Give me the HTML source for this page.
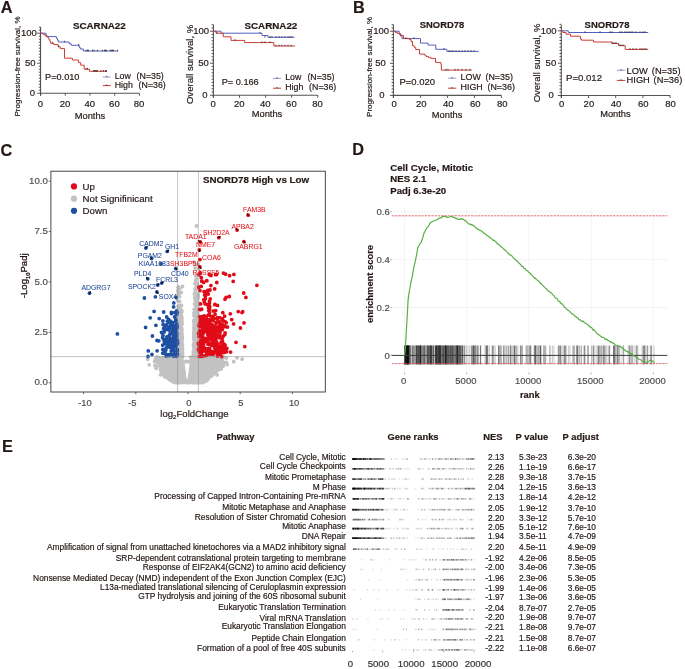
<!DOCTYPE html>
<html><head><meta charset="utf-8"><style>
html,body{margin:0;padding:0;background:#fff;}
svg{display:block;filter:blur(0.3px);font-family:"Liberation Sans",sans-serif;}
</style></head><body>
<svg width="685" height="669" viewBox="0 0 685 669">
<rect width="685" height="669" fill="#fff"/>
<text x="0.8" y="12.6" font-size="16.3" font-weight="bold" fill="#231815" stroke="#231815" stroke-width="0.18">A</text>
<text x="353.0" y="13.2" font-size="16.3" font-weight="bold" fill="#231815" stroke="#231815" stroke-width="0.18">B</text>
<text x="0.6" y="156.3" font-size="16.3" font-weight="bold" fill="#231815" stroke="#231815" stroke-width="0.18">C</text>
<text x="352.2" y="155.1" font-size="16.3" font-weight="bold" fill="#231815" stroke="#231815" stroke-width="0.18">D</text>
<text x="2.1" y="451.5" font-size="16.3" font-weight="bold" fill="#231815" stroke="#231815" stroke-width="0.18">E</text>
<path d="M40.6,27.0V95.7" stroke="#333" stroke-width="0.9" fill="none"/>
<path d="M40.1,93.2H139.4" stroke="#555" stroke-width="1.1" fill="none"/>
<path d="M37.20,93.20H40.6M38.80,90.20H40.6M38.80,87.20H40.6M38.80,84.20H40.6M38.80,81.20H40.6M38.80,78.20H40.6M38.80,75.20H40.6M38.80,72.20H40.6M38.80,69.20H40.6M38.80,66.20H40.6M37.20,63.20H40.6M38.80,60.20H40.6M38.80,57.20H40.6M38.80,54.20H40.6M38.80,51.20H40.6M38.80,48.20H40.6M38.80,45.20H40.6M38.80,42.20H40.6M38.80,39.20H40.6M38.80,36.20H40.6M37.20,33.20H40.6M38.80,30.20H40.6M38.80,27.20H40.6" stroke="#333" stroke-width="0.85" fill="none"/>
<path d="M40.60,93.2V95.7M65.30,93.2V95.7M90.00,93.2V95.7M114.70,93.2V95.7M139.40,93.2V95.7" stroke="#444" stroke-width="0.9" fill="none"/>
<text x="35.0" y="95.6" font-size="9.5" text-anchor="end" fill="#231815" stroke="#231815" stroke-width="0.18">0</text>
<text x="35.6" y="66.3" font-size="9.5" text-anchor="end" fill="#231815" stroke="#231815" stroke-width="0.18">50</text>
<text x="36.8" y="36.3" font-size="9.5" text-anchor="end" fill="#231815" stroke="#231815" stroke-width="0.18">100</text>
<text x="40.3" y="107.0" font-size="9.5" text-anchor="middle" fill="#231815" stroke="#231815" stroke-width="0.18">0</text>
<text x="65.0" y="107.0" font-size="9.5" text-anchor="middle" fill="#231815" stroke="#231815" stroke-width="0.18">20</text>
<text x="89.7" y="107.0" font-size="9.5" text-anchor="middle" fill="#231815" stroke="#231815" stroke-width="0.18">40</text>
<text x="114.4" y="107.0" font-size="9.5" text-anchor="middle" fill="#231815" stroke="#231815" stroke-width="0.18">60</text>
<text x="139.1" y="107.0" font-size="9.5" text-anchor="middle" fill="#231815" stroke="#231815" stroke-width="0.18">80</text>
<text x="90.0" y="118.6" font-size="9.3" text-anchor="middle" fill="#231815" stroke="#231815" stroke-width="0.18">Months</text>
<text transform="translate(20.0,66.5) rotate(-90)" font-size="8.0" text-anchor="middle" fill="#231815" stroke="#231815" stroke-width="0.18">Progression-free survival, %</text>
<text x="99.3" y="29.4" font-size="9.8" font-weight="bold" text-anchor="middle" fill="#231815" stroke="#231815" stroke-width="0.18">SCARNA22</text>
<text x="45.0" y="80.0" font-size="9.2" fill="#231815" stroke="#231815" stroke-width="0.18">P=0.010</text>
<path d="M40.6,33.2H45.9V34.8H46.8V36.6H56.4V38.5H57.5V40.3H58.6V42H69.1V43.8H71.3V45.3H79.2V47.5H80.3V49H83.3V51H118" stroke="#5360c0" stroke-width="1" fill="none"/>
<path d="M40.6,33.2H42.8V34.1H44.2V35H45.4V35.9H46.8V36.8H48.1V38.1H48.9V39.4H49.8V41.1H50.7V43.3H53.8V44.6H58.1V46.8H60.3V48.6H64.5V58.2H72.4V60H78.5V62.6H80.7V65.2H84.2V69.2H89.5V71.3H107" stroke="#cc3c34" stroke-width="1" fill="none"/>
<path d="M64.7,40.7v1.6M78.7,44.0v1.6M86.2,49.7v1.6M87.5,49.7v1.6M88.5,49.7v1.6M92.5,49.7v1.6M94.0,49.7v1.6M97.4,49.7v1.6M102.4,49.7v1.6M104.6,49.7v1.6M105.5,49.7v1.6M106.5,49.7v1.6M110.3,49.7v1.6M111.3,49.7v1.6M112.5,49.7v1.6M113.5,49.7v1.6M117.6,49.7v1.6M52.4,42.0v1.6M58.6,45.5v1.6M86.0,67.9v1.6M87.5,67.9v1.6M93.4,70.0v1.6M94.4,70.0v1.6M95.4,70.0v1.6M96.4,70.0v1.6M97.4,70.0v1.6M101.0,70.0v1.6M103.5,70.0v1.6M105.5,70.0v1.6M106.5,70.0v1.6" stroke="#111" stroke-width="0.7" fill="none"/>
<path d="M102.8,77.0H110.7" stroke="#5360c0" stroke-width="1" opacity="0.6"/>
<path d="M102.8,85.6H110.7" stroke="#cc3c34" stroke-width="1"/>
<path d="M106.75,75.8v1.4M106.75,84.39999999999999v1.4" stroke="#111" stroke-width="0.7"/>
<text x="114.7" y="78.8" font-size="8.8" fill="#231815" stroke="#231815" stroke-width="0.18">Low</text>
<text x="114.7" y="88.4" font-size="8.8" fill="#231815" stroke="#231815" stroke-width="0.18">High</text>
<text x="136.6" y="78.8" font-size="8.8" fill="#231815" stroke="#231815" stroke-width="0.18">(N=35)</text>
<text x="138.6" y="88.4" font-size="8.8" fill="#231815" stroke="#231815" stroke-width="0.18">(N=36)</text>
<path d="M213.4,24.7V97.7" stroke="#333" stroke-width="0.9" fill="none"/>
<path d="M212.9,95.2H317.8" stroke="#555" stroke-width="1.1" fill="none"/>
<path d="M210.00,95.20H213.4M211.60,92.00H213.4M211.60,88.80H213.4M211.60,85.60H213.4M211.60,82.40H213.4M211.60,79.20H213.4M211.60,76.00H213.4M211.60,72.80H213.4M211.60,69.60H213.4M211.60,66.40H213.4M210.00,63.20H213.4M211.60,60.00H213.4M211.60,56.80H213.4M211.60,53.60H213.4M211.60,50.40H213.4M211.60,47.20H213.4M211.60,44.00H213.4M211.60,40.80H213.4M211.60,37.60H213.4M211.60,34.40H213.4M210.00,31.20H213.4M211.60,28.00H213.4M211.60,24.80H213.4" stroke="#333" stroke-width="0.85" fill="none"/>
<path d="M213.40,95.2V97.7M239.50,95.2V97.7M265.60,95.2V97.7M291.70,95.2V97.7M317.80,95.2V97.7" stroke="#444" stroke-width="0.9" fill="none"/>
<text x="207.6" y="97.6" font-size="9.5" text-anchor="end" fill="#231815" stroke="#231815" stroke-width="0.18">0</text>
<text x="208.8" y="66.3" font-size="9.5" text-anchor="end" fill="#231815" stroke="#231815" stroke-width="0.18">50</text>
<text x="209.1" y="34.3" font-size="9.5" text-anchor="end" fill="#231815" stroke="#231815" stroke-width="0.18">100</text>
<text x="213.1" y="107.0" font-size="9.5" text-anchor="middle" fill="#231815" stroke="#231815" stroke-width="0.18">0</text>
<text x="239.2" y="107.0" font-size="9.5" text-anchor="middle" fill="#231815" stroke="#231815" stroke-width="0.18">20</text>
<text x="265.3" y="107.0" font-size="9.5" text-anchor="middle" fill="#231815" stroke="#231815" stroke-width="0.18">40</text>
<text x="291.4" y="107.0" font-size="9.5" text-anchor="middle" fill="#231815" stroke="#231815" stroke-width="0.18">60</text>
<text x="317.5" y="107.0" font-size="9.5" text-anchor="middle" fill="#231815" stroke="#231815" stroke-width="0.18">80</text>
<text x="267.0" y="117.0" font-size="9.3" text-anchor="middle" fill="#231815" stroke="#231815" stroke-width="0.18">Months</text>
<text transform="translate(193.0,64.4) rotate(-90)" font-size="9.6" text-anchor="middle" fill="#231815" stroke="#231815" stroke-width="0.18">Overall survival, %</text>
<text x="270.9" y="29.4" font-size="9.8" font-weight="bold" text-anchor="middle" fill="#231815" stroke="#231815" stroke-width="0.18">SCARNA22</text>
<text x="221.7" y="84.9" font-size="9.2" fill="#231815" stroke="#231815" stroke-width="0.18">P= 0.166</text>
<path d="M213.4,31.2H221V33.2H262V35.5H268V37.3H294.5" stroke="#5360c0" stroke-width="1" fill="none"/>
<path d="M213.4,31.2H216V33.2H223.3V36.8H231V40.4H244.6V42.6H273.8V46H295" stroke="#cc3c34" stroke-width="1" fill="none"/>
<path d="M217.0,31.9v1.6M260.0,31.9v1.6M265.0,36.0v1.6M270.0,36.0v1.6M272.0,36.0v1.6M276.0,36.0v1.6M279.0,36.0v1.6M282.0,36.0v1.6M285.0,36.0v1.6M288.0,36.0v1.6M290.0,36.0v1.6M292.0,36.0v1.6M235.0,39.1v1.6M262.0,41.3v1.6M265.0,41.3v1.6M270.0,41.3v1.6M276.0,44.7v1.6M279.0,44.7v1.6M282.0,44.7v1.6M285.0,44.7v1.6M288.0,44.7v1.6M291.0,44.7v1.6" stroke="#111" stroke-width="0.7" fill="none"/>
<path d="M273.0,78.4H281.1" stroke="#5360c0" stroke-width="1" opacity="0.6"/>
<path d="M273.0,88.2H281.1" stroke="#cc3c34" stroke-width="1"/>
<path d="M277.05,77.2v1.4M277.05,87.0v1.4" stroke="#111" stroke-width="0.7"/>
<text x="285.2" y="80.3" font-size="8.8" fill="#231815" stroke="#231815" stroke-width="0.18">Low</text>
<text x="285.2" y="89.7" font-size="8.8" fill="#231815" stroke="#231815" stroke-width="0.18">High</text>
<text x="307.4" y="80.3" font-size="8.8" fill="#231815" stroke="#231815" stroke-width="0.18">(N=35)</text>
<text x="309.1" y="89.7" font-size="8.8" fill="#231815" stroke="#231815" stroke-width="0.18">(N=36)</text>
<path d="M393.4,24.6V97.9" stroke="#333" stroke-width="0.9" fill="none"/>
<path d="M392.9,95.4H501.4" stroke="#555" stroke-width="1.1" fill="none"/>
<path d="M390.00,95.40H393.4M391.60,92.19H393.4M391.60,88.98H393.4M391.60,85.77H393.4M391.60,82.56H393.4M391.60,79.35H393.4M391.60,76.14H393.4M391.60,72.93H393.4M391.60,69.72H393.4M391.60,66.51H393.4M390.00,63.30H393.4M391.60,60.09H393.4M391.60,56.88H393.4M391.60,53.67H393.4M391.60,50.46H393.4M391.60,47.25H393.4M391.60,44.04H393.4M391.60,40.83H393.4M391.60,37.62H393.4M391.60,34.41H393.4M390.00,31.20H393.4M391.60,27.99H393.4M391.60,24.78H393.4" stroke="#333" stroke-width="0.85" fill="none"/>
<path d="M393.40,95.4V97.9M420.40,95.4V97.9M447.40,95.4V97.9M474.40,95.4V97.9M501.40,95.4V97.9" stroke="#444" stroke-width="0.9" fill="none"/>
<text x="384.6" y="97.8" font-size="9.5" text-anchor="end" fill="#231815" stroke="#231815" stroke-width="0.18">0</text>
<text x="385.8" y="66.4" font-size="9.5" text-anchor="end" fill="#231815" stroke="#231815" stroke-width="0.18">50</text>
<text x="389.1" y="34.3" font-size="9.5" text-anchor="end" fill="#231815" stroke="#231815" stroke-width="0.18">100</text>
<text x="394.2" y="107.4" font-size="9.5" text-anchor="middle" fill="#231815" stroke="#231815" stroke-width="0.18">0</text>
<text x="421.2" y="107.4" font-size="9.5" text-anchor="middle" fill="#231815" stroke="#231815" stroke-width="0.18">20</text>
<text x="448.2" y="107.4" font-size="9.5" text-anchor="middle" fill="#231815" stroke="#231815" stroke-width="0.18">40</text>
<text x="475.2" y="107.4" font-size="9.5" text-anchor="middle" fill="#231815" stroke="#231815" stroke-width="0.18">60</text>
<text x="502.2" y="107.4" font-size="9.5" text-anchor="middle" fill="#231815" stroke="#231815" stroke-width="0.18">80</text>
<text x="447.1" y="118.4" font-size="9.3" text-anchor="middle" fill="#231815" stroke="#231815" stroke-width="0.18">Months</text>
<text transform="translate(371.8,66.9) rotate(-90)" font-size="8.0" text-anchor="middle" fill="#231815" stroke="#231815" stroke-width="0.18">Progression-free survival, %</text>
<text x="442.0" y="27.5" font-size="9.4" font-weight="bold" text-anchor="middle" fill="#231815" stroke="#231815" stroke-width="0.18">SNORD78</text>
<text x="399.4" y="84.9" font-size="9.5" fill="#231815" stroke="#231815" stroke-width="0.18">P=0.020</text>
<path d="M393.4,31.2H399.2V33.5H400.5V36H402V38.6H420.5V43.1H428.1V45.1H435.8V49.3H446.9V51.4H478.7" stroke="#5360c0" stroke-width="1" fill="none"/>
<path d="M393.4,31.2H395.5V32.6H397.5V33.5H399.5V34.7H401.5V35.6H403.5V38.4H409.4V39.5H411V41.5H412.5V45.8H414.3V47.3H415.7V49.5H419.5V54.1H424.7V55.2H426.1V56.5H428.5V57.7H431V58.4H435.5V62.4H440.8V64H441.3V70.1H471.7" stroke="#cc3c34" stroke-width="1" fill="none"/>
<path d="M406.0,37.3v1.6M414.0,37.3v1.6M444.0,48.0v1.6M449.0,50.1v1.6M451.0,50.1v1.6M453.0,50.1v1.6M456.0,50.1v1.6M459.0,50.1v1.6M462.0,50.1v1.6M465.0,50.1v1.6M468.0,50.1v1.6M471.0,50.1v1.6M474.0,50.1v1.6M446.0,68.8v1.6M448.0,68.8v1.6M455.0,68.8v1.6M458.0,68.8v1.6M462.0,68.8v1.6M466.0,68.8v1.6M470.0,68.8v1.6" stroke="#111" stroke-width="0.7" fill="none"/>
<path d="M448.1,78.2H456.3" stroke="#5360c0" stroke-width="1" opacity="0.6"/>
<path d="M448.1,88.2H456.3" stroke="#cc3c34" stroke-width="1"/>
<path d="M452.20000000000005,77.0v1.4M452.20000000000005,87.0v1.4" stroke="#111" stroke-width="0.7"/>
<text x="460.6" y="80.4" font-size="8.9" fill="#231815" stroke="#231815" stroke-width="0.18">LOW</text>
<text x="460.6" y="90.3" font-size="8.9" fill="#231815" stroke="#231815" stroke-width="0.18">HIGH</text>
<text x="485.5" y="80.4" font-size="8.9" fill="#231815" stroke="#231815" stroke-width="0.18">(N=35)</text>
<text x="487.5" y="90.3" font-size="8.9" fill="#231815" stroke="#231815" stroke-width="0.18">(N=36)</text>
<path d="M561.3,24.9V98.0" stroke="#333" stroke-width="0.9" fill="none"/>
<path d="M560.8,95.5H670.0999999999999" stroke="#555" stroke-width="1.1" fill="none"/>
<path d="M557.90,95.50H561.3M559.50,92.27H561.3M559.50,89.03H561.3M559.50,85.80H561.3M559.50,82.56H561.3M559.50,79.33H561.3M559.50,76.09H561.3M559.50,72.86H561.3M559.50,69.62H561.3M559.50,66.38H561.3M557.90,63.15H561.3M559.50,59.91H561.3M559.50,56.68H561.3M559.50,53.45H561.3M559.50,50.21H561.3M559.50,46.98H561.3M559.50,43.74H561.3M559.50,40.50H561.3M559.50,37.27H561.3M559.50,34.03H561.3M557.90,30.80H561.3M559.50,27.56H561.3M559.50,24.33H561.3" stroke="#333" stroke-width="0.85" fill="none"/>
<path d="M561.30,95.5V98.0M588.50,95.5V98.0M615.70,95.5V98.0M642.90,95.5V98.0M670.10,95.5V98.0" stroke="#444" stroke-width="0.9" fill="none"/>
<text x="553.8" y="97.9" font-size="9.5" text-anchor="end" fill="#231815" stroke="#231815" stroke-width="0.18">0</text>
<text x="556.2" y="66.2" font-size="9.5" text-anchor="end" fill="#231815" stroke="#231815" stroke-width="0.18">50</text>
<text x="556.6" y="33.9" font-size="9.5" text-anchor="end" fill="#231815" stroke="#231815" stroke-width="0.18">100</text>
<text x="561.7" y="107.2" font-size="9.5" text-anchor="middle" fill="#231815" stroke="#231815" stroke-width="0.18">0</text>
<text x="588.9" y="107.2" font-size="9.5" text-anchor="middle" fill="#231815" stroke="#231815" stroke-width="0.18">20</text>
<text x="616.1" y="107.2" font-size="9.5" text-anchor="middle" fill="#231815" stroke="#231815" stroke-width="0.18">40</text>
<text x="643.3" y="107.2" font-size="9.5" text-anchor="middle" fill="#231815" stroke="#231815" stroke-width="0.18">60</text>
<text x="670.5" y="107.2" font-size="9.5" text-anchor="middle" fill="#231815" stroke="#231815" stroke-width="0.18">80</text>
<text x="615.4" y="116.8" font-size="9.3" text-anchor="middle" fill="#231815" stroke="#231815" stroke-width="0.18">Months</text>
<text transform="translate(539.5,63.0) rotate(-90)" font-size="9.5" text-anchor="middle" fill="#231815" stroke="#231815" stroke-width="0.18">Overall survival, %</text>
<text x="607.0" y="27.5" font-size="9.5" font-weight="bold" text-anchor="middle" fill="#231815" stroke="#231815" stroke-width="0.18">SNORD78</text>
<text x="566.0" y="80.8" font-size="9.6" fill="#231815" stroke="#231815" stroke-width="0.18">P=0.012</text>
<path d="M561.3,30.8H568.3V32.5H648.2" stroke="#5360c0" stroke-width="1" fill="none"/>
<path d="M561.3,30.8H562.8V32.5H566V34.2H570.5V36.2H580.4V39.1H581.5V40.2H593.5V42H612.1V43.5H618.7V45.7H625.2V49.4H648.2" stroke="#cc3c34" stroke-width="1" fill="none"/>
<path d="M585.0,31.2v1.6M600.0,31.2v1.6M610.0,31.2v1.6M612.0,31.2v1.6M620.0,31.2v1.6M622.0,31.2v1.6M625.0,31.2v1.6M627.0,31.2v1.6M629.0,31.2v1.6M631.0,31.2v1.6M633.0,31.2v1.6M636.0,31.2v1.6M640.0,31.2v1.6M643.0,31.2v1.6M645.0,31.2v1.6M612.0,42.2v1.6M614.0,42.2v1.6M616.0,42.2v1.6M619.0,44.4v1.6M621.0,44.4v1.6M623.0,44.4v1.6M630.0,48.1v1.6M633.0,48.1v1.6M636.0,48.1v1.6M640.0,48.1v1.6M642.0,48.1v1.6M644.0,48.1v1.6M646.0,48.1v1.6" stroke="#111" stroke-width="0.7" fill="none"/>
<path d="M616.8,70.3H625.3" stroke="#5360c0" stroke-width="1" opacity="0.6"/>
<path d="M616.8,80.4H625.3" stroke="#cc3c34" stroke-width="1"/>
<path d="M621.05,69.1v1.4M621.05,79.2v1.4" stroke="#111" stroke-width="0.7"/>
<text x="626.6" y="73.5" font-size="9.3" fill="#231815" stroke="#231815" stroke-width="0.18">LOW</text>
<text x="626.6" y="83.3" font-size="9.3" fill="#231815" stroke="#231815" stroke-width="0.18">HIGH</text>
<text x="651.8" y="73.5" font-size="9.3" fill="#231815" stroke="#231815" stroke-width="0.18">(N=35)</text>
<text x="653.6" y="83.3" font-size="9.3" fill="#231815" stroke="#231815" stroke-width="0.18">(N=36)</text>
<path d="M194.5 366.4h0M179.0 362.5h0M177.7 374.9h0M182.5 361.9h0M195.3 374.9h0M178.5 376.1h0M199.7 369.6h0M173.8 366.5h0M194.1 366.7h0M188.2 381.9h0M183.6 370.6h0M192.1 366.3h0M180.1 377.8h0M202.2 382.7h0M191.6 360.6h0M170.4 363.3h0M192.2 368.6h0M216.7 359.9h0M175.0 367.1h0M198.1 372.6h0M199.5 378.9h0M199.3 372.8h0M181.8 367.3h0M175.1 378.8h0M205.6 380.3h0M180.2 377.2h0M164.6 374.9h0M199.6 360.6h0M176.1 366.0h0M199.1 376.5h0M199.3 359.8h0M204.3 368.4h0M198.2 363.1h0M195.1 373.0h0M178.9 365.5h0M182.5 373.8h0M197.0 364.9h0M197.4 359.0h0M176.8 363.1h0M179.4 379.2h0M193.1 361.4h0M182.9 366.3h0M164.5 369.3h0M195.3 376.9h0M201.7 373.3h0M200.5 373.7h0M200.8 367.8h0M170.6 375.7h0M209.4 371.1h0M177.9 359.3h0M183.5 367.6h0M180.3 359.8h0M173.9 358.6h0M181.9 377.2h0M195.0 360.8h0M171.6 370.2h0M182.4 365.5h0M200.2 357.6h0M196.5 378.0h0M174.7 361.4h0M184.0 379.8h0M186.7 381.6h0M190.9 382.3h0M199.5 376.3h0M183.3 367.9h0M203.0 367.3h0M200.8 374.7h0M202.6 368.7h0M210.4 365.5h0M201.9 377.8h0M202.0 381.8h0M210.0 357.6h0M177.4 374.5h0M201.6 366.4h0M163.1 374.6h0M170.9 377.6h0M177.9 366.0h0M197.2 380.3h0M195.9 366.2h0M182.0 361.7h0M179.0 363.9h0M180.4 359.4h0M195.0 382.1h0M172.4 377.2h0M171.7 376.2h0M200.3 365.6h0M191.7 372.8h0M205.7 365.4h0M161.9 372.9h0M181.7 376.3h0M208.0 370.8h0M175.3 363.1h0M205.4 374.9h0M191.1 379.3h0M197.8 380.7h0M177.0 375.7h0M181.7 361.0h0M174.0 377.9h0M213.1 364.2h0M195.6 361.1h0M193.9 373.1h0M206.1 368.7h0M183.4 378.0h0M166.9 365.9h0M203.2 356.7h0M199.3 360.7h0M193.4 372.4h0M210.3 362.9h0M182.3 371.8h0M197.2 360.7h0M180.6 361.2h0M172.7 379.6h0M193.1 367.7h0M177.6 363.1h0M216.9 358.8h0M194.8 370.4h0M176.2 374.6h0M197.8 359.5h0M173.0 376.8h0M209.9 369.6h0M178.3 378.2h0M194.5 369.0h0M215.0 362.1h0M191.3 378.1h0M195.7 379.8h0M172.2 358.1h0M199.8 357.4h0M168.3 369.5h0M181.8 358.8h0M180.4 381.1h0M175.6 362.8h0M204.5 360.5h0M171.8 367.2h0M203.7 369.3h0M180.4 357.5h0M195.7 361.7h0M204.0 361.8h0M174.8 365.9h0M201.1 371.4h0M165.8 364.6h0M198.4 374.0h0M182.2 357.7h0M168.8 372.1h0M204.6 380.6h0M177.0 368.2h0M184.6 381.8h0M186.6 380.9h0M173.8 377.0h0M202.1 359.8h0M190.7 370.9h0M177.9 364.2h0M180.4 366.5h0M198.3 372.1h0M176.4 372.8h0M191.3 363.0h0M178.8 373.9h0M168.1 372.8h0M176.5 362.2h0M170.7 360.2h0M180.9 368.2h0M195.6 365.0h0M181.2 371.8h0M180.8 375.1h0M177.9 371.5h0M166.7 371.1h0M191.3 375.8h0M177.1 369.8h0M177.4 380.9h0M200.4 377.6h0M178.1 361.1h0M171.0 362.6h0M208.7 363.6h0M207.5 366.2h0M189.8 374.8h0M180.9 381.0h0M178.2 370.0h0M191.5 373.8h0M182.6 371.3h0M192.6 366.0h0M185.1 379.2h0M183.4 382.1h0M174.9 378.5h0M192.5 382.4h0M168.9 378.0h0M193.8 372.1h0M170.8 365.4h0M205.9 362.5h0M193.7 357.8h0M202.9 379.8h0M171.1 358.8h0M213.4 357.8h0M174.2 382.3h0M192.0 360.5h0M180.5 374.0h0M198.2 360.4h0M194.6 382.7h0M195.6 358.2h0M154.6 361.4h0M197.7 369.3h0M212.8 368.4h0M194.7 380.6h0M200.9 362.7h0M216.2 370.9h0M208.1 366.1h0M209.8 372.9h0M200.9 382.1h0M170.9 364.1h0M195.0 363.6h0M170.7 370.5h0M197.1 371.0h0M184.4 374.8h0M178.7 378.3h0M193.3 370.6h0M199.4 363.4h0M178.6 375.6h0M193.4 379.5h0M182.4 370.4h0M193.5 382.6h0M192.1 380.9h0M179.8 361.5h0M171.9 370.9h0M193.4 372.5h0M186.2 380.7h0M179.0 357.8h0M177.2 365.8h0M199.8 368.4h0M217.5 368.5h0M197.1 373.0h0M199.5 358.6h0M181.2 376.3h0M199.5 381.6h0M180.9 358.6h0M160.5 369.1h0M193.9 371.3h0M167.1 363.1h0M174.9 361.6h0M191.6 362.3h0M195.1 359.9h0M183.6 379.2h0M207.9 373.4h0M181.8 375.4h0M189.9 374.1h0M176.5 359.5h0M199.9 371.3h0M194.1 364.1h0M191.7 364.6h0M210.1 359.0h0M181.9 380.4h0M199.3 358.2h0M208.8 358.7h0M200.4 381.0h0M181.9 370.8h0M178.6 363.5h0M194.7 362.3h0M180.7 370.9h0M174.7 358.0h0M198.9 379.1h0M206.7 363.0h0M172.9 362.8h0M192.0 374.3h0M168.3 377.9h0M191.8 375.0h0M197.8 381.9h0M200.8 364.3h0M192.5 357.9h0M167.5 369.1h0M198.8 381.9h0M175.4 380.8h0M209.5 374.1h0M202.9 371.4h0M200.6 376.4h0M201.2 378.7h0M201.9 374.0h0M200.7 380.5h0M192.6 365.1h0M178.5 366.6h0M196.6 376.0h0M188.9 382.4h0M190.3 381.0h0M178.0 364.6h0M199.3 362.2h0M193.0 378.2h0M205.4 360.5h0M200.3 372.2h0M191.9 369.6h0M173.4 371.2h0M193.1 360.0h0M194.2 374.5h0M202.4 356.8h0M192.5 381.4h0M204.1 369.6h0M181.4 357.8h0M194.6 379.5h0M206.1 372.1h0M206.2 366.4h0M176.2 367.7h0M206.2 370.4h0M195.9 368.7h0M184.2 382.3h0M191.0 372.8h0M206.3 357.6h0M165.1 374.0h0M199.3 358.5h0M200.2 361.6h0M161.1 366.5h0M177.1 365.2h0M178.7 357.4h0M190.8 375.2h0M198.1 379.4h0M179.8 371.5h0M213.8 359.1h0M182.0 364.0h0M196.3 359.3h0M191.3 369.6h0M167.0 365.2h0M181.1 382.0h0M171.9 378.6h0M178.0 367.3h0M176.8 380.0h0M172.7 361.7h0M198.0 366.3h0M177.9 369.4h0M164.7 356.8h0M202.1 371.7h0M180.3 362.4h0M172.6 366.0h0M176.1 370.5h0M179.9 374.5h0M170.4 356.7h0M182.4 381.5h0M205.7 361.2h0M178.2 374.2h0M159.2 357.6h0M192.8 375.1h0M181.3 363.1h0M193.5 378.9h0M195.2 363.3h0M171.5 357.0h0M223.4 362.6h0M175.1 359.9h0M200.3 364.0h0M195.4 377.7h0M200.5 365.6h0M180.8 359.7h0M181.8 381.4h0M181.2 372.7h0M199.1 364.3h0M194.8 357.5h0M192.4 366.8h0M198.7 380.5h0M178.2 359.8h0M191.9 379.4h0M179.5 370.2h0M204.3 358.8h0M179.9 378.6h0M178.5 369.9h0M191.2 380.5h0M175.6 380.6h0M166.1 372.6h0M202.7 360.2h0M205.4 373.4h0M201.4 372.7h0M179.0 373.3h0M202.2 379.5h0M189.6 377.9h0M171.6 365.6h0M207.1 368.8h0M206.0 364.0h0M209.5 366.7h0M204.5 364.0h0M193.2 376.5h0M217.1 360.8h0M174.5 373.8h0M194.9 365.3h0M208.7 374.2h0M202.3 364.9h0M196.1 380.6h0M210.4 367.7h0M171.2 371.1h0M171.8 363.8h0M179.6 363.3h0M198.3 380.5h0M203.7 366.5h0M192.9 362.6h0M168.4 374.4h0M178.8 368.9h0M205.1 373.7h0M198.7 370.7h0M193.5 377.0h0M194.4 380.9h0M172.2 359.4h0M202.1 379.6h0M208.1 364.1h0M195.7 371.5h0M173.8 361.2h0M181.3 379.3h0M166.4 366.8h0M169.3 357.0h0M171.1 373.1h0M202.5 358.5h0M177.8 370.6h0M198.7 377.8h0M162.7 358.0h0M162.0 361.2h0M206.7 361.0h0M198.8 373.9h0M199.9 373.1h0M178.7 360.5h0M211.4 365.0h0M190.3 377.1h0M168.4 357.9h0M174.4 356.9h0M193.6 360.4h0M175.6 371.6h0M196.9 373.6h0M194.3 378.6h0M178.1 382.5h0M210.2 376.7h0M211.2 357.6h0M181.3 370.2h0M165.6 365.9h0M197.5 374.7h0M200.4 375.0h0M188.4 382.7h0M200.3 365.5h0M212.1 364.8h0M210.0 370.6h0M200.0 368.8h0M174.6 376.6h0M200.6 371.9h0M181.9 373.3h0M179.0 382.2h0M171.7 368.6h0M206.1 360.3h0M168.2 365.6h0M174.8 370.2h0M178.4 357.7h0M178.8 359.3h0M190.6 377.0h0M215.1 372.9h0M184.2 381.2h0M201.3 369.8h0M219.2 363.1h0M196.1 363.9h0M191.6 364.5h0M164.2 376.0h0M168.5 365.6h0M208.1 375.8h0M183.8 378.3h0M177.1 363.5h0M179.2 381.0h0M194.6 367.7h0M192.2 371.4h0M180.8 369.2h0M194.2 377.5h0M205.5 368.7h0M179.7 358.3h0M189.7 382.2h0M195.9 378.8h0M201.6 369.7h0M200.8 362.3h0M172.1 362.3h0M172.7 374.6h0M190.5 373.0h0M198.0 365.1h0M206.8 376.5h0M204.1 365.4h0M204.3 375.5h0M206.7 372.1h0M189.3 380.4h0M200.8 359.1h0M219.9 358.4h0M177.3 358.1h0M168.1 365.4h0M205.1 367.9h0M205.7 358.7h0M172.1 373.8h0M192.0 359.1h0M195.9 369.9h0M183.4 373.8h0M202.7 358.0h0M162.4 361.6h0M181.2 363.6h0M172.4 360.8h0M175.5 364.2h0M200.4 377.2h0M176.7 371.3h0M214.7 358.1h0M193.8 375.1h0M203.8 374.1h0M205.3 360.9h0M194.7 370.5h0M180.0 368.9h0M175.2 368.7h0M206.3 356.8h0M190.8 368.9h0M198.0 361.3h0M204.1 376.7h0M203.9 371.6h0M200.0 367.2h0M195.8 368.2h0M193.6 375.8h0M173.9 369.0h0M193.3 367.0h0M177.5 367.8h0M181.5 363.5h0M190.4 370.6h0M209.0 361.2h0M192.2 363.2h0M189.5 379.0h0M202.7 372.8h0M176.1 370.5h0M180.9 361.8h0M210.4 369.0h0M197.0 362.2h0M198.4 367.7h0M180.4 379.6h0M209.1 376.7h0M181.7 377.5h0M198.8 366.2h0M186.2 381.6h0M179.8 372.8h0M199.1 367.2h0M189.4 380.8h0M193.9 370.2h0M179.3 377.3h0M195.1 372.2h0M172.6 373.4h0M176.0 382.3h0M205.0 363.5h0M167.7 374.6h0M203.4 377.3h0M194.5 379.8h0M182.7 380.5h0M207.9 366.9h0M172.9 364.5h0M201.2 379.8h0M191.9 377.4h0M212.4 356.8h0M196.9 365.7h0M178.2 380.0h0M175.1 364.7h0M190.9 366.1h0M215.0 360.5h0M210.9 360.9h0M197.7 378.1h0M218.0 364.0h0M161.8 370.6h0M191.6 367.7h0M203.1 373.9h0M194.4 361.0h0M170.1 379.1h0M205.8 378.9h0M171.6 363.1h0M191.6 380.5h0M207.4 373.2h0M211.1 375.0h0M194.2 358.7h0M199.9 360.2h0M173.8 373.2h0M196.7 362.5h0M165.8 376.4h0M197.1 375.1h0M209.3 356.7h0M180.3 371.0h0M183.5 370.2h0M192.7 356.9h0M169.4 364.5h0M168.6 373.6h0M202.0 367.2h0M175.8 365.3h0M224.1 357.3h0M203.0 367.8h0M176.2 375.6h0M183.0 379.9h0M202.1 362.8h0M196.1 372.8h0M164.1 360.5h0M182.9 365.4h0M165.7 362.5h0M191.8 375.9h0M218.0 369.8h0M204.5 376.6h0M209.6 364.9h0M176.9 357.0h0M191.9 371.7h0M206.1 374.2h0M207.4 357.9h0M193.1 381.7h0M205.4 376.0h0M206.1 381.0h0M196.7 382.3h0M180.4 364.9h0M197.6 371.2h0M221.3 358.3h0M172.2 372.6h0M171.8 364.5h0M205.7 367.2h0M209.5 375.3h0M211.7 373.2h0M197.4 369.3h0M201.8 362.3h0M199.5 368.4h0M169.0 378.6h0M195.5 382.0h0M208.7 377.7h0M216.3 358.6h0M203.9 373.5h0M180.4 366.2h0M191.5 366.7h0M168.7 372.9h0M201.9 358.0h0M180.8 377.1h0M198.1 361.7h0M195.6 363.0h0M192.6 368.6h0M197.4 382.7h0M202.9 360.9h0M202.1 380.9h0M192.0 357.4h0M218.0 357.7h0M215.6 371.8h0M161.3 360.2h0M212.4 362.7h0M167.3 371.9h0M172.9 369.9h0M183.8 375.7h0M197.0 372.3h0M176.5 380.3h0M210.2 376.3h0M211.6 369.2h0M195.6 359.6h0M194.4 381.6h0M207.6 370.2h0M203.7 376.3h0M201.0 374.1h0M212.7 369.9h0M202.8 382.7h0M179.9 375.8h0M170.8 374.1h0M198.6 369.2h0M203.7 367.2h0M195.4 367.1h0M195.9 372.2h0M195.8 377.8h0M194.3 357.4h0M179.2 379.6h0M214.3 364.2h0M206.5 365.4h0M175.4 371.3h0M219.2 364.6h0M169.5 360.7h0M183.7 373.9h0M177.6 378.6h0M172.8 357.2h0M204.2 358.4h0M199.4 365.0h0M183.0 370.0h0M180.2 367.6h0M167.1 375.2h0M197.9 370.1h0M172.8 366.8h0M208.2 358.7h0M195.3 369.3h0M196.9 357.1h0M174.3 380.1h0M181.3 366.9h0M184.5 377.5h0M175.6 366.8h0M202.1 377.1h0M164.4 373.0h0M182.0 365.2h0M213.0 371.3h0M204.0 357.1h0M206.5 367.0h0M177.8 381.1h0M194.1 362.6h0M189.8 382.6h0M156.8 356.8h0M210.9 356.7h0M190.0 380.5h0M181.3 365.7h0M207.5 364.3h0M165.0 365.0h0M189.7 376.5h0M171.3 366.1h0M198.4 357.8h0M205.0 371.2h0M203.1 375.6h0M174.4 371.4h0M214.4 371.1h0M174.5 368.5h0M216.9 357.9h0M168.6 375.4h0M172.3 374.5h0M200.7 360.8h0M208.8 371.7h0M200.1 363.1h0M181.9 382.6h0M175.3 372.7h0M193.9 382.7h0M183.1 375.8h0M191.5 380.1h0M176.9 368.7h0M196.3 376.9h0M184.1 371.7h0M196.9 359.9h0M215.7 372.7h0M199.5 375.6h0M172.5 361.1h0M207.6 374.9h0M222.9 361.7h0M195.1 358.9h0M192.3 382.5h0M171.7 378.1h0M214.7 362.5h0M179.0 370.6h0M176.9 372.3h0M174.6 374.8h0M167.5 361.1h0M199.0 372.5h0M189.6 379.3h0M209.4 358.0h0M167.9 361.3h0M198.6 379.8h0M210.9 366.4h0M204.1 363.0h0M206.3 376.7h0M209.6 359.9h0M176.0 359.0h0M178.1 373.3h0M213.2 360.9h0M197.5 379.0h0M189.2 382.7h0M199.2 382.7h0M205.4 371.8h0M210.6 359.0h0M171.1 368.2h0M168.8 368.2h0M167.1 367.1h0M199.3 375.1h0M202.9 378.9h0M209.7 357.0h0M159.7 360.1h0M182.2 357.4h0M211.9 372.0h0M161.7 365.5h0M178.4 356.9h0M208.2 374.1h0M196.0 375.8h0M196.3 366.7h0M170.8 368.6h0M204.6 357.4h0M163.0 361.7h0M209.3 373.3h0M190.5 371.8h0M196.6 367.6h0M183.6 369.4h0M171.3 372.4h0M171.6 359.8h0M173.3 357.9h0M204.7 358.0h0M197.3 370.1h0M186.9 382.6h0M178.8 364.6h0M203.5 380.6h0M175.3 372.0h0M203.0 369.6h0M176.0 378.2h0M193.8 364.6h0M213.4 365.3h0M210.6 371.7h0M176.6 373.4h0M169.9 370.4h0M176.2 378.8h0M164.8 376.3h0M213.1 366.9h0M185.2 380.9h0M207.5 368.3h0M154.9 365.5h0M184.8 377.6h0M168.7 364.2h0M212.5 360.4h0M208.8 365.5h0M204.8 377.6h0M166.4 361.6h0M174.2 367.9h0M201.3 359.5h0M206.2 376.2h0M191.3 372.2h0M172.7 360.1h0M180.4 374.5h0M212.2 358.7h0M206.7 359.3h0M201.5 358.9h0M195.3 376.3h0M173.3 376.5h0M167.3 373.3h0M163.2 360.9h0M195.5 379.2h0M174.8 357.0h0M204.2 359.7h0M204.6 381.5h0M170.2 363.8h0M220.6 366.4h0M180.7 356.6h0M208.4 360.6h0M197.7 376.9h0M175.3 376.2h0M176.7 377.7h0M213.7 373.3h0M166.5 377.3h0M174.1 375.4h0M218.2 360.7h0M206.4 375.0h0M221.9 359.3h0M162.6 374.0h0M195.8 375.4h0M162.1 359.6h0M196.6 363.5h0M173.2 368.0h0M178.4 382.7h0M204.4 381.1h0M177.4 382.1h0M208.6 375.7h0M170.1 357.8h0M188.2 381.0h0M205.3 366.8h0M164.7 359.6h0M205.0 379.0h0M171.5 380.7h0M180.0 364.1h0M162.3 369.9h0M221.1 362.8h0M174.4 363.3h0M203.0 362.3h0M167.0 359.5h0M160.6 364.2h0M161.1 371.2h0M202.8 365.3h0M202.4 375.6h0M212.3 366.3h0M203.0 363.4h0M214.3 373.6h0M164.3 360.6h0M206.6 360.3h0M181.7 367.9h0M158.8 361.5h0M166.1 356.8h0M163.4 372.6h0M195.1 374.0h0M169.9 373.4h0M200.1 380.4h0M202.3 368.0h0M176.7 382.7h0M182.6 367.3h0M182.7 378.8h0M193.1 374.0h0M195.6 357.2h0M175.4 359.0h0M180.8 380.4h0M174.8 380.0h0M204.6 366.2h0M166.2 373.8h0M217.6 361.7h0M173.8 365.4h0M217.9 365.4h0M158.8 362.7h0M206.3 361.6h0M185.1 380.2h0M213.4 357.2h0M163.9 358.6h0M190.9 368.0h0M174.2 361.8h0M165.6 370.1h0M177.0 375.5h0M163.8 364.7h0M210.7 366.7h0M182.2 379.4h0M206.6 378.4h0M191.9 358.3h0M169.6 369.3h0M211.0 372.9h0M201.7 369.1h0M220.6 365.2h0M202.7 366.0h0M197.5 380.9h0M173.6 380.9h0M220.5 360.4h0M206.8 374.0h0M175.8 374.3h0M196.1 373.9h0M212.6 369.3h0M212.6 359.5h0M198.0 382.8h0M167.1 357.6h0M208.4 369.4h0M193.1 364.3h0M192.6 361.6h0M207.3 371.5h0M176.6 360.5h0M194.3 377.4h0M206.6 361.7h0M157.6 362.2h0M202.7 372.2h0M202.0 374.8h0M212.3 375.1h0M166.7 374.5h0M167.7 367.6h0M216.1 361.3h0M203.5 363.6h0M214.4 366.9h0M181.3 378.3h0M207.5 378.4h0M170.4 374.5h0M202.2 370.9h0M182.9 372.1h0M197.0 377.1h0M201.3 377.8h0M204.4 370.8h0M156.5 360.4h0M174.9 382.4h0M197.8 357.2h0M201.5 368.8h0M222.0 359.6h0M175.8 369.0h0M199.0 369.6h0M204.0 377.9h0M191.5 364.8h0M171.2 360.8h0M218.7 367.8h0M170.7 379.2h0M200.8 365.3h0M169.1 379.5h0M169.6 366.0h0M165.3 366.5h0M166.8 364.5h0M209.9 371.7h0M197.4 358.4h0M220.8 364.0h0M172.3 381.4h0M204.5 370.1h0M162.8 369.6h0M205.6 373.5h0M172.9 372.2h0M216.7 363.9h0M186.4 382.6h0M167.9 367.1h0M218.4 365.6h0M163.9 367.1h0M218.9 369.3h0M191.4 364.0h0M167.7 359.1h0M166.5 367.8h0M211.6 375.9h0M174.4 359.9h0M194.3 367.6h0M214.7 365.5h0M203.8 379.8h0M183.0 376.9h0M162.3 373.6h0M184.1 372.6h0M207.9 360.1h0M214.3 357.7h0M217.4 365.1h0M211.8 371.3h0M219.6 358.8h0M204.3 379.0h0M181.1 382.5h0M177.4 361.5h0M173.3 373.8h0M193.2 358.7h0M165.8 357.9h0M174.0 373.7h0M214.3 360.2h0M226.4 358.0h0M176.1 382.7h0M180.5 364.6h0M170.3 367.3h0M158.6 364.0h0M178.6 372.1h0M214.3 357.0h0M172.6 378.9h0M177.5 366.7h0M172.5 358.9h0M169.7 360.1h0M179.4 382.5h0M208.6 369.2h0M206.2 371.4h0M194.8 357.3h0M168.3 370.6h0M164.3 363.9h0M173.6 366.6h0M169.0 369.6h0M209.3 368.1h0M206.8 375.3h0M179.2 368.3h0M176.5 358.0h0M201.4 356.6h0M213.6 368.6h0M208.0 357.0h0M167.3 375.8h0M166.2 377.5h0M170.3 376.0h0M173.0 378.1h0M173.5 375.7h0M165.3 376.9h0M160.8 365.0h0M183.3 375.0h0M178.6 361.2h0M218.8 359.7h0M181.7 360.0h0M213.7 364.6h0M171.0 367.3h0M202.7 375.2h0M158.4 365.7h0M176.2 376.7h0M216.8 357.0h0M207.5 368.0h0M215.3 364.7h0M214.3 361.3h0M186.4 380.5h0M220.1 363.6h0M204.7 379.5h0M210.8 367.9h0M196.8 366.9h0M174.2 357.6h0M171.1 380.1h0M202.4 361.3h0M166.6 367.8h0M173.5 369.0h0M173.2 381.5h0M162.2 359.3h0M183.1 364.3h0M208.2 363.5h0M214.2 363.1h0M176.7 359.8h0M192.8 370.0h0M155.9 359.1h0M206.7 380.4h0M212.9 361.9h0M169.2 375.8h0M160.5 369.6h0M198.4 376.4h0M164.7 367.3h0M179.1 374.8h0M204.8 362.0h0M179.9 381.8h0M212.1 357.6h0M159.7 361.7h0M175.7 357.3h0M213.1 359.4h0M207.8 379.4h0M208.3 361.7h0M170.3 377.3h0M149.2 364.8h0M191.1 360.7h0M200.6 357.7h0M242.1 359.2h0M162.9 369.3h0M159.6 358.7h0M172.3 371.7h0M223.0 364.2h0M217.1 374.9h0M168.2 362.7h0M217.8 370.5h0M170.5 371.7h0M166.3 359.4h0M164.2 371.5h0M189.1 361.7h0M219.6 367.5h0M187.0 361.7h0M226.4 362.4h0M190.8 357.2h0M155.4 359.0h0M237.0 357.8h0M233.7 361.7h0M221.5 367.6h0M156.1 368.3h0M160.5 374.8h0M218.1 359.0h0M147.7 359.3h0M221.5 367.4h0M185.8 361.5h0M164.0 358.4h0M223.5 365.8h0M227.2 364.6h0M221.2 369.1h0M218.9 361.8h0M198.3 344.6h0M178.6 350.9h0M193.9 355.9h0M180.5 338.1h0M193.8 344.6h0M195.6 335.1h0M196.4 323.7h0M196.6 332.6h0M195.3 316.0h0M195.7 356.2h0M182.1 354.6h0M194.7 353.1h0M180.9 324.7h0M193.6 355.0h0M198.2 296.7h0M180.8 355.6h0M178.0 342.0h0M197.2 329.3h0M196.3 278.9h0M179.2 331.0h0M180.2 352.1h0M178.6 351.7h0M178.1 347.8h0M196.8 308.5h0M195.9 342.9h0M177.7 339.4h0M195.9 348.0h0M181.8 354.0h0M181.3 292.6h0M197.0 302.5h0M194.8 297.6h0M179.0 353.5h0M180.0 326.8h0M197.8 353.6h0M196.2 350.2h0M177.9 331.2h0M197.5 351.4h0M179.7 348.4h0M196.6 328.3h0M178.4 351.4h0M196.5 346.8h0M182.2 345.5h0M195.2 329.3h0M181.4 342.9h0M180.5 325.6h0M196.9 345.6h0M194.6 345.2h0M196.2 310.1h0M195.0 336.6h0M179.6 341.1h0M194.9 340.1h0M197.1 352.4h0M182.5 350.1h0M178.2 287.3h0M196.1 338.0h0M193.8 337.2h0M197.1 341.5h0M194.3 314.4h0M179.6 296.7h0M182.4 345.3h0M195.1 327.5h0M181.1 349.5h0M194.6 303.8h0M182.0 330.0h0M197.0 354.1h0M197.6 336.4h0M179.1 333.5h0M194.6 338.9h0M196.3 296.8h0M179.3 342.6h0M196.5 354.1h0M198.4 302.7h0M196.7 342.9h0M179.1 355.6h0M196.7 353.2h0M194.7 310.3h0M181.3 339.0h0M194.5 320.6h0M181.2 341.3h0M182.3 338.9h0M194.9 347.1h0M197.8 337.4h0M181.7 350.3h0M197.5 332.9h0M181.4 350.8h0M179.8 343.7h0M180.3 346.4h0M198.0 338.5h0M181.8 342.4h0M181.2 339.9h0M195.1 353.8h0M197.3 350.3h0M177.7 355.7h0M182.3 336.8h0M196.8 294.5h0M178.8 346.3h0M196.0 330.6h0M178.2 343.6h0M194.0 348.8h0M196.2 346.3h0M198.1 352.5h0M197.0 322.7h0M196.2 350.8h0M195.1 288.8h0M197.0 337.7h0M197.5 341.9h0M181.1 345.0h0M179.8 288.8h0M194.2 349.8h0M181.6 319.5h0M178.8 347.1h0M195.9 353.0h0M178.5 348.4h0M194.1 339.7h0M195.4 303.0h0M179.7 313.4h0M194.0 334.2h0M195.4 332.2h0M197.5 356.3h0M181.5 354.7h0M180.1 330.5h0M194.8 351.2h0M198.3 345.6h0M179.9 355.5h0M195.9 327.8h0M194.1 346.1h0M179.2 288.7h0M179.5 323.8h0M179.4 305.7h0M180.3 351.3h0M182.5 351.7h0M196.0 339.2h0M195.4 348.6h0M182.0 311.7h0M181.4 346.7h0M182.2 323.7h0M195.8 329.8h0M179.4 349.3h0M180.2 310.2h0M193.9 334.7h0M193.6 339.3h0M179.6 354.2h0M197.9 341.7h0M194.0 347.2h0M197.6 354.6h0M194.4 353.0h0M193.9 327.9h0M180.5 333.3h0M194.0 330.4h0M179.6 317.0h0M180.6 342.2h0M178.5 336.7h0M195.3 317.3h0M193.4 345.6h0M196.3 332.9h0M179.9 324.4h0M195.0 343.0h0M193.4 353.4h0M197.8 339.6h0M179.9 347.2h0M195.8 283.0h0M179.0 332.5h0M181.7 349.2h0M196.1 293.6h0M195.1 319.6h0M193.5 355.6h0M194.0 354.5h0M195.7 323.2h0M179.9 349.9h0M195.6 328.9h0M193.6 343.7h0M194.3 293.9h0M179.5 354.5h0M195.5 352.3h0M182.0 318.1h0M178.7 322.4h0M177.8 290.7h0M179.6 320.0h0M177.8 346.4h0M180.8 325.7h0M194.3 331.7h0M197.5 348.5h0M198.3 264.3h0M198.2 330.6h0M180.6 353.9h0M198.2 314.9h0M197.6 274.9h0M178.1 346.6h0M179.0 344.1h0M180.8 344.1h0M195.2 292.9h0M179.9 311.5h0M196.5 345.5h0M181.5 305.3h0M197.1 334.8h0M181.5 317.9h0M196.8 319.0h0M179.7 335.3h0M195.3 317.9h0M197.3 321.6h0M195.9 326.2h0M197.5 356.3h0M179.7 301.6h0M195.5 281.6h0M196.2 287.5h0M195.3 290.8h0M193.9 351.3h0M180.2 318.0h0M196.9 339.6h0M182.6 353.4h0M195.3 314.0h0M178.7 341.8h0M177.9 350.3h0M194.4 325.4h0M177.6 322.6h0M194.7 355.3h0M194.5 342.3h0M196.1 327.3h0M194.5 344.5h0M197.0 348.7h0M181.9 356.4h0M194.2 326.2h0M194.8 350.3h0M182.3 344.3h0M196.2 306.6h0M181.9 332.8h0M179.0 335.3h0M196.5 331.7h0M195.1 315.5h0M198.2 334.7h0M198.0 318.2h0M197.9 325.6h0M198.0 349.4h0M195.1 341.5h0M195.5 356.2h0M177.6 343.5h0M194.8 347.5h0M197.7 353.1h0M196.1 308.9h0M197.0 336.8h0M181.1 313.4h0M181.5 347.5h0M194.9 334.7h0M180.4 349.5h0M195.1 346.0h0M179.5 328.9h0M197.8 340.8h0M195.1 326.0h0M178.7 355.3h0M180.6 307.1h0M197.6 350.9h0M178.0 352.7h0M177.6 300.6h0M197.2 325.4h0M178.3 345.2h0M197.6 331.6h0M178.4 292.5h0M181.7 328.1h0M178.9 349.8h0M180.9 335.4h0M195.5 349.1h0M179.9 338.5h0M177.9 314.3h0M197.1 283.7h0M197.2 319.9h0M197.7 327.5h0M194.0 324.3h0M197.1 338.6h0M182.3 352.8h0M197.1 310.8h0M194.3 337.7h0M193.8 332.8h0M178.7 345.4h0M179.8 344.9h0M196.1 302.1h0M197.2 324.3h0M181.3 330.2h0M195.8 346.6h0M197.0 330.2h0M198.4 349.7h0M178.8 329.8h0M182.2 351.7h0M180.7 353.2h0M197.3 354.6h0M182.6 348.0h0M197.1 274.5h0M195.3 324.0h0M195.3 338.4h0M193.8 320.3h0M179.6 353.0h0M178.2 309.7h0M179.2 307.9h0M178.6 323.3h0M195.5 305.5h0M179.7 356.4h0M195.6 337.1h0M196.5 331.4h0M193.3 351.7h0M179.1 327.0h0M181.6 324.9h0M194.7 334.4h0M193.7 352.1h0M197.1 344.3h0M198.2 305.0h0M180.3 314.0h0M196.3 341.6h0M198.1 319.0h0M194.9 323.3h0M194.8 336.4h0M197.2 334.0h0M196.4 332.5h0M196.0 333.6h0M177.6 355.4h0M181.3 322.2h0M197.8 312.1h0M196.3 313.0h0M180.5 343.2h0M177.6 351.6h0M195.4 310.8h0M178.4 320.3h0M197.5 322.9h0M179.0 336.9h0M178.7 336.4h0M194.3 326.9h0M195.2 300.4h0M194.1 309.3h0M196.8 326.8h0M181.3 347.9h0M194.0 348.3h0M179.3 340.5h0M194.0 312.9h0M181.5 315.9h0M178.1 306.8h0M195.3 341.5h0M198.4 268.7h0M197.2 348.2h0M178.4 316.1h0M194.8 312.5h0M181.6 351.2h0M178.0 337.9h0M181.9 341.4h0M182.1 334.2h0M181.5 342.7h0M178.1 349.1h0M179.5 319.4h0M180.0 319.3h0M196.9 318.0h0M179.2 338.5h0M195.7 340.3h0M178.2 340.3h0M181.9 337.7h0M194.0 315.8h0M182.5 356.2h0M196.3 351.8h0M195.2 284.0h0M197.7 334.1h0M181.7 310.4h0M179.3 307.5h0M198.3 294.8h0M181.9 321.1h0M196.2 293.4h0M197.7 316.0h0M180.0 328.5h0M197.7 337.8h0M198.1 288.9h0M196.2 324.8h0M196.2 310.6h0M182.0 335.2h0M198.2 347.0h0M195.7 317.1h0M195.8 264.5h0M195.7 280.6h0M195.9 318.1h0M195.4 299.5h0M195.8 316.1h0M194.1 315.3h0M196.2 336.4h0M195.9 355.3h0M195.9 340.8h0M182.0 336.4h0M178.1 306.5h0M180.7 331.1h0M193.8 321.4h0M198.0 274.3h0M195.6 275.7h0M182.6 355.0h0M197.9 298.5h0M197.4 311.7h0M193.7 336.0h0M177.8 354.1h0M178.4 293.8h0" stroke="#c2c2c2" stroke-width="3.8" stroke-linecap="round" fill="none"/>
<path d="M176.3 339.0h0M169.3 355.6h0M173.0 338.5h0M168.3 346.9h0M176.2 328.8h0M170.8 327.8h0M162.8 349.4h0M170.1 339.5h0M173.2 335.7h0M174.9 328.3h0M176.3 340.1h0M174.3 353.6h0M164.3 341.4h0M176.0 332.8h0M177.3 349.5h0M173.3 340.0h0M164.1 332.0h0M173.4 356.0h0M167.8 354.6h0M177.3 326.7h0M173.9 345.4h0M176.7 350.5h0M176.3 330.5h0M175.4 354.4h0M165.9 349.9h0M176.7 355.9h0M174.1 330.9h0M173.8 347.5h0M172.0 345.5h0M166.9 355.2h0M177.0 342.3h0M174.8 326.8h0M170.2 333.2h0M167.8 329.0h0M176.0 334.5h0M176.1 340.9h0M166.2 325.0h0M177.3 343.9h0M174.8 344.0h0M177.0 325.9h0M176.8 335.0h0M174.9 355.2h0M176.4 337.0h0M168.7 345.1h0M168.6 344.2h0M176.2 345.5h0M176.8 336.8h0M163.1 324.6h0M177.0 328.1h0M165.9 329.7h0M166.2 347.8h0M176.2 342.8h0M171.0 346.5h0M169.3 335.3h0M174.8 334.6h0M173.2 330.7h0M174.1 328.4h0M170.7 347.5h0M162.8 353.2h0M173.6 337.2h0M177.3 351.1h0M166.0 328.9h0M164.2 329.9h0M166.8 343.0h0M176.0 325.7h0M166.9 336.8h0M166.3 340.8h0M169.9 354.4h0M170.1 327.8h0M165.9 339.1h0M164.6 352.8h0M164.7 343.5h0M171.7 341.5h0M165.1 351.7h0M169.1 342.0h0M170.5 339.0h0M164.9 350.5h0M177.5 354.2h0M162.6 337.7h0M176.4 341.8h0M175.3 331.4h0M170.3 346.4h0M174.6 326.0h0M172.0 342.3h0M175.9 343.8h0M170.8 354.1h0M172.7 330.5h0M177.2 340.6h0M166.9 343.7h0M176.0 336.3h0M176.8 333.2h0M176.4 324.7h0M163.0 335.6h0M168.1 343.4h0M175.6 346.3h0M167.3 345.1h0M167.8 338.9h0M171.2 350.9h0M163.6 339.3h0M173.5 350.6h0M176.3 355.4h0M170.7 324.8h0M163.6 328.4h0M170.6 342.6h0M172.5 355.1h0M177.3 340.1h0M167.4 341.2h0M173.1 333.3h0M175.8 356.2h0M169.5 337.9h0M164.8 341.9h0M166.2 355.9h0M173.5 336.7h0M164.4 343.7h0M177.6 343.0h0M173.7 342.9h0M169.0 330.1h0M171.9 349.0h0M172.3 332.3h0M171.7 327.3h0M168.6 327.2h0M173.8 302.9h0M171.4 312.4h0M172.2 328.0h0M169.3 327.9h0M173.5 325.5h0M168.6 319.3h0M172.6 328.3h0M176.5 311.0h0M169.8 322.9h0M176.6 314.7h0M177.3 312.7h0M170.3 325.4h0M170.1 320.8h0M168.5 322.3h0M176.1 297.5h0M164.7 325.8h0M167.4 321.2h0M174.7 312.6h0M176.0 326.6h0M175.6 319.0h0M171.1 326.1h0M176.3 320.3h0M176.8 323.9h0M171.5 323.8h0M176.8 311.5h0M166.7 317.0h0M175.6 321.5h0M170.7 322.8h0M171.4 313.5h0M174.5 316.8h0M173.6 306.9h0M172.5 322.5h0M161.5 332.5h0M163.6 353.1h0M162.9 321.0h0M155.9 325.3h0M158.8 340.8h0M157.1 350.8h0M145.6 327.4h0M154.1 311.4h0M150.2 317.8h0M163.7 312.0h0M148.3 350.9h0M152.0 354.5h0M148.0 356.4h0M162.7 345.2h0M157.0 340.5h0M159.2 318.6h0M152.4 336.0h0" stroke="#1f4fa3" stroke-width="3.8" stroke-linecap="round" fill="none"/>
<path d="M222.8 345.3h0M219.5 328.4h0M208.4 337.5h0M199.3 356.4h0M205.0 328.8h0M204.5 327.5h0M219.7 317.7h0M223.3 320.7h0M213.7 337.8h0M220.1 348.9h0M199.2 351.6h0M206.7 332.1h0M219.7 353.5h0M213.4 333.2h0M203.7 349.9h0M219.1 330.1h0M220.3 347.9h0M217.6 353.6h0M198.5 349.5h0M219.7 335.3h0M214.0 333.3h0M214.7 343.9h0M217.5 356.0h0M206.7 354.4h0M220.0 332.8h0M212.6 325.3h0M210.6 334.7h0M212.5 343.1h0M215.7 340.6h0M215.3 337.5h0M218.5 329.3h0M198.9 325.8h0M205.4 327.8h0M210.3 351.5h0M202.5 326.4h0M198.6 348.9h0M202.5 333.7h0M212.2 336.2h0M205.7 341.1h0M210.3 334.2h0M212.4 328.4h0M227.5 327.1h0M209.8 323.2h0M221.1 342.1h0M212.0 331.1h0M202.9 326.5h0M200.6 346.0h0M220.7 337.9h0M212.3 354.2h0M205.0 348.3h0M216.5 350.9h0M206.5 338.9h0M207.9 342.0h0M212.4 351.7h0M208.0 330.9h0M217.0 335.4h0M205.2 331.2h0M220.1 352.2h0M200.2 333.1h0M224.4 344.3h0M207.0 319.5h0M207.8 334.4h0M219.2 328.9h0M207.8 319.7h0M222.1 338.7h0M221.0 346.1h0M201.4 353.6h0M217.5 346.2h0M219.3 350.0h0M210.9 325.5h0M215.9 329.5h0M207.5 349.9h0M220.5 353.4h0M218.5 344.4h0M199.1 350.7h0M211.3 344.1h0M200.5 343.9h0M216.0 323.6h0M214.3 339.0h0M221.6 326.6h0M221.4 347.2h0M205.9 330.1h0M225.1 345.2h0M204.7 325.9h0M208.4 335.3h0M199.6 330.7h0M201.8 356.3h0M215.0 352.6h0M202.8 327.8h0M208.9 338.1h0M199.1 336.7h0M202.0 335.4h0M200.0 345.4h0M222.8 343.4h0M215.6 352.3h0M209.0 336.1h0M209.7 348.9h0M207.6 338.7h0M208.9 337.2h0M213.9 353.6h0M207.0 348.8h0M216.9 332.1h0M206.0 351.0h0M210.7 352.2h0M218.8 337.5h0M199.7 326.7h0M210.4 328.6h0M202.0 340.2h0M217.3 352.5h0M222.1 324.1h0M226.9 348.3h0M202.5 349.6h0M203.9 343.2h0M201.7 335.6h0M200.8 326.8h0M199.4 323.7h0M213.3 354.1h0M203.0 329.0h0M218.4 353.3h0M226.6 351.6h0M201.6 319.7h0M221.7 356.5h0M211.7 345.5h0M218.9 352.3h0M203.9 347.5h0M205.3 339.9h0M211.4 331.3h0M206.9 329.2h0M216.3 337.9h0M202.9 325.1h0M222.1 327.6h0M207.9 344.2h0M223.7 352.5h0M209.5 320.6h0M214.8 345.4h0M218.5 347.2h0M199.0 344.7h0M207.7 354.2h0M216.5 332.3h0M210.1 354.1h0M208.3 351.1h0M213.8 330.6h0M204.7 324.7h0M202.2 347.4h0M200.9 346.8h0M216.5 342.0h0M221.4 348.0h0M208.5 325.4h0M215.7 329.3h0M219.6 353.8h0M219.9 347.1h0M216.6 349.8h0M216.2 332.9h0M220.3 337.0h0M211.9 324.6h0M222.3 329.7h0M207.2 327.5h0M206.2 338.3h0M203.7 346.7h0M214.0 341.1h0M221.9 350.1h0M200.2 321.3h0M215.6 346.1h0M205.4 340.5h0M206.7 355.3h0M198.6 333.7h0M216.4 336.3h0M208.8 348.3h0M206.5 328.3h0M202.9 337.2h0M200.1 324.8h0M217.4 350.8h0M216.3 347.1h0M225.0 326.7h0M211.0 330.4h0M204.4 355.8h0M221.3 325.0h0M201.7 347.5h0M219.7 321.9h0M206.8 353.2h0M225.1 332.8h0M201.2 350.9h0M200.5 324.0h0M219.5 330.8h0M225.6 352.1h0M214.7 348.1h0M210.7 343.2h0M201.7 343.7h0M202.7 345.4h0M199.1 332.7h0M203.2 338.0h0M198.5 343.1h0M201.1 353.4h0M221.1 349.2h0M200.7 340.7h0M210.5 324.3h0M219.7 354.8h0M201.4 337.2h0M206.2 326.7h0M220.2 351.0h0M198.5 343.9h0M212.5 340.3h0M215.2 341.5h0M203.2 346.5h0M199.3 344.3h0M202.7 330.7h0M216.0 343.2h0M213.2 339.7h0M205.9 324.3h0M211.5 326.3h0M221.2 328.4h0M207.5 324.1h0M218.0 326.9h0M206.8 327.0h0M216.6 337.5h0M210.3 339.1h0M214.2 327.1h0M206.9 351.6h0M199.2 345.6h0M215.3 349.3h0M207.5 330.4h0M211.3 344.7h0M219.3 326.2h0M224.8 325.9h0M203.5 351.1h0M214.2 346.2h0M211.6 330.0h0M210.2 320.7h0M209.6 330.9h0M203.2 322.0h0M200.0 352.8h0M207.6 348.8h0M224.4 348.7h0M202.5 335.4h0M210.2 344.5h0M214.2 335.6h0M217.3 319.0h0M203.1 333.7h0M200.6 319.4h0M208.2 327.7h0M215.0 326.9h0M216.4 322.5h0M224.9 334.4h0M212.2 333.6h0M205.1 324.3h0M210.2 336.8h0M223.5 336.0h0M209.6 350.2h0M200.0 334.9h0M211.6 344.2h0M222.5 341.2h0M210.9 285.6h0M205.5 295.9h0M209.6 315.3h0M209.4 301.3h0M201.7 281.2h0M212.4 316.3h0M206.9 280.7h0M208.3 294.0h0M205.1 319.8h0M199.9 290.7h0M204.6 295.1h0M229.6 275.7h0M199.5 309.3h0M201.3 277.7h0M233.6 323.9h0M213.0 316.8h0M208.1 320.8h0M229.3 296.5h0M202.3 322.1h0M208.5 307.9h0M219.9 324.0h0M203.6 282.4h0M242.7 311.7h0M206.5 280.8h0M206.6 316.3h0M203.4 318.8h0M201.2 317.0h0M213.2 320.7h0M209.6 308.6h0M215.7 310.6h0M204.0 291.6h0M209.5 303.2h0M213.3 311.1h0M222.3 319.0h0M201.7 309.2h0M200.1 322.3h0M198.8 287.6h0M205.7 291.7h0M199.5 316.8h0M208.6 314.9h0M200.4 272.8h0M205.1 303.9h0M242.0 312.6h0M226.1 297.3h0M214.9 304.4h0M210.2 298.9h0M216.8 282.5h0M209.5 312.8h0M209.5 309.8h0M224.6 316.2h0M204.4 301.9h0M225.0 299.2h0M207.1 304.6h0M213.9 318.4h0M215.1 314.3h0M215.5 274.6h0M202.6 320.4h0M226.2 322.7h0M201.9 316.6h0M244.0 322.9h0M209.7 306.4h0M200.6 303.9h0M201.2 286.4h0M203.7 299.8h0M204.9 322.8h0M205.4 298.7h0M210.0 290.0h0M209.3 322.7h0M198.9 287.0h0M214.8 304.7h0M231.7 319.6h0M230.3 313.8h0M214.7 288.9h0M217.4 317.6h0M205.9 321.7h0M207.7 290.5h0M222.8 312.7h0M210.9 318.8h0M217.5 305.4h0M199.0 274.8h0M209.4 274.7h0M208.8 310.5h0M200.6 309.7h0M225.4 321.8h0M205.0 321.1h0M199.5 323.7h0M206.9 323.8h0M204.1 315.8h0M205.9 294.1h0M256.9 285.3h0M245.9 297.4h0M243.7 293.0h0M238.2 311.6h0M240.4 328.0h0M236.0 342.3h0M244.8 346.6h0M230.6 352.1h0M233.9 274.4h0M233.2 281.4h0" stroke="#e10b17" stroke-width="3.8" stroke-linecap="round" fill="none"/>
<path d="M117.4 333.9h0M144.4 298.0h0M155.4 296.8h0" stroke="#1f4fa3" stroke-width="3.8" stroke-linecap="round" fill="none"/>
<path d="M196.4 226.0h0M193.8 262.0h0M195.0 268.0h0M178.5 287.0h0M182.5 286.5h0" stroke="#c2c2c2" stroke-width="3.8" stroke-linecap="round" fill="none"/>
<path d="M177.6,171.2V392.0M198.4,171.2V392.0M50.9,356.6H325.3" stroke="#8a8a8a" stroke-width="0.5" fill="none"/>
<circle cx="145.9" cy="248.0" r="1.9" fill="#1f4fa3"/>
<path d="M145.4,248.4l2.3,-2.0" stroke="#000" stroke-width="1.1" fill="none"/>
<circle cx="167.2" cy="251.4" r="1.9" fill="#1f4fa3"/>
<path d="M166.7,251.9l2.3,-2.1" stroke="#000" stroke-width="1.1" fill="none"/>
<circle cx="151.6" cy="258.5" r="1.9" fill="#1f4fa3"/>
<path d="M152.0,259.0l-1.6,-2.3" stroke="#000" stroke-width="1.1" fill="none"/>
<circle cx="161.1" cy="263.8" r="1.9" fill="#1f4fa3"/>
<circle cx="175.7" cy="268.5" r="1.9" fill="#1f4fa3"/>
<path d="M175.3,268.0l1.8,2.1" stroke="#000" stroke-width="1.1" fill="none"/>
<circle cx="147.8" cy="278.8" r="1.9" fill="#1f4fa3"/>
<path d="M148.2,279.3l-2.0,-2.1" stroke="#000" stroke-width="1.1" fill="none"/>
<circle cx="161.7" cy="283.1" r="1.9" fill="#1f4fa3"/>
<path d="M161.2,283.5l2.3,-1.8" stroke="#000" stroke-width="1.1" fill="none"/>
<circle cx="157.7" cy="285.0" r="1.9" fill="#1f4fa3"/>
<path d="M157.2,285.4l2.1,-1.7" stroke="#000" stroke-width="1.1" fill="none"/>
<circle cx="89.5" cy="293.2" r="1.9" fill="#1f4fa3"/>
<path d="M89.1,293.7l1.6,-2.1" stroke="#000" stroke-width="1.1" fill="none"/>
<circle cx="156.9" cy="292.0" r="1.9" fill="#1f4fa3"/>
<path d="M156.4,291.5l2.1,2.1" stroke="#000" stroke-width="1.1" fill="none"/>
<circle cx="248.2" cy="215.2" r="1.9" fill="#e10b17"/>
<path d="M248.5,215.7l-1.3,-2.3" stroke="#000" stroke-width="1.1" fill="none"/>
<circle cx="237.1" cy="230.1" r="1.9" fill="#e10b17"/>
<path d="M237.4,230.6l-1.3,-2.3" stroke="#000" stroke-width="1.1" fill="none"/>
<circle cx="218.8" cy="237.7" r="1.9" fill="#e10b17"/>
<path d="M218.3,238.1l2.3,-2.0" stroke="#000" stroke-width="1.1" fill="none"/>
<circle cx="200.3" cy="242.0" r="1.9" fill="#e10b17"/>
<path d="M201.1,242.5l-3.2,-2.1" stroke="#000" stroke-width="1.1" fill="none"/>
<circle cx="243.9" cy="241.7" r="1.9" fill="#e10b17"/>
<path d="M243.5,241.3l2.0,1.8" stroke="#000" stroke-width="1.1" fill="none"/>
<circle cx="199.3" cy="250.0" r="1.9" fill="#e10b17"/>
<path d="M199.2,249.5l0.7,2.3" stroke="#000" stroke-width="1.1" fill="none"/>
<circle cx="199.9" cy="259.6" r="1.9" fill="#e10b17"/>
<circle cx="199.8" cy="266.8" r="1.9" fill="#e10b17"/>
<path d="M199.3,266.2l2.1,2.6" stroke="#000" stroke-width="1.1" fill="none"/>
<path d="M211.0 275.5h0M216.5 274.5h0M223.5 273.2h0M225.6 274.2h0" stroke="#e10b17" stroke-width="3.8" stroke-linecap="round" fill="none"/>
<rect x="50.9" y="171.2" width="274.4" height="220.8" fill="none" stroke="#333" stroke-width="0.9"/>
<path d="M48.699999999999996,382.80H50.9M48.699999999999996,332.40H50.9M48.699999999999996,282.00H50.9M48.699999999999996,231.60H50.9M48.699999999999996,181.20H50.9M83.60,392.0V394.2M135.80,392.0V394.2M188.00,392.0V394.2M240.20,392.0V394.2M292.40,392.0V394.2" stroke="#333" stroke-width="0.7" fill="none"/>
<text x="47.9" y="385.4" font-size="9.7" text-anchor="end" fill="#4d4d4d" stroke="#4d4d4d" stroke-width="0.18">0.0</text>
<text x="47.9" y="335.0" font-size="9.7" text-anchor="end" fill="#4d4d4d" stroke="#4d4d4d" stroke-width="0.18">2.5</text>
<text x="47.9" y="284.6" font-size="9.7" text-anchor="end" fill="#4d4d4d" stroke="#4d4d4d" stroke-width="0.18">5.0</text>
<text x="47.9" y="234.2" font-size="9.7" text-anchor="end" fill="#4d4d4d" stroke="#4d4d4d" stroke-width="0.18">7.5</text>
<text x="47.9" y="183.8" font-size="9.7" text-anchor="end" fill="#4d4d4d" stroke="#4d4d4d" stroke-width="0.18">10.0</text>
<text x="85.0" y="405.7" font-size="9.4" text-anchor="middle" fill="#4d4d4d" stroke="#4d4d4d" stroke-width="0.18">-10</text>
<text x="132.4" y="405.7" font-size="9.4" text-anchor="middle" fill="#4d4d4d" stroke="#4d4d4d" stroke-width="0.18">-5</text>
<text x="188.8" y="405.7" font-size="9.4" text-anchor="middle" fill="#4d4d4d" stroke="#4d4d4d" stroke-width="0.18">0</text>
<text x="240.9" y="405.7" font-size="9.4" text-anchor="middle" fill="#4d4d4d" stroke="#4d4d4d" stroke-width="0.18">5</text>
<text x="294.1" y="405.7" font-size="9.4" text-anchor="middle" fill="#4d4d4d" stroke="#4d4d4d" stroke-width="0.18">10</text>
<text x="194.5" y="416.9" font-size="9.6" text-anchor="middle" fill="#231815" stroke="#231815" stroke-width="0.18">log<tspan font-size="6" dy="2.2">2</tspan><tspan dy="-2.2">FoldChange</tspan></text>
<text transform="translate(27.3,275.8) rotate(-90)" font-size="9.6" text-anchor="middle" fill="#231815" stroke="#231815" stroke-width="0.3">-Log<tspan font-size="5.8" dy="2.4">10</tspan><tspan dy="-2.4">Padj</tspan></text>
<text x="202.9" y="182.8" font-size="9.75" font-weight="bold" fill="#231815" stroke="#231815" stroke-width="0.18">SNORD78 High vs Low</text>
<circle cx="74" cy="186.4" r="3.1" fill="#e10b17"/><circle cx="74" cy="198.7" r="3.1" fill="#c2c2c2"/><circle cx="74" cy="210.8" r="3.1" fill="#1f4fa3"/>
<text x="82.6" y="189.8" font-size="9.7" fill="#231815" stroke="#231815" stroke-width="0.18">Up</text>
<text x="82.6" y="202.1" font-size="9.7" fill="#231815" stroke="#231815" stroke-width="0.18">Not Signifinicant</text>
<text x="82.6" y="214.4" font-size="9.7" fill="#231815" stroke="#231815" stroke-width="0.18">Down</text>
<text x="139.3" y="245.6" font-size="6.9" fill="#1d4596" stroke="#1d4596" stroke-width="0.05">CADM2</text>
<text x="164.9" y="249.0" font-size="6.9" fill="#1d4596" stroke="#1d4596" stroke-width="0.05">GH1</text>
<text x="137.8" y="257.5" font-size="6.9" fill="#1d4596" stroke="#1d4596" stroke-width="0.05">PGAM2</text>
<text x="138.7" y="266.0" font-size="6.9" fill="#1d4596" stroke="#1d4596" stroke-width="0.05">KIAA1683</text>
<text x="171.0" y="276.0" font-size="6.9" fill="#1d4596" stroke="#1d4596" stroke-width="0.05">CD40</text>
<text x="134.0" y="276.0" font-size="6.9" fill="#1d4596" stroke="#1d4596" stroke-width="0.05">PLD4</text>
<text x="156.0" y="282.2" font-size="6.9" fill="#1d4596" stroke="#1d4596" stroke-width="0.05">FCRL3</text>
<text x="81.4" y="290.4" font-size="6.9" fill="#1d4596" stroke="#1d4596" stroke-width="0.05">ADGRG7</text>
<text x="127.9" y="289.4" font-size="6.9" fill="#1d4596" stroke="#1d4596" stroke-width="0.05">SPOCK2</text>
<text x="158.8" y="298.7" font-size="6.9" fill="#1d4596" stroke="#1d4596" stroke-width="0.05">SOX4</text>
<text x="243.1" y="212.2" font-size="6.9" fill="#e3151c" stroke="#e3151c" stroke-width="0.05">FAM3B</text>
<text x="231.5" y="228.5" font-size="6.9" fill="#e3151c" stroke="#e3151c" stroke-width="0.05">APBA2</text>
<text x="202.9" y="235.0" font-size="6.9" fill="#e3151c" stroke="#e3151c" stroke-width="0.05">SH2D2A</text>
<text x="184.9" y="239.0" font-size="6.9" fill="#e3151c" stroke="#e3151c" stroke-width="0.05">TADA1</text>
<text x="233.9" y="249.4" font-size="6.9" fill="#e3151c" stroke="#e3151c" stroke-width="0.05">GABRG1</text>
<text x="196.0" y="246.7" font-size="6.9" fill="#e3151c" stroke="#e3151c" stroke-width="0.05">NME7</text>
<text x="175.1" y="257.4" font-size="6.9" fill="#e3151c" stroke="#e3151c" stroke-width="0.05">TFB2M</text>
<text x="202.1" y="260.2" font-size="6.9" fill="#e3151c" stroke="#e3151c" stroke-width="0.05">COA6</text>
<text x="170.0" y="266.3" font-size="6.9" fill="#e3151c" stroke="#e3151c" stroke-width="0.05">SH3BP5L</text>
<text x="192.5" y="275.1" font-size="6.9" fill="#e3151c" stroke="#e3151c" stroke-width="0.05">RASSF5</text>
<path d="M391.8,307.54H667.4M391.8,259.68H667.4M391.8,211.82H667.4M404.50,207.5V372M466.70,207.5V372M528.90,207.5V372M591.10,207.5V372M653.30,207.5V372" stroke="#ebebeb" stroke-width="0.6" fill="none"/>
<path d="M404.90,345.5V364.4M405.62,345.5V364.4M408.29,345.5V364.4M407.25,345.5V364.4M404.94,345.5V364.4M406.55,345.5V364.4M406.76,345.5V364.4M405.26,345.5V364.4M407.97,345.5V364.4M405.04,345.5V364.4M406.35,345.5V364.4M406.94,345.5V364.4M406.54,345.5V364.4M407.27,345.5V364.4M407.99,345.5V364.4M409.02,345.5V364.4M405.84,345.5V364.4M407.57,345.5V364.4M407.79,345.5V364.4M405.88,345.5V364.4M404.51,345.5V364.4M409.10,345.5V364.4M405.91,345.5V364.4M405.98,345.5V364.4M408.72,345.5V364.4M407.27,345.5V364.4M406.73,345.5V364.4M408.16,345.5V364.4M404.64,345.5V364.4M407.84,345.5V364.4M406.27,345.5V364.4M404.93,345.5V364.4M407.62,345.5V364.4M408.90,345.5V364.4M405.48,345.5V364.4M407.48,345.5V364.4M405.91,345.5V364.4M408.01,345.5V364.4M407.91,345.5V364.4M405.53,345.5V364.4M408.42,345.5V364.4M407.61,345.5V364.4M407.73,345.5V364.4M408.38,345.5V364.4M406.53,345.5V364.4M408.09,345.5V364.4M408.65,345.5V364.4M404.98,345.5V364.4M408.52,345.5V364.4M406.36,345.5V364.4M435.60,345.5V364.4M417.27,345.5V364.4M447.63,345.5V364.4M425.28,345.5V364.4M457.13,345.5V364.4M424.37,345.5V364.4M440.12,345.5V364.4M431.20,345.5V364.4M442.93,345.5V364.4M420.04,345.5V364.4M419.14,345.5V364.4M450.29,345.5V364.4M450.59,345.5V364.4M440.40,345.5V364.4M459.87,345.5V364.4M420.54,345.5V364.4M456.01,345.5V364.4M418.52,345.5V364.4M462.25,345.5V364.4M443.52,345.5V364.4M442.60,345.5V364.4M462.59,345.5V364.4M452.50,345.5V364.4M452.66,345.5V364.4M412.20,345.5V364.4M429.53,345.5V364.4M413.90,345.5V364.4M419.87,345.5V364.4M420.99,345.5V364.4M456.44,345.5V364.4M416.20,345.5V364.4M425.54,345.5V364.4M436.33,345.5V364.4M455.93,345.5V364.4M462.30,345.5V364.4M448.16,345.5V364.4M420.98,345.5V364.4M439.19,345.5V364.4M448.04,345.5V364.4M412.08,345.5V364.4M446.61,345.5V364.4M429.48,345.5V364.4M441.65,345.5V364.4M446.04,345.5V364.4M446.02,345.5V364.4M437.99,345.5V364.4M439.73,345.5V364.4M420.12,345.5V364.4M436.45,345.5V364.4M416.12,345.5V364.4M435.66,345.5V364.4M438.71,345.5V364.4M451.79,345.5V364.4M430.87,345.5V364.4M410.30,345.5V364.4M438.25,345.5V364.4M420.51,345.5V364.4M449.99,345.5V364.4M430.60,345.5V364.4M430.15,345.5V364.4M459.23,345.5V364.4M430.83,345.5V364.4M428.41,345.5V364.4M428.36,345.5V364.4M435.66,345.5V364.4M414.36,345.5V364.4M439.29,345.5V364.4M459.89,345.5V364.4M440.18,345.5V364.4M450.13,345.5V364.4M461.31,345.5V364.4M455.53,345.5V364.4M450.14,345.5V364.4M453.94,345.5V364.4M454.32,345.5V364.4M423.18,345.5V364.4M435.73,345.5V364.4M428.07,345.5V364.4M423.62,345.5V364.4M440.65,345.5V364.4M426.71,345.5V364.4M443.24,345.5V364.4M441.25,345.5V364.4M414.97,345.5V364.4M433.55,345.5V364.4M430.66,345.5V364.4M448.08,345.5V364.4M414.07,345.5V364.4M418.52,345.5V364.4M437.41,345.5V364.4M431.47,345.5V364.4M445.81,345.5V364.4M427.53,345.5V364.4M420.07,345.5V364.4M460.46,345.5V364.4M422.64,345.5V364.4M417.31,345.5V364.4M424.62,345.5V364.4M427.91,345.5V364.4M421.61,345.5V364.4M438.72,345.5V364.4M460.74,345.5V364.4M416.16,345.5V364.4M432.05,345.5V364.4M445.97,345.5V364.4M457.87,345.5V364.4M464.20,345.5V364.4M417.13,345.5V364.4M438.77,345.5V364.4M457.68,345.5V364.4M412.14,345.5V364.4M441.57,345.5V364.4M418.79,345.5V364.4M451.45,345.5V364.4M460.78,345.5V364.4M438.82,345.5V364.4M409.72,345.5V364.4M412.76,345.5V364.4M432.08,345.5V364.4M455.82,345.5V364.4M422.25,345.5V364.4M446.02,345.5V364.4M431.51,345.5V364.4M423.81,345.5V364.4M447.93,345.5V364.4M426.18,345.5V364.4M429.67,345.5V364.4M451.31,345.5V364.4M436.46,345.5V364.4M452.33,345.5V364.4M437.62,345.5V364.4M418.02,345.5V364.4M433.62,345.5V364.4M457.22,345.5V364.4M440.29,345.5V364.4M462.28,345.5V364.4M409.29,345.5V364.4M427.94,345.5V364.4M451.51,345.5V364.4M446.96,345.5V364.4M440.07,345.5V364.4M445.72,345.5V364.4M457.42,345.5V364.4M446.81,345.5V364.4M439.32,345.5V364.4M440.15,345.5V364.4M445.87,345.5V364.4M427.04,345.5V364.4M446.04,345.5V364.4M443.04,345.5V364.4M452.44,345.5V364.4M435.63,345.5V364.4M410.71,345.5V364.4M438.75,345.5V364.4M456.39,345.5V364.4M444.42,345.5V364.4M444.61,345.5V364.4M430.72,345.5V364.4M428.83,345.5V364.4M448.76,345.5V364.4M413.50,345.5V364.4M456.87,345.5V364.4M457.41,345.5V364.4M462.15,345.5V364.4M416.69,345.5V364.4M415.57,345.5V364.4M458.38,345.5V364.4M431.28,345.5V364.4M424.09,345.5V364.4M430.24,345.5V364.4M445.49,345.5V364.4M418.11,345.5V364.4M436.01,345.5V364.4M445.52,345.5V364.4M448.86,345.5V364.4M409.90,345.5V364.4M453.81,345.5V364.4M433.10,345.5V364.4M433.19,345.5V364.4M440.15,345.5V364.4M424.63,345.5V364.4M457.98,345.5V364.4M420.89,345.5V364.4M439.07,345.5V364.4M418.47,345.5V364.4M443.10,345.5V364.4M458.82,345.5V364.4M457.76,345.5V364.4M416.63,345.5V364.4M443.59,345.5V364.4M458.30,345.5V364.4M420.24,345.5V364.4M432.03,345.5V364.4M448.44,345.5V364.4M449.81,345.5V364.4M434.04,345.5V364.4M444.34,345.5V364.4M446.01,345.5V364.4M428.64,345.5V364.4M445.08,345.5V364.4M440.98,345.5V364.4M447.57,345.5V364.4M437.36,345.5V364.4M427.73,345.5V364.4M433.11,345.5V364.4M459.95,345.5V364.4M419.54,345.5V364.4M417.38,345.5V364.4M409.90,345.5V364.4M456.08,345.5V364.4M463.59,345.5V364.4M422.23,345.5V364.4M423.86,345.5V364.4M420.13,345.5V364.4M442.23,345.5V364.4M435.90,345.5V364.4M454.35,345.5V364.4M420.76,345.5V364.4M457.50,345.5V364.4M434.74,345.5V364.4M453.65,345.5V364.4M453.33,345.5V364.4M459.30,345.5V364.4M436.65,345.5V364.4M442.75,345.5V364.4M440.08,345.5V364.4M419.69,345.5V364.4M436.80,345.5V364.4M460.18,345.5V364.4M459.20,345.5V364.4M410.41,345.5V364.4M445.70,345.5V364.4M427.19,345.5V364.4M416.70,345.5V364.4M416.89,345.5V364.4M452.94,345.5V364.4M461.97,345.5V364.4M437.83,345.5V364.4M430.31,345.5V364.4M437.26,345.5V364.4M454.83,345.5V364.4M450.29,345.5V364.4M412.75,345.5V364.4M420.91,345.5V364.4M456.94,345.5V364.4M436.34,345.5V364.4M445.39,345.5V364.4M451.98,345.5V364.4M444.23,345.5V364.4M449.58,345.5V364.4" stroke="#000" stroke-opacity="0.8" stroke-width="0.26" fill="none"/>
<path d="M568.40,345.5V364.4M508.00,345.5V364.4M499.94,345.5V364.4M653.93,345.5V364.4M466.22,345.5V364.4M596.14,345.5V364.4M632.38,345.5V364.4M508.40,345.5V364.4M473.48,345.5V364.4M540.45,345.5V364.4M527.22,345.5V364.4M552.35,345.5V364.4M545.83,345.5V364.4M644.10,345.5V364.4M487.00,345.5V364.4M644.48,345.5V364.4M472.95,345.5V364.4M643.37,345.5V364.4M527.80,345.5V364.4M603.05,345.5V364.4M464.80,345.5V364.4M549.62,345.5V364.4M593.63,345.5V364.4M584.19,345.5V364.4M618.19,345.5V364.4M493.51,345.5V364.4M540.82,345.5V364.4M581.40,345.5V364.4M469.70,345.5V364.4M623.78,345.5V364.4M543.69,345.5V364.4M511.20,345.5V364.4M506.69,345.5V364.4M588.51,345.5V364.4M473.35,345.5V364.4M510.89,345.5V364.4M522.25,345.5V364.4M513.57,345.5V364.4M603.72,345.5V364.4M577.34,345.5V364.4M636.83,345.5V364.4M598.07,345.5V364.4M520.44,345.5V364.4M526.13,345.5V364.4M487.75,345.5V364.4M510.53,345.5V364.4M579.67,345.5V364.4M603.80,345.5V364.4M520.71,345.5V364.4M529.94,345.5V364.4M617.53,345.5V364.4M647.24,345.5V364.4M480.39,345.5V364.4M477.82,345.5V364.4M609.19,345.5V364.4M558.86,345.5V364.4M545.37,345.5V364.4M585.19,345.5V364.4M609.41,345.5V364.4M477.55,345.5V364.4M647.87,345.5V364.4M647.16,345.5V364.4M543.77,345.5V364.4M553.88,345.5V364.4M516.21,345.5V364.4M576.39,345.5V364.4M503.39,345.5V364.4M566.30,345.5V364.4M636.90,345.5V364.4M560.87,345.5V364.4M622.15,345.5V364.4M498.43,345.5V364.4M632.92,345.5V364.4M487.74,345.5V364.4M504.86,345.5V364.4M601.74,345.5V364.4M521.88,345.5V364.4M486.92,345.5V364.4M480.79,345.5V364.4M615.70,345.5V364.4M467.99,345.5V364.4M474.97,345.5V364.4M644.76,345.5V364.4M613.57,345.5V364.4M534.95,345.5V364.4M500.95,345.5V364.4M629.80,345.5V364.4M614.62,345.5V364.4M591.87,345.5V364.4M565.49,345.5V364.4M564.51,345.5V364.4M650.95,345.5V364.4M563.95,345.5V364.4M480.26,345.5V364.4M478.49,345.5V364.4M577.94,345.5V364.4M604.12,345.5V364.4M584.18,345.5V364.4M606.06,345.5V364.4M520.39,345.5V364.4M535.08,345.5V364.4M514.88,345.5V364.4M535.36,345.5V364.4M515.13,345.5V364.4M623.49,345.5V364.4M492.44,345.5V364.4M503.91,345.5V364.4M600.57,345.5V364.4M540.20,345.5V364.4M529.38,345.5V364.4M650.29,345.5V364.4M634.89,345.5V364.4M506.02,345.5V364.4M493.88,345.5V364.4M558.23,345.5V364.4M573.84,345.5V364.4M530.42,345.5V364.4M577.15,345.5V364.4M593.71,345.5V364.4M619.77,345.5V364.4M510.46,345.5V364.4M587.40,345.5V364.4M475.31,345.5V364.4M476.59,345.5V364.4M474.78,345.5V364.4M486.43,345.5V364.4M613.49,345.5V364.4M535.03,345.5V364.4M558.32,345.5V364.4M550.31,345.5V364.4M503.75,345.5V364.4M472.95,345.5V364.4M498.93,345.5V364.4M628.11,345.5V364.4M528.87,345.5V364.4M544.52,345.5V364.4M514.70,345.5V364.4M605.75,345.5V364.4M598.33,345.5V364.4M537.51,345.5V364.4M560.91,345.5V364.4M539.79,345.5V364.4M573.69,345.5V364.4M577.56,345.5V364.4M574.48,345.5V364.4M636.37,345.5V364.4M645.67,345.5V364.4M474.03,345.5V364.4M536.73,345.5V364.4M471.92,345.5V364.4M535.76,345.5V364.4M617.56,345.5V364.4M593.96,345.5V364.4M572.55,345.5V364.4M480.69,345.5V364.4M619.15,345.5V364.4M581.16,345.5V364.4M522.00,345.5V364.4M614.17,345.5V364.4M471.67,345.5V364.4M500.02,345.5V364.4M614.90,345.5V364.4M472.98,345.5V364.4M489.45,345.5V364.4M560.00,345.5V364.4M599.81,345.5V364.4M576.73,345.5V364.4M471.27,345.5V364.4M516.69,345.5V364.4M599.07,345.5V364.4M530.74,345.5V364.4M501.30,345.5V364.4M464.65,345.5V364.4M514.38,345.5V364.4M641.95,345.5V364.4M473.67,345.5V364.4M569.84,345.5V364.4M637.92,345.5V364.4M597.99,345.5V364.4M517.87,345.5V364.4M588.06,345.5V364.4M487.01,345.5V364.4M559.48,345.5V364.4M514.47,345.5V364.4M631.43,345.5V364.4M629.57,345.5V364.4M609.69,345.5V364.4M535.93,345.5V364.4M616.39,345.5V364.4M651.32,345.5V364.4M534.76,345.5V364.4M564.50,345.5V364.4M495.23,345.5V364.4M484.90,345.5V364.4M601.73,345.5V364.4M475.72,345.5V364.4M579.04,345.5V364.4M485.91,345.5V364.4M591.97,345.5V364.4M608.09,345.5V364.4M643.88,345.5V364.4M538.67,345.5V364.4M538.59,345.5V364.4M540.53,345.5V364.4M598.99,345.5V364.4M614.63,345.5V364.4M486.31,345.5V364.4M526.23,345.5V364.4M474.76,345.5V364.4M509.07,345.5V364.4M604.32,345.5V364.4M643.10,345.5V364.4M651.41,345.5V364.4M477.23,345.5V364.4M540.96,345.5V364.4M630.81,345.5V364.4M560.60,345.5V364.4M530.95,345.5V364.4M613.61,345.5V364.4M629.26,345.5V364.4M492.08,345.5V364.4M562.97,345.5V364.4M492.32,345.5V364.4M498.62,345.5V364.4M565.54,345.5V364.4M512.48,345.5V364.4M617.94,345.5V364.4M533.99,345.5V364.4M498.83,345.5V364.4M584.37,345.5V364.4" stroke="#000" stroke-opacity="0.55" stroke-width="0.4" fill="none"/>
<path d="M391.8,355.4H667.4" stroke="#3a3a3a" stroke-width="1.0" fill="none"/>
<path d="M391.8,215.8H667.4" stroke="#e04a55" stroke-width="0.8" stroke-dasharray="2.4,0.9" fill="none"/>
<path d="M391.8,363.6H667.4" stroke="#e04a55" stroke-width="0.8" stroke-dasharray="2.4,0.9" fill="none"/>
<path d="M404.50,355.40 405.40,347.60 406.20,333.52 407.00,320.00 408.10,299.90 409.00,293.00 410.50,285.00 411.50,279.69 412.50,275.30 413.10,271.10 414.07,266.58 415.03,262.38 416.00,257.80 416.90,252.95 417.80,247.30 418.68,246.01 419.55,244.46 420.43,243.05 421.30,242.00 422.17,239.36 423.03,236.77 423.90,233.30 424.77,231.87 425.65,229.82 426.52,228.39 427.40,227.20 428.27,226.56 429.15,224.87 430.02,222.99 430.90,222.40 431.78,221.99 432.67,221.23 433.55,221.03 434.43,220.70 435.32,220.23 436.20,220.10 437.07,219.77 437.95,219.03 438.82,218.32 439.70,218.00 440.58,217.80 441.46,217.61 442.34,216.40 443.22,216.55 444.10,216.30 444.98,216.26 445.85,216.84 446.73,216.75 447.60,217.50 448.48,217.28 449.35,217.04 450.23,216.72 451.10,216.60 451.96,216.59 452.82,217.18 453.68,217.30 454.54,217.57 455.40,218.40 456.28,218.66 457.16,218.37 458.04,219.35 458.92,219.37 459.80,219.30 460.68,218.60 461.55,219.40 462.43,218.91 463.30,219.30 464.18,220.04 465.07,220.78 465.95,220.80 466.83,222.15 467.72,222.88 468.60,223.70 469.48,224.38 470.36,223.97 471.24,224.98 472.12,224.68 473.00,225.40 473.87,225.87 474.73,226.28 475.60,227.67 476.47,227.95 477.33,229.20 478.20,229.16 479.07,229.82 479.93,230.41 480.80,230.70 481.69,231.14 482.57,231.98 483.46,233.12 484.35,233.16 485.24,234.02 486.12,234.59 487.01,235.46 487.90,235.90 488.77,236.46 489.64,237.23 490.51,238.05 491.38,238.70 492.25,239.05 493.12,240.35 493.99,240.28 494.86,241.00 495.73,241.66 496.60,242.80 497.45,243.89 498.30,244.17 499.15,244.71 500.00,245.80 500.84,246.16 501.68,247.47 502.52,247.71 503.36,248.39 504.21,249.81 505.05,249.93 505.89,251.00 506.73,251.87 507.57,252.47 508.41,253.37 509.25,254.62 510.09,254.72 510.94,255.22 511.78,255.78 512.62,257.11 513.46,257.82 514.30,258.70 515.10,259.54 515.90,260.04 516.70,260.78 517.50,261.45 518.30,262.27 519.10,263.26 519.90,263.82 520.70,264.74 521.50,266.12 522.30,266.37 523.10,266.40 523.90,268.31 524.70,268.57 525.50,268.87 526.30,270.27 527.10,270.71 527.90,271.23 528.70,272.20 529.54,272.77 530.38,273.43 531.22,274.58 532.06,275.73 532.91,276.03 533.75,277.08 534.59,278.37 535.43,278.08 536.27,279.38 537.11,279.98 537.95,280.50 538.79,281.30 539.64,282.44 540.48,283.39 541.32,283.84 542.16,284.83 543.00,285.60 543.83,286.61 544.66,287.23 545.49,288.19 546.32,288.81 547.15,289.58 547.98,290.81 548.82,291.15 549.65,291.74 550.48,292.70 551.31,292.89 552.14,293.86 552.97,295.02 553.80,295.50 554.64,296.61 555.48,297.83 556.32,298.18 557.16,298.56 558.00,300.65 558.84,301.24 559.68,301.38 560.52,303.13 561.36,303.55 562.20,303.80 563.04,305.18 563.88,306.04 564.72,307.67 565.56,307.73 566.40,308.90 567.22,309.50 568.05,310.19 568.87,310.84 569.69,311.35 570.52,312.44 571.34,313.43 572.16,313.96 572.98,314.11 573.81,314.73 574.63,315.86 575.45,316.27 576.28,316.99 577.10,317.90 577.94,317.85 578.78,319.66 579.62,319.84 580.46,319.72 581.30,320.92 582.14,321.61 582.98,320.84 583.82,322.03 584.66,322.62 585.50,323.53 586.34,323.80 587.18,324.30 588.02,324.90 588.86,326.11 589.70,326.00 590.52,327.57 591.34,327.43 592.15,328.10 592.97,330.18 593.79,329.70 594.61,330.65 595.43,331.68 596.25,332.64 597.06,333.64 597.88,334.23 598.70,334.90 599.51,335.09 600.32,336.06 601.13,336.46 601.94,337.52 602.75,337.35 603.55,337.38 604.36,337.97 605.17,339.33 605.98,339.13 606.79,339.07 607.60,340.30 608.43,340.52 609.25,341.14 610.08,341.98 610.91,341.62 611.73,342.63 612.56,343.10 613.39,343.00 614.21,343.59 615.04,344.70 615.87,345.10 616.69,345.22 617.52,345.46 618.35,346.16 619.17,346.13 620.00,346.60 620.83,347.12 621.67,347.40 622.50,348.25 623.33,348.77 624.17,350.32 625.00,349.83 625.83,350.89 626.67,351.46 627.50,351.48 628.33,352.51 629.17,351.89 630.00,353.23 630.83,354.05 631.67,353.46 632.50,354.44 633.33,355.77 634.17,355.86 635.00,356.50 635.85,356.64 636.69,357.42 637.54,357.88 638.38,358.85 639.23,359.27 640.08,359.54 640.92,359.93 641.77,360.67 642.62,361.67 643.46,361.85 644.31,362.48 645.15,362.72 646.00,363.30 646.82,362.23 647.64,361.81 648.46,361.67 649.28,360.86 650.10,360.20 650.98,360.32 651.86,360.51 652.74,361.56 653.62,361.84 654.50,362.40" stroke="#5aae48" stroke-width="1.2" fill="none" stroke-linejoin="round"/>
<path d="M390.2,355.40H391.8M390.2,307.54H391.8M390.2,259.68H391.8M390.2,211.82H391.8M404.50,372.6V374.2M466.70,372.6V374.2M528.90,372.6V374.2M591.10,372.6V374.2M653.30,372.6V374.2" stroke="#555" stroke-width="0.5" fill="none"/>
<text x="389.8" y="358.7" font-size="9.5" text-anchor="end" fill="#4d4d4d" stroke="#4d4d4d" stroke-width="0.18">0</text>
<text x="389.8" y="310.8" font-size="9.5" text-anchor="end" fill="#4d4d4d" stroke="#4d4d4d" stroke-width="0.18">0.2</text>
<text x="389.8" y="263.0" font-size="9.5" text-anchor="end" fill="#4d4d4d" stroke="#4d4d4d" stroke-width="0.18">0.4</text>
<text x="389.8" y="215.1" font-size="9.5" text-anchor="end" fill="#4d4d4d" stroke="#4d4d4d" stroke-width="0.18">0.6</text>
<text x="403.7" y="383.6" font-size="9.5" text-anchor="middle" fill="#4d4d4d" stroke="#4d4d4d" stroke-width="0.18">0</text>
<text x="465.9" y="383.6" font-size="9.5" text-anchor="middle" fill="#4d4d4d" stroke="#4d4d4d" stroke-width="0.18">5000</text>
<text x="528.1" y="383.6" font-size="9.5" text-anchor="middle" fill="#4d4d4d" stroke="#4d4d4d" stroke-width="0.18">10000</text>
<text x="590.3" y="383.6" font-size="9.5" text-anchor="middle" fill="#4d4d4d" stroke="#4d4d4d" stroke-width="0.18">15000</text>
<text x="652.5" y="383.6" font-size="9.5" text-anchor="middle" fill="#4d4d4d" stroke="#4d4d4d" stroke-width="0.18">20000</text>
<text x="529.8" y="398.0" font-size="9.4" font-weight="bold" text-anchor="middle" fill="#231815" stroke="#231815" stroke-width="0.18">rank</text>
<text transform="translate(372.9,284) rotate(-90)" font-size="9.4" font-weight="bold" text-anchor="middle" fill="#231815" stroke="#231815" stroke-width="0.18">enrichment score</text>
<text x="390.2" y="170.7" font-size="9.7" font-weight="bold" fill="#231815" stroke="#231815" stroke-width="0.18">Cell Cycle, Mitotic</text>
<text x="390.2" y="182.2" font-size="9.7" font-weight="bold" fill="#231815" stroke="#231815" stroke-width="0.18">NES 2.1</text>
<text x="390.2" y="193.7" font-size="9.7" font-weight="bold" fill="#231815" stroke="#231815" stroke-width="0.18">Padj 6.3e-20</text>
<text x="216.4" y="440.4" font-size="9.4" font-weight="bold" fill="#231815" stroke="#231815" stroke-width="0.18">Pathway</text>
<text x="387.5" y="440.4" font-size="9.4" font-weight="bold" fill="#231815" stroke="#231815" stroke-width="0.18">Gene ranks</text>
<text x="483.2" y="440.4" font-size="9.4" font-weight="bold" fill="#231815" stroke="#231815" stroke-width="0.18">NES</text>
<text x="515.5" y="440.4" font-size="9.4" font-weight="bold" fill="#231815" stroke="#231815" stroke-width="0.18">P value</text>
<text x="562.6" y="440.4" font-size="9.4" font-weight="bold" fill="#231815" stroke="#231815" stroke-width="0.18">P adjust</text>
<text x="345.8" y="459.5" font-size="8.37" text-anchor="end" fill="#231815" stroke="#231815" stroke-width="0.18">Cell Cycle, Mitotic</text>
<text x="504.2" y="460.0" font-size="8.3" text-anchor="end" fill="#231815" stroke="#231815" stroke-width="0.18">2.13</text>
<text x="519.1" y="460.0" font-size="8.3" fill="#231815" stroke="#231815" stroke-width="0.18">5.3e-23</text>
<text x="567.8" y="460.0" font-size="8.3" fill="#231815" stroke="#231815" stroke-width="0.18">6.3e-20</text>
<path d="M354.02,458.2v1.6M369.48,458.2v1.6M377.98,458.2v1.6M359.22,458.2v1.6M356.46,458.2v1.6M354.22,458.2v1.6M352.57,458.2v1.6M364.88,458.2v1.6M356.25,458.2v1.6M353.93,458.2v1.6M356.33,458.2v1.6M370.84,458.2v1.6M378.49,458.2v1.6M364.80,458.2v1.6M355.01,458.2v1.6M365.74,458.2v1.6M354.99,458.2v1.6M354.60,458.2v1.6M355.80,458.2v1.6M358.06,458.2v1.6M375.95,458.2v1.6M359.88,458.2v1.6M355.04,458.2v1.6M354.87,458.2v1.6M372.02,458.2v1.6M378.57,458.2v1.6M377.79,458.2v1.6M354.62,458.2v1.6M370.78,458.2v1.6M354.12,458.2v1.6M380.32,458.2v1.6M369.53,458.2v1.6M353.46,458.2v1.6M371.51,458.2v1.6M359.84,458.2v1.6M353.04,458.2v1.6M354.41,458.2v1.6M369.91,458.2v1.6M363.15,458.2v1.6M372.78,458.2v1.6M356.99,458.2v1.6M367.64,458.2v1.6M353.09,458.2v1.6M370.46,458.2v1.6M357.31,458.2v1.6M361.89,458.2v1.6M357.58,458.2v1.6M371.38,458.2v1.6M358.76,458.2v1.6M366.78,458.2v1.6M353.70,458.2v1.6M356.55,458.2v1.6M359.77,458.2v1.6M359.53,458.2v1.6M363.65,458.2v1.6M362.57,458.2v1.6M367.50,458.2v1.6M374.27,458.2v1.6M360.99,458.2v1.6M355.40,458.2v1.6M357.71,458.2v1.6M360.40,458.2v1.6M365.60,458.2v1.6M362.34,458.2v1.6M355.98,458.2v1.6M354.62,458.2v1.6M353.76,458.2v1.6M373.96,458.2v1.6M359.65,458.2v1.6M370.28,458.2v1.6M352.69,458.2v1.6M363.55,458.2v1.6M364.32,458.2v1.6M369.49,458.2v1.6M355.50,458.2v1.6M361.91,458.2v1.6M365.37,458.2v1.6M354.95,458.2v1.6M375.58,458.2v1.6M365.88,458.2v1.6M355.10,458.2v1.6M356.77,458.2v1.6M365.36,458.2v1.6M372.45,458.2v1.6M362.19,458.2v1.6M361.63,458.2v1.6M368.97,458.2v1.6M360.33,458.2v1.6M353.41,458.2v1.6M355.41,458.2v1.6M360.51,458.2v1.6M352.81,458.2v1.6M368.69,458.2v1.6M366.03,458.2v1.6M355.79,458.2v1.6M380.22,458.2v1.6M382.42,458.2v1.6M359.78,458.2v1.6M353.99,458.2v1.6M362.76,458.2v1.6M384.06,458.2v1.6M383.11,458.2v1.6M373.70,458.2v1.6M356.75,458.2v1.6M360.38,458.2v1.6M377.95,458.2v1.6M376.57,458.2v1.6M381.03,458.2v1.6M380.14,458.2v1.6M361.02,458.2v1.6M367.41,458.2v1.6M357.56,458.2v1.6M369.92,458.2v1.6M353.34,458.2v1.6M369.76,458.2v1.6M370.92,458.2v1.6M376.31,458.2v1.6M374.05,458.2v1.6M369.68,458.2v1.6M365.44,458.2v1.6M354.66,458.2v1.6M363.91,458.2v1.6M353.37,458.2v1.6M363.71,458.2v1.6M356.39,458.2v1.6M363.45,458.2v1.6M359.72,458.2v1.6M354.01,458.2v1.6M380.40,458.2v1.6M378.19,458.2v1.6M353.48,458.2v1.6M354.04,458.2v1.6M370.61,458.2v1.6M355.13,458.2v1.6M375.57,458.2v1.6M365.68,458.2v1.6M354.77,458.2v1.6M353.10,458.2v1.6M367.89,458.2v1.6M353.70,458.2v1.6M364.75,458.2v1.6M358.25,458.2v1.6M353.80,458.2v1.6M360.82,458.2v1.6M361.76,458.2v1.6M379.16,458.2v1.6M363.74,458.2v1.6M381.88,458.2v1.6M359.35,458.2v1.6M381.24,458.2v1.6M374.19,458.2v1.6M374.16,458.2v1.6M352.70,458.2v1.6M370.29,458.2v1.6M373.78,458.2v1.6M367.85,458.2v1.6M353.19,458.2v1.6M352.80,458.2v1.6M377.90,458.2v1.6M375.29,458.2v1.6M376.82,458.2v1.6M355.68,458.2v1.6M354.24,458.2v1.6M356.33,458.2v1.6M362.94,458.2v1.6M364.32,458.2v1.6M360.23,458.2v1.6M374.31,458.2v1.6M363.80,458.2v1.6M367.96,458.2v1.6M376.26,458.2v1.6M355.04,458.2v1.6M352.99,458.2v1.6M383.12,458.2v1.6M380.97,458.2v1.6M366.27,458.2v1.6M353.24,458.2v1.6M370.88,458.2v1.6M369.18,458.2v1.6M359.88,458.2v1.6M367.13,458.2v1.6M383.78,458.2v1.6M365.29,458.2v1.6M371.71,458.2v1.6M383.96,458.2v1.6M358.28,458.2v1.6M374.35,458.2v1.6M359.44,458.2v1.6M353.29,458.2v1.6M360.62,458.2v1.6M367.21,458.2v1.6M370.67,458.2v1.6M370.24,458.2v1.6M364.60,458.2v1.6M382.90,458.2v1.6M357.95,458.2v1.6M354.19,458.2v1.6M360.91,458.2v1.6M357.86,458.2v1.6M364.68,458.2v1.6M363.71,458.2v1.6M379.41,458.2v1.6M356.69,458.2v1.6M357.00,458.2v1.6M382.53,458.2v1.6M366.06,458.2v1.6M377.08,458.2v1.6M353.20,458.2v1.6M354.62,458.2v1.6M360.86,458.2v1.6M363.58,458.2v1.6M358.16,458.2v1.6M360.65,458.2v1.6M361.20,458.2v1.6M358.43,458.2v1.6M360.79,458.2v1.6M377.63,458.2v1.6M356.10,458.2v1.6M363.53,458.2v1.6M355.52,458.2v1.6M379.68,458.2v1.6M370.21,458.2v1.6M375.47,458.2v1.6M355.51,458.2v1.6M377.22,458.2v1.6M353.55,458.2v1.6M372.50,458.2v1.6M352.54,458.2v1.6M354.97,458.2v1.6M363.97,458.2v1.6M380.01,458.2v1.6M354.60,458.2v1.6M382.16,458.2v1.6M353.10,458.2v1.6M358.00,458.2v1.6M352.70,458.2v1.6M371.56,458.2v1.6" stroke="#000" stroke-opacity="0.65" stroke-width="0.3" fill="none"/>
<path d="M471.45,458.2v1.6M472.57,458.2v1.6M462.22,458.2v1.6M455.80,458.2v1.6M445.07,458.2v1.6M421.62,458.2v1.6M457.26,458.2v1.6M473.13,458.2v1.6M458.05,458.2v1.6M451.20,458.2v1.6M459.70,458.2v1.6M463.34,458.2v1.6M445.56,458.2v1.6M425.57,458.2v1.6M474.65,458.2v1.6M454.00,458.2v1.6M435.83,458.2v1.6M472.75,458.2v1.6M419.66,458.2v1.6M452.58,458.2v1.6M447.81,458.2v1.6M457.27,458.2v1.6M467.84,458.2v1.6M471.87,458.2v1.6M468.60,458.2v1.6M451.05,458.2v1.6M455.45,458.2v1.6M448.12,458.2v1.6M384.80,458.2v1.6M463.28,458.2v1.6M440.21,458.2v1.6M470.73,458.2v1.6M437.12,458.2v1.6M405.69,458.2v1.6M455.23,458.2v1.6M471.36,458.2v1.6M455.96,458.2v1.6M429.10,458.2v1.6M438.33,458.2v1.6M446.00,458.2v1.6M441.05,458.2v1.6M473.06,458.2v1.6M466.37,458.2v1.6M459.19,458.2v1.6M470.28,458.2v1.6M426.86,458.2v1.6M440.89,458.2v1.6M424.15,458.2v1.6M445.21,458.2v1.6M446.88,458.2v1.6M420.89,458.2v1.6M442.52,458.2v1.6M456.94,458.2v1.6M455.33,458.2v1.6M450.81,458.2v1.6M472.70,458.2v1.6M441.21,458.2v1.6M451.47,458.2v1.6M444.54,458.2v1.6M446.02,458.2v1.6M395.03,458.2v1.6M429.65,458.2v1.6M439.72,458.2v1.6M467.85,458.2v1.6M404.00,458.2v1.6M432.87,458.2v1.6M460.47,458.2v1.6M432.52,458.2v1.6M455.68,458.2v1.6M438.46,458.2v1.6M473.92,458.2v1.6M459.64,458.2v1.6M462.03,458.2v1.6M469.90,458.2v1.6M465.09,458.2v1.6M422.19,458.2v1.6M466.57,458.2v1.6M407.26,458.2v1.6M471.82,458.2v1.6M402.15,458.2v1.6M450.97,458.2v1.6M431.92,458.2v1.6M453.11,458.2v1.6M468.01,458.2v1.6M425.07,458.2v1.6M397.31,458.2v1.6M446.17,458.2v1.6M450.54,458.2v1.6M435.62,458.2v1.6M469.80,458.2v1.6M472.37,458.2v1.6M391.65,458.2v1.6M424.27,458.2v1.6M468.35,458.2v1.6M470.67,458.2v1.6M468.95,458.2v1.6M466.25,458.2v1.6M434.63,458.2v1.6M471.80,458.2v1.6M390.87,458.2v1.6M466.77,458.2v1.6M448.11,458.2v1.6M439.10,458.2v1.6M451.63,458.2v1.6M407.30,458.2v1.6M449.15,458.2v1.6M406.78,458.2v1.6M473.02,458.2v1.6M468.09,458.2v1.6M439.62,458.2v1.6M455.64,458.2v1.6M432.52,458.2v1.6M474.86,458.2v1.6M442.81,458.2v1.6M439.70,458.2v1.6M453.86,458.2v1.6M458.00,458.2v1.6M425.89,458.2v1.6" stroke="#000" stroke-opacity="0.5" stroke-width="0.3" fill="none"/>
<text x="345.8" y="469.3" font-size="8.37" text-anchor="end" fill="#231815" stroke="#231815" stroke-width="0.18">Cell Cycle Checkpoints</text>
<text x="504.2" y="469.8" font-size="8.3" text-anchor="end" fill="#231815" stroke="#231815" stroke-width="0.18">2.26</text>
<text x="519.1" y="469.8" font-size="8.3" fill="#231815" stroke="#231815" stroke-width="0.18">1.1e-19</text>
<text x="567.8" y="469.8" font-size="8.3" fill="#231815" stroke="#231815" stroke-width="0.18">6.6e-17</text>
<path d="M379.42,468.0v1.6M360.99,468.0v1.6M381.25,468.0v1.6M364.92,468.0v1.6M368.57,468.0v1.6M365.54,468.0v1.6M380.26,468.0v1.6M367.33,468.0v1.6M354.16,468.0v1.6M363.01,468.0v1.6M367.41,468.0v1.6M378.22,468.0v1.6M369.45,468.0v1.6M377.58,468.0v1.6M374.91,468.0v1.6M372.75,468.0v1.6M356.15,468.0v1.6M360.26,468.0v1.6M376.48,468.0v1.6M373.06,468.0v1.6M383.75,468.0v1.6M376.12,468.0v1.6M357.44,468.0v1.6M363.25,468.0v1.6M368.80,468.0v1.6M354.02,468.0v1.6M363.84,468.0v1.6M371.13,468.0v1.6M358.05,468.0v1.6M358.17,468.0v1.6M359.83,468.0v1.6M352.54,468.0v1.6M367.91,468.0v1.6M354.22,468.0v1.6M382.23,468.0v1.6M379.97,468.0v1.6M362.03,468.0v1.6M352.78,468.0v1.6M368.05,468.0v1.6M357.82,468.0v1.6M381.38,468.0v1.6M359.94,468.0v1.6M368.55,468.0v1.6M373.86,468.0v1.6M360.57,468.0v1.6M378.53,468.0v1.6M374.73,468.0v1.6M382.02,468.0v1.6M354.31,468.0v1.6M383.97,468.0v1.6M376.50,468.0v1.6M383.04,468.0v1.6M355.10,468.0v1.6M368.54,468.0v1.6M367.56,468.0v1.6M368.80,468.0v1.6M358.05,468.0v1.6M354.20,468.0v1.6M354.62,468.0v1.6M355.72,468.0v1.6M380.06,468.0v1.6M354.25,468.0v1.6M364.26,468.0v1.6M366.44,468.0v1.6M366.88,468.0v1.6M366.00,468.0v1.6M354.68,468.0v1.6M380.45,468.0v1.6M354.83,468.0v1.6M354.43,468.0v1.6M359.45,468.0v1.6M356.63,468.0v1.6M361.50,468.0v1.6M353.67,468.0v1.6M359.78,468.0v1.6M383.03,468.0v1.6M363.12,468.0v1.6M369.47,468.0v1.6M371.51,468.0v1.6M357.48,468.0v1.6M364.47,468.0v1.6M380.06,468.0v1.6M354.07,468.0v1.6M355.84,468.0v1.6M353.93,468.0v1.6M382.68,468.0v1.6M353.41,468.0v1.6M360.61,468.0v1.6M356.74,468.0v1.6M355.26,468.0v1.6M357.58,468.0v1.6M372.77,468.0v1.6M359.20,468.0v1.6M377.56,468.0v1.6M377.38,468.0v1.6M379.11,468.0v1.6M354.91,468.0v1.6M369.88,468.0v1.6M374.58,468.0v1.6M371.75,468.0v1.6M355.12,468.0v1.6M371.20,468.0v1.6M362.28,468.0v1.6M359.93,468.0v1.6M359.46,468.0v1.6M377.53,468.0v1.6M362.55,468.0v1.6M380.33,468.0v1.6M352.97,468.0v1.6M372.16,468.0v1.6M355.64,468.0v1.6M365.66,468.0v1.6M360.75,468.0v1.6M359.96,468.0v1.6M380.57,468.0v1.6M354.13,468.0v1.6M354.88,468.0v1.6M361.61,468.0v1.6M355.80,468.0v1.6M361.60,468.0v1.6M383.15,468.0v1.6M355.77,468.0v1.6M358.60,468.0v1.6M371.49,468.0v1.6M366.60,468.0v1.6M368.03,468.0v1.6M352.86,468.0v1.6M355.67,468.0v1.6M371.23,468.0v1.6M370.89,468.0v1.6M354.40,468.0v1.6M378.05,468.0v1.6M380.48,468.0v1.6M352.62,468.0v1.6M363.91,468.0v1.6M374.82,468.0v1.6M373.40,468.0v1.6M378.23,468.0v1.6M358.08,468.0v1.6M362.30,468.0v1.6M368.08,468.0v1.6M369.93,468.0v1.6M356.34,468.0v1.6M372.23,468.0v1.6" stroke="#000" stroke-opacity="0.65" stroke-width="0.3" fill="none"/>
<path d="M462.15,468.0v1.6M443.98,468.0v1.6M432.80,468.0v1.6M473.17,468.0v1.6M442.64,468.0v1.6M423.27,468.0v1.6M438.77,468.0v1.6M429.21,468.0v1.6M470.47,468.0v1.6M443.08,468.0v1.6M440.04,468.0v1.6M417.87,468.0v1.6M400.29,468.0v1.6M398.36,468.0v1.6M400.75,468.0v1.6M446.73,468.0v1.6M453.69,468.0v1.6M389.49,468.0v1.6M470.47,468.0v1.6M438.90,468.0v1.6M432.59,468.0v1.6M454.54,468.0v1.6M455.78,468.0v1.6M437.26,468.0v1.6M445.42,468.0v1.6M473.32,468.0v1.6M474.48,468.0v1.6M458.70,468.0v1.6M428.09,468.0v1.6M434.38,468.0v1.6M449.19,468.0v1.6M461.54,468.0v1.6M451.86,468.0v1.6M401.90,468.0v1.6M435.28,468.0v1.6M438.65,468.0v1.6M442.78,468.0v1.6M407.16,468.0v1.6M398.85,468.0v1.6M471.12,468.0v1.6M392.76,468.0v1.6M428.68,468.0v1.6M444.25,468.0v1.6M432.26,468.0v1.6M456.37,468.0v1.6M398.76,468.0v1.6M453.89,468.0v1.6M434.05,468.0v1.6M385.47,468.0v1.6M395.54,468.0v1.6M441.85,468.0v1.6M400.32,468.0v1.6M467.97,468.0v1.6M437.76,468.0v1.6M466.26,468.0v1.6M470.74,468.0v1.6M434.13,468.0v1.6M396.69,468.0v1.6M459.05,468.0v1.6M438.81,468.0v1.6M436.51,468.0v1.6M419.06,468.0v1.6M390.90,468.0v1.6M451.17,468.0v1.6M420.68,468.0v1.6M443.65,468.0v1.6M466.82,468.0v1.6M470.87,468.0v1.6M408.92,468.0v1.6M450.02,468.0v1.6M472.69,468.0v1.6M454.43,468.0v1.6M457.36,468.0v1.6M454.02,468.0v1.6M461.32,468.0v1.6M452.46,468.0v1.6M448.89,468.0v1.6M463.94,468.0v1.6M433.56,468.0v1.6M438.31,468.0v1.6M418.25,468.0v1.6M463.26,468.0v1.6M420.18,468.0v1.6M393.26,468.0v1.6M455.04,468.0v1.6M459.55,468.0v1.6M396.99,468.0v1.6M390.12,468.0v1.6M439.87,468.0v1.6M468.92,468.0v1.6M460.48,468.0v1.6M432.34,468.0v1.6M404.73,468.0v1.6" stroke="#000" stroke-opacity="0.5" stroke-width="0.3" fill="none"/>
<text x="345.8" y="479.7" font-size="8.37" text-anchor="end" fill="#231815" stroke="#231815" stroke-width="0.18">Mitotic Prometaphase</text>
<text x="504.2" y="480.1" font-size="8.3" text-anchor="end" fill="#231815" stroke="#231815" stroke-width="0.18">2.28</text>
<text x="519.1" y="480.1" font-size="8.3" fill="#231815" stroke="#231815" stroke-width="0.18">9.3e-18</text>
<text x="567.8" y="480.1" font-size="8.3" fill="#231815" stroke="#231815" stroke-width="0.18">3.7e-15</text>
<path d="M354.17,478.3v1.6M382.47,478.3v1.6M353.46,478.3v1.6M365.21,478.3v1.6M382.53,478.3v1.6M360.88,478.3v1.6M376.61,478.3v1.6M380.30,478.3v1.6M354.33,478.3v1.6M356.69,478.3v1.6M365.03,478.3v1.6M382.08,478.3v1.6M375.65,478.3v1.6M355.39,478.3v1.6M381.05,478.3v1.6M380.25,478.3v1.6M359.50,478.3v1.6M353.14,478.3v1.6M354.10,478.3v1.6M375.67,478.3v1.6M361.00,478.3v1.6M353.05,478.3v1.6M382.75,478.3v1.6M381.20,478.3v1.6M363.07,478.3v1.6M357.87,478.3v1.6M363.09,478.3v1.6M354.55,478.3v1.6M379.02,478.3v1.6M360.12,478.3v1.6M378.37,478.3v1.6M380.47,478.3v1.6M370.95,478.3v1.6M367.36,478.3v1.6M368.70,478.3v1.6M369.28,478.3v1.6M358.13,478.3v1.6M372.03,478.3v1.6M358.61,478.3v1.6M366.04,478.3v1.6M369.37,478.3v1.6M378.64,478.3v1.6M353.90,478.3v1.6M382.29,478.3v1.6M358.50,478.3v1.6M367.97,478.3v1.6M356.70,478.3v1.6M373.07,478.3v1.6M371.66,478.3v1.6M359.46,478.3v1.6M381.32,478.3v1.6M382.51,478.3v1.6M356.43,478.3v1.6M357.98,478.3v1.6M355.59,478.3v1.6M382.04,478.3v1.6M359.54,478.3v1.6M374.35,478.3v1.6M353.87,478.3v1.6M373.10,478.3v1.6M355.30,478.3v1.6M379.72,478.3v1.6M360.55,478.3v1.6M374.54,478.3v1.6M369.93,478.3v1.6M383.11,478.3v1.6M360.90,478.3v1.6M353.27,478.3v1.6M362.84,478.3v1.6M379.04,478.3v1.6M377.87,478.3v1.6M352.67,478.3v1.6M372.28,478.3v1.6M373.32,478.3v1.6M382.82,478.3v1.6M361.10,478.3v1.6M358.95,478.3v1.6M378.57,478.3v1.6M372.17,478.3v1.6M365.60,478.3v1.6M357.79,478.3v1.6M356.03,478.3v1.6M354.34,478.3v1.6M382.91,478.3v1.6M359.95,478.3v1.6M361.54,478.3v1.6M360.61,478.3v1.6M354.59,478.3v1.6M370.44,478.3v1.6M371.44,478.3v1.6M370.73,478.3v1.6M380.65,478.3v1.6M380.14,478.3v1.6M369.06,478.3v1.6M371.65,478.3v1.6M364.11,478.3v1.6M368.24,478.3v1.6M367.77,478.3v1.6M359.95,478.3v1.6M361.47,478.3v1.6M353.30,478.3v1.6M372.05,478.3v1.6M374.15,478.3v1.6M379.58,478.3v1.6M358.02,478.3v1.6M371.13,478.3v1.6M364.08,478.3v1.6M355.65,478.3v1.6M379.34,478.3v1.6M374.61,478.3v1.6M368.50,478.3v1.6M356.85,478.3v1.6M352.73,478.3v1.6M380.95,478.3v1.6M359.88,478.3v1.6M354.45,478.3v1.6M380.83,478.3v1.6M376.09,478.3v1.6M352.82,478.3v1.6M352.78,478.3v1.6M361.32,478.3v1.6M360.48,478.3v1.6M355.08,478.3v1.6M352.93,478.3v1.6M374.87,478.3v1.6" stroke="#000" stroke-opacity="0.65" stroke-width="0.3" fill="none"/>
<path d="M446.29,478.3v1.6M434.31,478.3v1.6M391.35,478.3v1.6M463.41,478.3v1.6M442.47,478.3v1.6M455.36,478.3v1.6M449.24,478.3v1.6M399.06,478.3v1.6M432.08,478.3v1.6M467.53,478.3v1.6M451.19,478.3v1.6M388.37,478.3v1.6M407.33,478.3v1.6M449.38,478.3v1.6M439.88,478.3v1.6M422.99,478.3v1.6M444.93,478.3v1.6M454.90,478.3v1.6M461.57,478.3v1.6M449.86,478.3v1.6M446.13,478.3v1.6M468.42,478.3v1.6M439.92,478.3v1.6M394.68,478.3v1.6M435.70,478.3v1.6M402.79,478.3v1.6M463.49,478.3v1.6M405.45,478.3v1.6M438.00,478.3v1.6M433.10,478.3v1.6M421.99,478.3v1.6M423.43,478.3v1.6M447.49,478.3v1.6M451.77,478.3v1.6M456.59,478.3v1.6M458.37,478.3v1.6M462.60,478.3v1.6M421.96,478.3v1.6M458.76,478.3v1.6M470.74,478.3v1.6M430.72,478.3v1.6M453.09,478.3v1.6M435.71,478.3v1.6M392.70,478.3v1.6M431.05,478.3v1.6M458.35,478.3v1.6M441.59,478.3v1.6M449.06,478.3v1.6M460.66,478.3v1.6M385.47,478.3v1.6M393.95,478.3v1.6M431.81,478.3v1.6M472.38,478.3v1.6M431.84,478.3v1.6M441.08,478.3v1.6M453.42,478.3v1.6M445.13,478.3v1.6M408.96,478.3v1.6M404.97,478.3v1.6M434.50,478.3v1.6M438.66,478.3v1.6M439.41,478.3v1.6M436.14,478.3v1.6M454.84,478.3v1.6M450.07,478.3v1.6M446.23,478.3v1.6M406.10,478.3v1.6M384.89,478.3v1.6M454.79,478.3v1.6M389.78,478.3v1.6" stroke="#000" stroke-opacity="0.5" stroke-width="0.3" fill="none"/>
<text x="345.8" y="489.5" font-size="8.37" text-anchor="end" fill="#231815" stroke="#231815" stroke-width="0.18">M Phase</text>
<text x="504.2" y="489.6" font-size="8.3" text-anchor="end" fill="#231815" stroke="#231815" stroke-width="0.18">2.04</text>
<text x="519.1" y="489.6" font-size="8.3" fill="#231815" stroke="#231815" stroke-width="0.18">1.2e-15</text>
<text x="567.8" y="489.6" font-size="8.3" fill="#231815" stroke="#231815" stroke-width="0.18">3.6e-13</text>
<path d="M358.33,487.8v1.6M355.11,487.8v1.6M369.49,487.8v1.6M368.41,487.8v1.6M355.98,487.8v1.6M355.24,487.8v1.6M362.10,487.8v1.6M379.42,487.8v1.6M374.50,487.8v1.6M383.63,487.8v1.6M363.98,487.8v1.6M355.17,487.8v1.6M365.15,487.8v1.6M371.56,487.8v1.6M373.25,487.8v1.6M383.17,487.8v1.6M364.46,487.8v1.6M354.13,487.8v1.6M379.80,487.8v1.6M358.03,487.8v1.6M380.41,487.8v1.6M354.88,487.8v1.6M369.98,487.8v1.6M367.07,487.8v1.6M376.98,487.8v1.6M353.55,487.8v1.6M355.89,487.8v1.6M358.79,487.8v1.6M382.94,487.8v1.6M358.38,487.8v1.6M358.98,487.8v1.6M378.90,487.8v1.6M368.58,487.8v1.6M361.69,487.8v1.6M374.05,487.8v1.6M364.44,487.8v1.6M361.98,487.8v1.6M371.05,487.8v1.6M380.22,487.8v1.6M368.85,487.8v1.6M379.83,487.8v1.6M354.17,487.8v1.6M354.83,487.8v1.6M353.63,487.8v1.6M358.05,487.8v1.6M364.18,487.8v1.6M357.92,487.8v1.6M381.48,487.8v1.6M375.02,487.8v1.6M353.30,487.8v1.6M354.87,487.8v1.6M356.54,487.8v1.6M374.47,487.8v1.6M361.24,487.8v1.6M368.53,487.8v1.6M366.29,487.8v1.6M356.31,487.8v1.6M364.96,487.8v1.6M377.66,487.8v1.6M356.09,487.8v1.6M369.17,487.8v1.6M370.89,487.8v1.6M375.65,487.8v1.6M358.99,487.8v1.6M354.89,487.8v1.6M364.30,487.8v1.6M360.90,487.8v1.6M374.06,487.8v1.6M362.20,487.8v1.6M353.80,487.8v1.6M359.37,487.8v1.6M360.65,487.8v1.6M381.46,487.8v1.6M357.27,487.8v1.6M370.00,487.8v1.6M365.26,487.8v1.6M373.71,487.8v1.6M366.22,487.8v1.6M355.00,487.8v1.6M355.46,487.8v1.6M377.50,487.8v1.6M355.13,487.8v1.6M354.34,487.8v1.6M373.62,487.8v1.6M380.55,487.8v1.6M363.56,487.8v1.6M353.34,487.8v1.6M371.40,487.8v1.6M382.67,487.8v1.6M352.81,487.8v1.6M354.28,487.8v1.6M354.85,487.8v1.6M364.15,487.8v1.6M364.98,487.8v1.6M373.72,487.8v1.6M360.28,487.8v1.6M353.11,487.8v1.6M357.84,487.8v1.6M371.03,487.8v1.6M358.52,487.8v1.6M364.77,487.8v1.6M372.13,487.8v1.6M363.27,487.8v1.6M355.61,487.8v1.6M374.12,487.8v1.6M357.97,487.8v1.6M363.65,487.8v1.6M359.25,487.8v1.6M369.90,487.8v1.6M352.52,487.8v1.6M361.04,487.8v1.6M358.90,487.8v1.6M359.86,487.8v1.6M364.64,487.8v1.6M356.93,487.8v1.6M365.14,487.8v1.6M381.61,487.8v1.6M352.78,487.8v1.6M370.61,487.8v1.6M379.23,487.8v1.6M360.59,487.8v1.6M382.32,487.8v1.6M378.44,487.8v1.6M380.41,487.8v1.6M367.29,487.8v1.6M361.82,487.8v1.6M359.55,487.8v1.6M357.90,487.8v1.6M382.74,487.8v1.6M353.05,487.8v1.6M372.14,487.8v1.6M370.61,487.8v1.6M365.92,487.8v1.6M358.56,487.8v1.6M353.62,487.8v1.6M379.14,487.8v1.6M360.83,487.8v1.6M363.72,487.8v1.6M356.35,487.8v1.6M377.73,487.8v1.6M363.64,487.8v1.6M377.21,487.8v1.6M375.29,487.8v1.6M371.40,487.8v1.6M382.88,487.8v1.6M353.58,487.8v1.6M372.24,487.8v1.6M374.49,487.8v1.6M360.98,487.8v1.6M377.44,487.8v1.6M367.40,487.8v1.6M379.66,487.8v1.6M383.29,487.8v1.6M383.22,487.8v1.6M359.11,487.8v1.6M364.50,487.8v1.6M366.10,487.8v1.6M353.04,487.8v1.6M379.68,487.8v1.6M367.81,487.8v1.6M371.67,487.8v1.6M380.58,487.8v1.6M355.25,487.8v1.6M370.87,487.8v1.6M364.92,487.8v1.6M379.01,487.8v1.6M361.09,487.8v1.6M359.11,487.8v1.6M354.28,487.8v1.6M364.43,487.8v1.6M353.83,487.8v1.6M353.52,487.8v1.6M365.98,487.8v1.6M355.73,487.8v1.6M379.04,487.8v1.6M358.62,487.8v1.6M376.80,487.8v1.6M355.09,487.8v1.6M357.61,487.8v1.6M382.27,487.8v1.6M384.00,487.8v1.6M375.10,487.8v1.6M366.33,487.8v1.6M356.89,487.8v1.6M353.48,487.8v1.6M366.65,487.8v1.6M357.59,487.8v1.6M354.44,487.8v1.6M380.47,487.8v1.6M361.91,487.8v1.6M360.57,487.8v1.6M352.63,487.8v1.6M364.35,487.8v1.6M368.33,487.8v1.6M368.30,487.8v1.6M354.44,487.8v1.6M367.46,487.8v1.6M367.55,487.8v1.6M358.66,487.8v1.6M355.21,487.8v1.6M372.54,487.8v1.6M357.17,487.8v1.6M352.80,487.8v1.6M379.24,487.8v1.6M368.14,487.8v1.6M363.51,487.8v1.6M357.69,487.8v1.6M370.47,487.8v1.6M356.08,487.8v1.6M354.51,487.8v1.6M373.62,487.8v1.6M358.96,487.8v1.6M373.99,487.8v1.6M369.88,487.8v1.6M364.25,487.8v1.6M360.83,487.8v1.6M352.83,487.8v1.6M360.97,487.8v1.6M383.33,487.8v1.6M371.60,487.8v1.6M352.75,487.8v1.6M356.91,487.8v1.6M382.25,487.8v1.6M354.83,487.8v1.6M382.38,487.8v1.6M355.05,487.8v1.6M382.76,487.8v1.6M353.98,487.8v1.6M353.24,487.8v1.6M352.96,487.8v1.6M361.75,487.8v1.6M371.51,487.8v1.6M368.77,487.8v1.6M359.11,487.8v1.6M368.89,487.8v1.6M355.24,487.8v1.6M370.34,487.8v1.6M353.05,487.8v1.6M364.33,487.8v1.6M362.65,487.8v1.6M352.75,487.8v1.6M376.08,487.8v1.6M365.81,487.8v1.6M359.86,487.8v1.6" stroke="#000" stroke-opacity="0.65" stroke-width="0.3" fill="none"/>
<path d="M447.21,487.8v1.6M468.61,487.8v1.6M469.01,487.8v1.6M423.85,487.8v1.6M473.28,487.8v1.6M466.05,487.8v1.6M466.08,487.8v1.6M467.97,487.8v1.6M454.70,487.8v1.6M422.54,487.8v1.6M421.92,487.8v1.6M468.30,487.8v1.6M474.21,487.8v1.6M465.60,487.8v1.6M442.65,487.8v1.6M469.56,487.8v1.6M457.41,487.8v1.6M386.21,487.8v1.6M472.69,487.8v1.6M473.81,487.8v1.6M395.09,487.8v1.6M474.12,487.8v1.6M394.28,487.8v1.6M464.67,487.8v1.6M385.05,487.8v1.6M429.35,487.8v1.6M451.99,487.8v1.6M432.65,487.8v1.6M441.45,487.8v1.6M472.24,487.8v1.6M421.04,487.8v1.6M432.03,487.8v1.6M465.27,487.8v1.6M431.92,487.8v1.6M405.52,487.8v1.6M468.25,487.8v1.6M442.91,487.8v1.6M470.42,487.8v1.6M442.74,487.8v1.6M462.72,487.8v1.6M428.72,487.8v1.6M469.41,487.8v1.6M471.94,487.8v1.6M433.44,487.8v1.6M456.72,487.8v1.6M453.73,487.8v1.6M444.73,487.8v1.6M460.70,487.8v1.6M438.63,487.8v1.6M464.26,487.8v1.6M462.54,487.8v1.6M471.67,487.8v1.6M468.25,487.8v1.6M452.08,487.8v1.6M438.00,487.8v1.6M458.16,487.8v1.6M451.30,487.8v1.6M443.88,487.8v1.6M459.12,487.8v1.6M401.06,487.8v1.6M432.83,487.8v1.6M473.17,487.8v1.6M465.54,487.8v1.6M455.72,487.8v1.6M430.06,487.8v1.6M439.02,487.8v1.6M472.25,487.8v1.6M463.16,487.8v1.6M389.11,487.8v1.6M469.36,487.8v1.6M468.63,487.8v1.6M448.58,487.8v1.6M430.56,487.8v1.6M388.61,487.8v1.6M404.56,487.8v1.6M395.70,487.8v1.6M386.99,487.8v1.6M458.74,487.8v1.6M433.91,487.8v1.6M467.55,487.8v1.6M436.92,487.8v1.6M470.54,487.8v1.6M470.12,487.8v1.6M441.82,487.8v1.6M465.85,487.8v1.6M389.80,487.8v1.6M460.25,487.8v1.6M392.52,487.8v1.6M474.77,487.8v1.6M394.59,487.8v1.6M441.04,487.8v1.6M474.92,487.8v1.6M436.73,487.8v1.6M471.26,487.8v1.6M451.75,487.8v1.6M422.80,487.8v1.6M406.71,487.8v1.6M461.69,487.8v1.6M467.01,487.8v1.6M455.30,487.8v1.6M397.57,487.8v1.6M470.02,487.8v1.6M456.54,487.8v1.6M440.99,487.8v1.6M460.85,487.8v1.6M473.41,487.8v1.6M437.08,487.8v1.6M441.35,487.8v1.6M465.17,487.8v1.6M465.20,487.8v1.6M465.81,487.8v1.6M415.80,487.8v1.6M387.43,487.8v1.6M437.98,487.8v1.6M460.01,487.8v1.6M435.94,487.8v1.6M466.83,487.8v1.6M448.60,487.8v1.6M469.76,487.8v1.6M438.22,487.8v1.6M469.65,487.8v1.6M399.32,487.8v1.6M385.95,487.8v1.6M467.60,487.8v1.6M442.53,487.8v1.6M448.79,487.8v1.6M407.61,487.8v1.6M437.11,487.8v1.6M392.07,487.8v1.6M472.86,487.8v1.6M456.00,487.8v1.6M468.16,487.8v1.6M465.80,487.8v1.6M467.00,487.8v1.6M473.83,487.8v1.6M456.35,487.8v1.6M471.66,487.8v1.6M435.66,487.8v1.6M449.09,487.8v1.6" stroke="#000" stroke-opacity="0.5" stroke-width="0.3" fill="none"/>
<text x="345.8" y="499.4" font-size="8.37" text-anchor="end" fill="#231815" stroke="#231815" stroke-width="0.18">Processing of Capped Intron-Containing Pre-mRNA</text>
<text x="504.2" y="499.8" font-size="8.3" text-anchor="end" fill="#231815" stroke="#231815" stroke-width="0.18">2.13</text>
<text x="519.1" y="499.8" font-size="8.3" fill="#231815" stroke="#231815" stroke-width="0.18">1.8e-14</text>
<text x="567.8" y="499.8" font-size="8.3" fill="#231815" stroke="#231815" stroke-width="0.18">4.2e-12</text>
<path d="M364.19,498.0v1.6M383.60,498.0v1.6M357.72,498.0v1.6M362.23,498.0v1.6M379.44,498.0v1.6M353.32,498.0v1.6M375.99,498.0v1.6M354.36,498.0v1.6M364.36,498.0v1.6M355.68,498.0v1.6M383.71,498.0v1.6M366.57,498.0v1.6M381.46,498.0v1.6M359.25,498.0v1.6M365.18,498.0v1.6M373.54,498.0v1.6M383.11,498.0v1.6M356.17,498.0v1.6M367.87,498.0v1.6M368.84,498.0v1.6M367.08,498.0v1.6M357.13,498.0v1.6M382.65,498.0v1.6M381.80,498.0v1.6M353.50,498.0v1.6M355.77,498.0v1.6M362.83,498.0v1.6M383.52,498.0v1.6M369.16,498.0v1.6M382.48,498.0v1.6M384.11,498.0v1.6M376.60,498.0v1.6M354.60,498.0v1.6M377.79,498.0v1.6M356.12,498.0v1.6M360.31,498.0v1.6M373.69,498.0v1.6M369.15,498.0v1.6M366.02,498.0v1.6M357.88,498.0v1.6M375.82,498.0v1.6M366.22,498.0v1.6M357.95,498.0v1.6M364.20,498.0v1.6M380.50,498.0v1.6M354.32,498.0v1.6M379.27,498.0v1.6M376.40,498.0v1.6M372.89,498.0v1.6M380.03,498.0v1.6M357.14,498.0v1.6M354.01,498.0v1.6M358.09,498.0v1.6M360.96,498.0v1.6M358.03,498.0v1.6M383.05,498.0v1.6M384.11,498.0v1.6M380.73,498.0v1.6M354.28,498.0v1.6M362.83,498.0v1.6M370.45,498.0v1.6M356.60,498.0v1.6M363.33,498.0v1.6M357.68,498.0v1.6M355.68,498.0v1.6M354.23,498.0v1.6M378.68,498.0v1.6M358.47,498.0v1.6M383.65,498.0v1.6M362.49,498.0v1.6M381.90,498.0v1.6M357.89,498.0v1.6M376.44,498.0v1.6M357.85,498.0v1.6M368.94,498.0v1.6M375.16,498.0v1.6M354.82,498.0v1.6M358.83,498.0v1.6M371.64,498.0v1.6M382.59,498.0v1.6M354.31,498.0v1.6M353.85,498.0v1.6M383.23,498.0v1.6M370.06,498.0v1.6M372.02,498.0v1.6M353.83,498.0v1.6M353.40,498.0v1.6M356.81,498.0v1.6M374.67,498.0v1.6M379.96,498.0v1.6M381.76,498.0v1.6M356.20,498.0v1.6M372.28,498.0v1.6M356.61,498.0v1.6M368.30,498.0v1.6M367.65,498.0v1.6M357.89,498.0v1.6M360.32,498.0v1.6M362.30,498.0v1.6M365.81,498.0v1.6M373.55,498.0v1.6M353.71,498.0v1.6M362.93,498.0v1.6M365.89,498.0v1.6M371.07,498.0v1.6M355.53,498.0v1.6M382.27,498.0v1.6M356.61,498.0v1.6M357.59,498.0v1.6M353.02,498.0v1.6M354.38,498.0v1.6M353.44,498.0v1.6M360.16,498.0v1.6M382.86,498.0v1.6M353.82,498.0v1.6M355.14,498.0v1.6M352.75,498.0v1.6M365.21,498.0v1.6M361.02,498.0v1.6M382.93,498.0v1.6M376.11,498.0v1.6M358.53,498.0v1.6M355.49,498.0v1.6M379.41,498.0v1.6M353.49,498.0v1.6M375.44,498.0v1.6M352.77,498.0v1.6M379.59,498.0v1.6M382.08,498.0v1.6M354.15,498.0v1.6M372.61,498.0v1.6M375.45,498.0v1.6M368.23,498.0v1.6M374.23,498.0v1.6M364.15,498.0v1.6M356.80,498.0v1.6M381.00,498.0v1.6M366.26,498.0v1.6M363.60,498.0v1.6M363.18,498.0v1.6M353.18,498.0v1.6M372.47,498.0v1.6M377.00,498.0v1.6M358.15,498.0v1.6M376.58,498.0v1.6M356.99,498.0v1.6" stroke="#000" stroke-opacity="0.65" stroke-width="0.3" fill="none"/>
<path d="M456.88,498.0v1.6M446.85,498.0v1.6M469.76,498.0v1.6M455.36,498.0v1.6M433.49,498.0v1.6M400.23,498.0v1.6M401.14,498.0v1.6M390.61,498.0v1.6M457.37,498.0v1.6M422.89,498.0v1.6M434.56,498.0v1.6M407.85,498.0v1.6M462.23,498.0v1.6M443.07,498.0v1.6M439.02,498.0v1.6M407.31,498.0v1.6M391.21,498.0v1.6M418.42,498.0v1.6M470.61,498.0v1.6M408.53,498.0v1.6M429.18,498.0v1.6M458.75,498.0v1.6M457.53,498.0v1.6M465.39,498.0v1.6M424.30,498.0v1.6M470.44,498.0v1.6M439.58,498.0v1.6M445.03,498.0v1.6M421.83,498.0v1.6M459.12,498.0v1.6M431.97,498.0v1.6M465.09,498.0v1.6M436.61,498.0v1.6M421.57,498.0v1.6M408.89,498.0v1.6M403.74,498.0v1.6M398.21,498.0v1.6M422.26,498.0v1.6M398.95,498.0v1.6M419.48,498.0v1.6M435.72,498.0v1.6M454.14,498.0v1.6M418.39,498.0v1.6M430.03,498.0v1.6M451.18,498.0v1.6M436.73,498.0v1.6M450.31,498.0v1.6M461.95,498.0v1.6M392.53,498.0v1.6M454.80,498.0v1.6M426.23,498.0v1.6M463.22,498.0v1.6M457.89,498.0v1.6M463.34,498.0v1.6M463.98,498.0v1.6M433.69,498.0v1.6M441.09,498.0v1.6M461.42,498.0v1.6M466.33,498.0v1.6M470.84,498.0v1.6M391.10,498.0v1.6M473.96,498.0v1.6M434.52,498.0v1.6M457.85,498.0v1.6M448.22,498.0v1.6M443.49,498.0v1.6M450.04,498.0v1.6M435.36,498.0v1.6M434.86,498.0v1.6M469.88,498.0v1.6M469.04,498.0v1.6M407.20,498.0v1.6M472.02,498.0v1.6M427.07,498.0v1.6M457.41,498.0v1.6M442.61,498.0v1.6M448.56,498.0v1.6M388.12,498.0v1.6M449.57,498.0v1.6M423.43,498.0v1.6M456.60,498.0v1.6M393.95,498.0v1.6M470.08,498.0v1.6M439.84,498.0v1.6M453.41,498.0v1.6M460.91,498.0v1.6M448.60,498.0v1.6M461.84,498.0v1.6M429.93,498.0v1.6M450.97,498.0v1.6M464.15,498.0v1.6" stroke="#000" stroke-opacity="0.5" stroke-width="0.3" fill="none"/>
<text x="345.8" y="510.4" font-size="8.37" text-anchor="end" fill="#231815" stroke="#231815" stroke-width="0.18">Mitotic Metaphase and Anaphase</text>
<text x="504.2" y="510.7" font-size="8.3" text-anchor="end" fill="#231815" stroke="#231815" stroke-width="0.18">2.05</text>
<text x="519.1" y="510.7" font-size="8.3" fill="#231815" stroke="#231815" stroke-width="0.18">1.9e-12</text>
<text x="567.8" y="510.7" font-size="8.3" fill="#231815" stroke="#231815" stroke-width="0.18">3.7e-10</text>
<path d="M355.41,508.9v1.6M354.56,508.9v1.6M381.54,508.9v1.6M358.16,508.9v1.6M359.68,508.9v1.6M382.09,508.9v1.6M380.78,508.9v1.6M360.91,508.9v1.6M352.69,508.9v1.6M382.84,508.9v1.6M360.73,508.9v1.6M361.77,508.9v1.6M366.38,508.9v1.6M363.34,508.9v1.6M358.40,508.9v1.6M357.89,508.9v1.6M368.82,508.9v1.6M355.30,508.9v1.6M358.01,508.9v1.6M365.41,508.9v1.6M362.88,508.9v1.6M381.75,508.9v1.6M370.11,508.9v1.6M370.68,508.9v1.6M354.94,508.9v1.6M378.16,508.9v1.6M356.14,508.9v1.6M353.09,508.9v1.6M362.64,508.9v1.6M355.56,508.9v1.6M373.55,508.9v1.6M352.74,508.9v1.6M353.65,508.9v1.6M381.27,508.9v1.6M370.09,508.9v1.6M375.80,508.9v1.6M372.27,508.9v1.6M364.62,508.9v1.6M381.26,508.9v1.6M374.14,508.9v1.6M357.46,508.9v1.6M353.50,508.9v1.6M383.05,508.9v1.6M372.11,508.9v1.6M370.64,508.9v1.6M371.96,508.9v1.6M374.25,508.9v1.6M355.12,508.9v1.6M376.95,508.9v1.6M373.43,508.9v1.6M373.51,508.9v1.6M376.34,508.9v1.6M363.78,508.9v1.6M375.59,508.9v1.6M359.08,508.9v1.6M354.38,508.9v1.6M368.98,508.9v1.6M352.97,508.9v1.6M365.48,508.9v1.6M362.18,508.9v1.6M368.05,508.9v1.6M372.99,508.9v1.6M377.09,508.9v1.6M360.64,508.9v1.6M383.04,508.9v1.6M357.54,508.9v1.6M364.95,508.9v1.6M376.36,508.9v1.6M357.43,508.9v1.6M373.59,508.9v1.6M370.83,508.9v1.6M377.43,508.9v1.6M360.56,508.9v1.6M352.77,508.9v1.6M365.34,508.9v1.6M358.50,508.9v1.6M357.93,508.9v1.6M353.09,508.9v1.6M362.61,508.9v1.6M382.63,508.9v1.6M355.98,508.9v1.6M353.69,508.9v1.6M352.95,508.9v1.6M352.65,508.9v1.6M378.79,508.9v1.6M366.26,508.9v1.6M356.37,508.9v1.6M356.21,508.9v1.6M377.74,508.9v1.6M380.01,508.9v1.6M354.53,508.9v1.6M356.35,508.9v1.6M372.56,508.9v1.6M367.46,508.9v1.6M378.52,508.9v1.6M379.87,508.9v1.6M378.28,508.9v1.6M355.55,508.9v1.6M376.37,508.9v1.6M369.81,508.9v1.6M382.45,508.9v1.6M361.69,508.9v1.6M356.23,508.9v1.6M371.30,508.9v1.6M377.21,508.9v1.6M378.76,508.9v1.6M375.84,508.9v1.6M355.34,508.9v1.6M353.92,508.9v1.6M376.37,508.9v1.6M381.11,508.9v1.6M352.62,508.9v1.6M356.97,508.9v1.6M355.92,508.9v1.6M364.54,508.9v1.6M365.97,508.9v1.6M371.41,508.9v1.6M375.90,508.9v1.6M368.46,508.9v1.6M353.67,508.9v1.6M373.33,508.9v1.6M356.50,508.9v1.6M368.71,508.9v1.6M361.85,508.9v1.6M355.85,508.9v1.6M355.28,508.9v1.6M359.46,508.9v1.6M356.77,508.9v1.6M359.19,508.9v1.6M353.25,508.9v1.6M383.89,508.9v1.6M378.69,508.9v1.6M379.56,508.9v1.6M359.08,508.9v1.6M353.56,508.9v1.6M357.51,508.9v1.6M356.41,508.9v1.6M367.89,508.9v1.6M366.36,508.9v1.6M353.19,508.9v1.6M358.61,508.9v1.6M368.72,508.9v1.6M363.07,508.9v1.6M353.87,508.9v1.6M368.57,508.9v1.6M372.57,508.9v1.6M378.41,508.9v1.6M369.36,508.9v1.6M356.34,508.9v1.6M373.47,508.9v1.6M364.03,508.9v1.6M377.30,508.9v1.6M353.17,508.9v1.6M360.61,508.9v1.6M365.71,508.9v1.6M359.39,508.9v1.6M357.24,508.9v1.6M355.70,508.9v1.6M372.45,508.9v1.6M353.84,508.9v1.6M366.98,508.9v1.6M363.10,508.9v1.6M354.94,508.9v1.6M363.23,508.9v1.6M374.62,508.9v1.6M358.38,508.9v1.6M353.28,508.9v1.6M375.74,508.9v1.6M358.80,508.9v1.6M370.78,508.9v1.6M373.98,508.9v1.6M353.07,508.9v1.6" stroke="#000" stroke-opacity="0.65" stroke-width="0.3" fill="none"/>
<path d="M421.41,508.9v1.6M449.04,508.9v1.6M441.06,508.9v1.6M443.53,508.9v1.6M471.57,508.9v1.6M469.17,508.9v1.6M443.97,508.9v1.6M437.65,508.9v1.6M394.99,508.9v1.6M456.29,508.9v1.6M468.00,508.9v1.6M469.43,508.9v1.6M439.12,508.9v1.6M461.88,508.9v1.6M459.39,508.9v1.6M474.03,508.9v1.6M451.05,508.9v1.6M442.09,508.9v1.6M463.97,508.9v1.6M440.73,508.9v1.6M450.06,508.9v1.6M444.27,508.9v1.6M392.08,508.9v1.6M437.98,508.9v1.6M436.48,508.9v1.6M444.84,508.9v1.6M457.63,508.9v1.6M425.71,508.9v1.6M449.94,508.9v1.6M448.28,508.9v1.6M403.67,508.9v1.6M464.56,508.9v1.6M387.33,508.9v1.6M471.90,508.9v1.6M446.99,508.9v1.6M433.74,508.9v1.6M463.25,508.9v1.6M462.81,508.9v1.6M473.68,508.9v1.6M466.06,508.9v1.6M470.83,508.9v1.6M442.48,508.9v1.6M458.53,508.9v1.6M443.80,508.9v1.6M422.51,508.9v1.6M455.68,508.9v1.6M441.18,508.9v1.6M439.04,508.9v1.6M462.27,508.9v1.6M448.22,508.9v1.6M471.74,508.9v1.6M400.80,508.9v1.6M458.79,508.9v1.6M424.39,508.9v1.6M397.22,508.9v1.6M441.78,508.9v1.6M456.48,508.9v1.6M473.66,508.9v1.6M466.85,508.9v1.6M457.77,508.9v1.6M432.14,508.9v1.6M397.28,508.9v1.6M449.09,508.9v1.6M437.10,508.9v1.6M432.80,508.9v1.6M431.43,508.9v1.6M434.65,508.9v1.6M434.39,508.9v1.6M389.20,508.9v1.6M471.78,508.9v1.6M468.73,508.9v1.6M449.88,508.9v1.6M429.97,508.9v1.6M465.82,508.9v1.6M428.76,508.9v1.6M453.13,508.9v1.6M395.36,508.9v1.6M407.25,508.9v1.6M418.33,508.9v1.6M434.92,508.9v1.6M421.40,508.9v1.6M466.01,508.9v1.6M471.28,508.9v1.6M434.96,508.9v1.6M394.97,508.9v1.6M439.58,508.9v1.6M405.42,508.9v1.6M470.69,508.9v1.6M459.00,508.9v1.6M424.30,508.9v1.6M469.07,508.9v1.6M463.13,508.9v1.6M432.97,508.9v1.6M386.65,508.9v1.6M467.28,508.9v1.6M432.52,508.9v1.6M404.37,508.9v1.6M403.37,508.9v1.6M467.95,508.9v1.6M445.75,508.9v1.6M385.67,508.9v1.6M444.53,508.9v1.6" stroke="#000" stroke-opacity="0.5" stroke-width="0.3" fill="none"/>
<text x="345.8" y="520.0" font-size="8.37" text-anchor="end" fill="#231815" stroke="#231815" stroke-width="0.18">Resolution of Sister Chromatid Cohesion</text>
<text x="504.2" y="520.6" font-size="8.3" text-anchor="end" fill="#231815" stroke="#231815" stroke-width="0.18">2.20</text>
<text x="519.1" y="520.6" font-size="8.3" fill="#231815" stroke="#231815" stroke-width="0.18">3.3e-12</text>
<text x="567.8" y="520.6" font-size="8.3" fill="#231815" stroke="#231815" stroke-width="0.18">5.7e-10</text>
<path d="M353.52,518.8v1.6M384.00,518.8v1.6M378.25,518.8v1.6M355.52,518.8v1.6M360.86,518.8v1.6M360.67,518.8v1.6M356.63,518.8v1.6M362.50,518.8v1.6M363.13,518.8v1.6M380.61,518.8v1.6M372.92,518.8v1.6M382.54,518.8v1.6M364.61,518.8v1.6M364.79,518.8v1.6M372.25,518.8v1.6M369.26,518.8v1.6M369.89,518.8v1.6M358.93,518.8v1.6M382.97,518.8v1.6M383.55,518.8v1.6M355.23,518.8v1.6M354.09,518.8v1.6M369.41,518.8v1.6M368.11,518.8v1.6M381.25,518.8v1.6M356.45,518.8v1.6M357.26,518.8v1.6M353.96,518.8v1.6M353.09,518.8v1.6M354.44,518.8v1.6M374.05,518.8v1.6M369.75,518.8v1.6M365.78,518.8v1.6M358.79,518.8v1.6M368.54,518.8v1.6M357.32,518.8v1.6M360.23,518.8v1.6M364.55,518.8v1.6M377.64,518.8v1.6M374.44,518.8v1.6M358.37,518.8v1.6M353.35,518.8v1.6M359.19,518.8v1.6M383.60,518.8v1.6M379.21,518.8v1.6M355.15,518.8v1.6M354.76,518.8v1.6M381.25,518.8v1.6M375.57,518.8v1.6M372.41,518.8v1.6M358.32,518.8v1.6M359.51,518.8v1.6M376.49,518.8v1.6M372.48,518.8v1.6M375.69,518.8v1.6M355.57,518.8v1.6M371.65,518.8v1.6M356.87,518.8v1.6M373.72,518.8v1.6M360.40,518.8v1.6M376.80,518.8v1.6M357.18,518.8v1.6M353.91,518.8v1.6M379.44,518.8v1.6M358.23,518.8v1.6M362.87,518.8v1.6M356.20,518.8v1.6M361.01,518.8v1.6M369.40,518.8v1.6M374.23,518.8v1.6M377.02,518.8v1.6M363.45,518.8v1.6M357.23,518.8v1.6M359.04,518.8v1.6M375.25,518.8v1.6M353.09,518.8v1.6M362.43,518.8v1.6M362.28,518.8v1.6" stroke="#000" stroke-opacity="0.65" stroke-width="0.3" fill="none"/>
<path d="M459.69,518.8v1.6M449.10,518.8v1.6M432.01,518.8v1.6M418.56,518.8v1.6M470.76,518.8v1.6M471.15,518.8v1.6M436.05,518.8v1.6M471.74,518.8v1.6M470.89,518.8v1.6M450.40,518.8v1.6M400.79,518.8v1.6M449.82,518.8v1.6M401.49,518.8v1.6M456.62,518.8v1.6M453.27,518.8v1.6M460.83,518.8v1.6M399.90,518.8v1.6M388.10,518.8v1.6M439.22,518.8v1.6M460.97,518.8v1.6M439.72,518.8v1.6M443.01,518.8v1.6M463.60,518.8v1.6M441.55,518.8v1.6M442.41,518.8v1.6M426.14,518.8v1.6M455.66,518.8v1.6M424.10,518.8v1.6M461.88,518.8v1.6M399.61,518.8v1.6M432.63,518.8v1.6M453.09,518.8v1.6M433.64,518.8v1.6M468.34,518.8v1.6M439.64,518.8v1.6M389.23,518.8v1.6M402.25,518.8v1.6M421.79,518.8v1.6M454.90,518.8v1.6M417.90,518.8v1.6M472.91,518.8v1.6M441.99,518.8v1.6M443.09,518.8v1.6M447.71,518.8v1.6M444.96,518.8v1.6M434.31,518.8v1.6M432.10,518.8v1.6M403.36,518.8v1.6M435.85,518.8v1.6M439.64,518.8v1.6M436.29,518.8v1.6" stroke="#000" stroke-opacity="0.5" stroke-width="0.3" fill="none"/>
<text x="345.8" y="529.0" font-size="8.37" text-anchor="end" fill="#231815" stroke="#231815" stroke-width="0.18">Mitotic Anaphase</text>
<text x="504.2" y="529.6" font-size="8.3" text-anchor="end" fill="#231815" stroke="#231815" stroke-width="0.18">2.05</text>
<text x="519.1" y="529.6" font-size="8.3" fill="#231815" stroke="#231815" stroke-width="0.18">5.1e-12</text>
<text x="567.8" y="529.6" font-size="8.3" fill="#231815" stroke="#231815" stroke-width="0.18">7.6e-10</text>
<path d="M357.31,527.8v1.6M382.96,527.8v1.6M370.60,527.8v1.6M355.33,527.8v1.6M356.11,527.8v1.6M355.39,527.8v1.6M361.95,527.8v1.6M365.91,527.8v1.6M366.74,527.8v1.6M355.09,527.8v1.6M366.13,527.8v1.6M354.51,527.8v1.6M367.83,527.8v1.6M361.49,527.8v1.6M353.53,527.8v1.6M381.48,527.8v1.6M361.93,527.8v1.6M366.43,527.8v1.6M381.29,527.8v1.6M374.93,527.8v1.6M356.57,527.8v1.6M383.17,527.8v1.6M373.89,527.8v1.6M369.78,527.8v1.6M369.75,527.8v1.6M358.11,527.8v1.6M358.38,527.8v1.6M382.76,527.8v1.6M355.47,527.8v1.6M367.25,527.8v1.6M376.96,527.8v1.6M377.93,527.8v1.6M370.18,527.8v1.6M360.26,527.8v1.6M358.01,527.8v1.6M373.22,527.8v1.6M360.63,527.8v1.6M355.06,527.8v1.6M360.37,527.8v1.6M380.89,527.8v1.6M360.06,527.8v1.6M370.26,527.8v1.6M359.31,527.8v1.6M357.76,527.8v1.6M370.79,527.8v1.6M381.36,527.8v1.6M363.12,527.8v1.6M381.92,527.8v1.6M362.85,527.8v1.6M374.01,527.8v1.6M363.73,527.8v1.6M361.68,527.8v1.6M356.12,527.8v1.6M365.64,527.8v1.6M378.32,527.8v1.6M359.19,527.8v1.6M360.96,527.8v1.6M357.84,527.8v1.6M383.20,527.8v1.6M357.80,527.8v1.6M364.07,527.8v1.6M383.54,527.8v1.6M368.82,527.8v1.6M357.30,527.8v1.6M367.96,527.8v1.6M353.43,527.8v1.6M358.65,527.8v1.6M355.94,527.8v1.6M383.05,527.8v1.6M377.34,527.8v1.6M366.04,527.8v1.6M356.05,527.8v1.6M365.30,527.8v1.6M375.70,527.8v1.6M366.06,527.8v1.6M353.85,527.8v1.6M378.14,527.8v1.6M376.07,527.8v1.6M364.91,527.8v1.6M377.10,527.8v1.6M374.83,527.8v1.6M379.08,527.8v1.6M355.03,527.8v1.6M380.09,527.8v1.6M357.68,527.8v1.6M372.92,527.8v1.6M368.29,527.8v1.6M371.05,527.8v1.6M358.27,527.8v1.6M356.14,527.8v1.6M372.92,527.8v1.6M358.50,527.8v1.6M361.66,527.8v1.6M363.85,527.8v1.6M377.12,527.8v1.6M372.07,527.8v1.6M357.51,527.8v1.6M353.75,527.8v1.6M353.18,527.8v1.6M380.82,527.8v1.6M380.75,527.8v1.6M358.42,527.8v1.6M357.18,527.8v1.6M353.43,527.8v1.6M364.57,527.8v1.6M383.53,527.8v1.6M356.50,527.8v1.6M363.79,527.8v1.6M378.72,527.8v1.6M355.04,527.8v1.6M375.48,527.8v1.6M358.16,527.8v1.6M354.92,527.8v1.6M362.55,527.8v1.6M358.86,527.8v1.6M376.67,527.8v1.6M382.96,527.8v1.6M352.90,527.8v1.6M358.40,527.8v1.6M353.06,527.8v1.6M377.86,527.8v1.6M354.81,527.8v1.6M381.61,527.8v1.6M359.43,527.8v1.6M367.78,527.8v1.6M352.64,527.8v1.6M371.77,527.8v1.6M373.23,527.8v1.6M355.27,527.8v1.6M371.45,527.8v1.6M364.43,527.8v1.6M361.83,527.8v1.6M361.11,527.8v1.6M353.66,527.8v1.6M361.95,527.8v1.6M377.46,527.8v1.6M353.15,527.8v1.6M364.78,527.8v1.6M356.99,527.8v1.6M359.62,527.8v1.6M378.11,527.8v1.6M376.73,527.8v1.6M384.08,527.8v1.6M382.76,527.8v1.6M353.48,527.8v1.6M353.10,527.8v1.6M352.76,527.8v1.6M352.65,527.8v1.6M365.42,527.8v1.6M365.36,527.8v1.6M361.30,527.8v1.6M375.88,527.8v1.6M353.25,527.8v1.6M353.87,527.8v1.6M360.94,527.8v1.6M364.48,527.8v1.6M367.86,527.8v1.6M368.54,527.8v1.6M358.08,527.8v1.6M378.32,527.8v1.6M376.08,527.8v1.6M355.59,527.8v1.6M369.32,527.8v1.6M352.54,527.8v1.6M355.27,527.8v1.6M380.65,527.8v1.6M376.86,527.8v1.6M354.03,527.8v1.6M364.73,527.8v1.6M382.36,527.8v1.6M377.07,527.8v1.6M368.82,527.8v1.6M362.77,527.8v1.6M363.98,527.8v1.6M353.37,527.8v1.6M357.58,527.8v1.6M362.47,527.8v1.6M356.75,527.8v1.6M359.31,527.8v1.6M358.26,527.8v1.6" stroke="#000" stroke-opacity="0.65" stroke-width="0.3" fill="none"/>
<path d="M386.62,527.8v1.6M442.53,527.8v1.6M397.39,527.8v1.6M438.95,527.8v1.6M437.64,527.8v1.6M460.78,527.8v1.6M432.65,527.8v1.6M471.85,527.8v1.6M468.32,527.8v1.6M440.46,527.8v1.6M443.40,527.8v1.6M427.26,527.8v1.6M433.66,527.8v1.6M431.93,527.8v1.6M427.67,527.8v1.6M471.72,527.8v1.6M405.87,527.8v1.6M407.81,527.8v1.6M437.51,527.8v1.6M462.79,527.8v1.6M437.87,527.8v1.6M472.23,527.8v1.6M420.99,527.8v1.6M461.71,527.8v1.6M462.92,527.8v1.6M388.91,527.8v1.6M390.19,527.8v1.6M466.27,527.8v1.6M431.08,527.8v1.6M472.39,527.8v1.6M466.34,527.8v1.6M397.39,527.8v1.6M460.87,527.8v1.6M438.80,527.8v1.6M461.38,527.8v1.6M467.85,527.8v1.6M431.51,527.8v1.6M429.05,527.8v1.6M418.77,527.8v1.6M430.07,527.8v1.6M434.42,527.8v1.6M421.57,527.8v1.6M448.72,527.8v1.6M386.87,527.8v1.6M384.57,527.8v1.6M446.68,527.8v1.6M445.49,527.8v1.6M408.64,527.8v1.6M435.07,527.8v1.6M456.97,527.8v1.6M416.22,527.8v1.6M429.95,527.8v1.6M455.65,527.8v1.6M459.92,527.8v1.6M446.83,527.8v1.6M451.63,527.8v1.6M402.29,527.8v1.6M460.24,527.8v1.6M434.97,527.8v1.6M462.80,527.8v1.6M462.53,527.8v1.6M448.05,527.8v1.6M427.14,527.8v1.6M451.30,527.8v1.6M438.94,527.8v1.6M449.76,527.8v1.6M418.84,527.8v1.6M432.92,527.8v1.6M452.60,527.8v1.6M439.56,527.8v1.6M445.93,527.8v1.6M436.34,527.8v1.6M441.90,527.8v1.6M457.40,527.8v1.6M472.53,527.8v1.6M445.12,527.8v1.6M404.81,527.8v1.6M462.95,527.8v1.6M394.17,527.8v1.6M431.23,527.8v1.6M402.94,527.8v1.6M434.16,527.8v1.6M417.12,527.8v1.6M438.97,527.8v1.6M407.34,527.8v1.6M474.37,527.8v1.6" stroke="#000" stroke-opacity="0.5" stroke-width="0.3" fill="none"/>
<text x="345.8" y="538.9" font-size="8.37" text-anchor="end" fill="#231815" stroke="#231815" stroke-width="0.18">DNA Repair</text>
<text x="504.2" y="539.2" font-size="8.3" text-anchor="end" fill="#231815" stroke="#231815" stroke-width="0.18">1.94</text>
<text x="519.1" y="539.2" font-size="8.3" fill="#231815" stroke="#231815" stroke-width="0.18">3.5e-11</text>
<text x="567.8" y="539.2" font-size="8.3" fill="#231815" stroke="#231815" stroke-width="0.18">4.7e-09</text>
<path d="M379.64,537.4v1.6M364.00,537.4v1.6M365.08,537.4v1.6M355.12,537.4v1.6M363.83,537.4v1.6M364.90,537.4v1.6M353.90,537.4v1.6M352.52,537.4v1.6M368.17,537.4v1.6M375.23,537.4v1.6M362.69,537.4v1.6M355.04,537.4v1.6M354.82,537.4v1.6M372.08,537.4v1.6M372.67,537.4v1.6M366.90,537.4v1.6M360.36,537.4v1.6M381.45,537.4v1.6M368.13,537.4v1.6M360.75,537.4v1.6M375.86,537.4v1.6M366.86,537.4v1.6M355.83,537.4v1.6M356.24,537.4v1.6M353.16,537.4v1.6M383.95,537.4v1.6M370.33,537.4v1.6M369.30,537.4v1.6M354.98,537.4v1.6M352.71,537.4v1.6M354.16,537.4v1.6M379.95,537.4v1.6M364.24,537.4v1.6M377.92,537.4v1.6M363.11,537.4v1.6M353.38,537.4v1.6M379.84,537.4v1.6M354.37,537.4v1.6M353.09,537.4v1.6M366.14,537.4v1.6M356.63,537.4v1.6M370.87,537.4v1.6M380.85,537.4v1.6M358.67,537.4v1.6M353.40,537.4v1.6M359.16,537.4v1.6M368.74,537.4v1.6M369.57,537.4v1.6M360.84,537.4v1.6M374.14,537.4v1.6M380.08,537.4v1.6M381.36,537.4v1.6M352.59,537.4v1.6M356.73,537.4v1.6M379.55,537.4v1.6M358.20,537.4v1.6M360.99,537.4v1.6M354.47,537.4v1.6M363.74,537.4v1.6M368.42,537.4v1.6M367.35,537.4v1.6M360.02,537.4v1.6M378.20,537.4v1.6M362.72,537.4v1.6M357.14,537.4v1.6M379.43,537.4v1.6M352.55,537.4v1.6M358.88,537.4v1.6M356.46,537.4v1.6M361.57,537.4v1.6M363.79,537.4v1.6M359.43,537.4v1.6M355.63,537.4v1.6M372.16,537.4v1.6M366.89,537.4v1.6M360.71,537.4v1.6M353.93,537.4v1.6M369.82,537.4v1.6M383.29,537.4v1.6M370.74,537.4v1.6M352.66,537.4v1.6M356.76,537.4v1.6M366.89,537.4v1.6M382.38,537.4v1.6M354.81,537.4v1.6M380.36,537.4v1.6M358.00,537.4v1.6M380.44,537.4v1.6M360.09,537.4v1.6M374.51,537.4v1.6M359.28,537.4v1.6M369.46,537.4v1.6M355.45,537.4v1.6M361.31,537.4v1.6M374.59,537.4v1.6M374.86,537.4v1.6M358.92,537.4v1.6M355.91,537.4v1.6M377.11,537.4v1.6M377.93,537.4v1.6M354.45,537.4v1.6M353.16,537.4v1.6M381.11,537.4v1.6M353.72,537.4v1.6M356.62,537.4v1.6M370.81,537.4v1.6M362.23,537.4v1.6M381.36,537.4v1.6M355.98,537.4v1.6M369.32,537.4v1.6M357.18,537.4v1.6M354.49,537.4v1.6M383.71,537.4v1.6M355.76,537.4v1.6M378.12,537.4v1.6M354.60,537.4v1.6M360.01,537.4v1.6M359.08,537.4v1.6M359.35,537.4v1.6M352.53,537.4v1.6M372.93,537.4v1.6M360.13,537.4v1.6M357.20,537.4v1.6M368.47,537.4v1.6M359.50,537.4v1.6M375.42,537.4v1.6M376.12,537.4v1.6M360.62,537.4v1.6M363.37,537.4v1.6M375.74,537.4v1.6M379.26,537.4v1.6M368.90,537.4v1.6M367.14,537.4v1.6M376.61,537.4v1.6M365.27,537.4v1.6M366.17,537.4v1.6M382.54,537.4v1.6M357.31,537.4v1.6M357.80,537.4v1.6M357.64,537.4v1.6M367.05,537.4v1.6M374.72,537.4v1.6M364.32,537.4v1.6M358.02,537.4v1.6M369.27,537.4v1.6M352.88,537.4v1.6M356.01,537.4v1.6M373.72,537.4v1.6M370.21,537.4v1.6M355.00,537.4v1.6M372.15,537.4v1.6M368.66,537.4v1.6M355.28,537.4v1.6M361.11,537.4v1.6M355.18,537.4v1.6M354.74,537.4v1.6M353.98,537.4v1.6M371.74,537.4v1.6M377.13,537.4v1.6M375.94,537.4v1.6M383.11,537.4v1.6M379.58,537.4v1.6M364.58,537.4v1.6M357.25,537.4v1.6M363.07,537.4v1.6M372.80,537.4v1.6M375.32,537.4v1.6M377.17,537.4v1.6M378.23,537.4v1.6M365.75,537.4v1.6M355.80,537.4v1.6M352.78,537.4v1.6M375.11,537.4v1.6M365.42,537.4v1.6M354.43,537.4v1.6M375.18,537.4v1.6M355.29,537.4v1.6M371.47,537.4v1.6M364.01,537.4v1.6M358.08,537.4v1.6M357.14,537.4v1.6M366.87,537.4v1.6M358.47,537.4v1.6M363.68,537.4v1.6M373.76,537.4v1.6M376.24,537.4v1.6M361.63,537.4v1.6M356.47,537.4v1.6M364.70,537.4v1.6M369.07,537.4v1.6M357.77,537.4v1.6M378.77,537.4v1.6M357.53,537.4v1.6M377.05,537.4v1.6M374.00,537.4v1.6M352.74,537.4v1.6M373.07,537.4v1.6M368.27,537.4v1.6M360.62,537.4v1.6M380.21,537.4v1.6M359.50,537.4v1.6M352.59,537.4v1.6M357.12,537.4v1.6M353.83,537.4v1.6M362.41,537.4v1.6M376.12,537.4v1.6" stroke="#000" stroke-opacity="0.65" stroke-width="0.3" fill="none"/>
<path d="M454.53,537.4v1.6M455.25,537.4v1.6M460.60,537.4v1.6M438.08,537.4v1.6M400.36,537.4v1.6M462.73,537.4v1.6M427.87,537.4v1.6M432.91,537.4v1.6M437.84,537.4v1.6M463.09,537.4v1.6M457.64,537.4v1.6M473.97,537.4v1.6M472.14,537.4v1.6M459.96,537.4v1.6M397.16,537.4v1.6M460.80,537.4v1.6M450.44,537.4v1.6M463.51,537.4v1.6M418.66,537.4v1.6M470.16,537.4v1.6M471.28,537.4v1.6M441.19,537.4v1.6M402.82,537.4v1.6M469.29,537.4v1.6M444.20,537.4v1.6M450.15,537.4v1.6M431.41,537.4v1.6M472.91,537.4v1.6M474.50,537.4v1.6M391.28,537.4v1.6M468.64,537.4v1.6M403.04,537.4v1.6M442.14,537.4v1.6M407.35,537.4v1.6M466.63,537.4v1.6M428.32,537.4v1.6M457.23,537.4v1.6M447.67,537.4v1.6M468.90,537.4v1.6M468.80,537.4v1.6M465.62,537.4v1.6M457.35,537.4v1.6M460.08,537.4v1.6M460.05,537.4v1.6M390.66,537.4v1.6M427.52,537.4v1.6M442.13,537.4v1.6M405.08,537.4v1.6M431.48,537.4v1.6M433.59,537.4v1.6M436.76,537.4v1.6M433.14,537.4v1.6M386.18,537.4v1.6M424.65,537.4v1.6M468.37,537.4v1.6M467.09,537.4v1.6M470.73,537.4v1.6M393.88,537.4v1.6M456.76,537.4v1.6M471.11,537.4v1.6M450.10,537.4v1.6M472.92,537.4v1.6M456.79,537.4v1.6M465.85,537.4v1.6M474.00,537.4v1.6M469.38,537.4v1.6M449.12,537.4v1.6M466.59,537.4v1.6M421.07,537.4v1.6M439.40,537.4v1.6M396.38,537.4v1.6M440.31,537.4v1.6M464.22,537.4v1.6M393.51,537.4v1.6M430.75,537.4v1.6M430.12,537.4v1.6M468.97,537.4v1.6M459.15,537.4v1.6M435.79,537.4v1.6M403.87,537.4v1.6M464.71,537.4v1.6M443.66,537.4v1.6M465.03,537.4v1.6M471.80,537.4v1.6M399.56,537.4v1.6M448.18,537.4v1.6M391.24,537.4v1.6M471.25,537.4v1.6M398.30,537.4v1.6M462.17,537.4v1.6M421.22,537.4v1.6M444.83,537.4v1.6M451.34,537.4v1.6M471.76,537.4v1.6M439.42,537.4v1.6M436.64,537.4v1.6M448.94,537.4v1.6M450.93,537.4v1.6M473.99,537.4v1.6M440.01,537.4v1.6M385.87,537.4v1.6M423.08,537.4v1.6M431.79,537.4v1.6M421.95,537.4v1.6M415.94,537.4v1.6M472.78,537.4v1.6M472.29,537.4v1.6M466.64,537.4v1.6M473.51,537.4v1.6M460.95,537.4v1.6M447.35,537.4v1.6M465.06,537.4v1.6M429.03,537.4v1.6M442.27,537.4v1.6M437.60,537.4v1.6M466.79,537.4v1.6M422.21,537.4v1.6M443.91,537.4v1.6M399.56,537.4v1.6" stroke="#000" stroke-opacity="0.5" stroke-width="0.3" fill="none"/>
<text x="345.8" y="550.0" font-size="8.37" text-anchor="end" fill="#231815" stroke="#231815" stroke-width="0.18">Amplification of signal from unattached kinetochores via a MAD2 inhibitory signal</text>
<text x="504.2" y="550.2" font-size="8.3" text-anchor="end" fill="#231815" stroke="#231815" stroke-width="0.18">2.20</text>
<text x="519.1" y="550.2" font-size="8.3" fill="#231815" stroke="#231815" stroke-width="0.18">4.5e-11</text>
<text x="567.8" y="550.2" font-size="8.3" fill="#231815" stroke="#231815" stroke-width="0.18">4.9e-09</text>
<path d="M377.65,548.4v1.6M356.79,548.4v1.6M362.68,548.4v1.6M353.35,548.4v1.6M354.27,548.4v1.6M367.32,548.4v1.6M378.21,548.4v1.6M355.92,548.4v1.6M353.46,548.4v1.6M366.97,548.4v1.6M353.43,548.4v1.6M373.21,548.4v1.6M358.47,548.4v1.6M367.76,548.4v1.6M378.40,548.4v1.6M377.93,548.4v1.6M378.21,548.4v1.6M359.07,548.4v1.6M363.76,548.4v1.6M358.27,548.4v1.6M360.77,548.4v1.6M372.72,548.4v1.6M354.60,548.4v1.6M383.88,548.4v1.6M353.85,548.4v1.6M355.46,548.4v1.6M367.89,548.4v1.6M361.48,548.4v1.6M372.90,548.4v1.6M377.21,548.4v1.6M382.86,548.4v1.6M358.67,548.4v1.6M379.80,548.4v1.6M356.57,548.4v1.6M361.90,548.4v1.6M374.48,548.4v1.6M366.03,548.4v1.6M358.17,548.4v1.6M370.02,548.4v1.6M365.31,548.4v1.6M378.42,548.4v1.6M379.50,548.4v1.6M356.22,548.4v1.6M373.38,548.4v1.6M355.80,548.4v1.6M375.94,548.4v1.6M371.76,548.4v1.6M355.27,548.4v1.6M353.98,548.4v1.6M365.35,548.4v1.6M372.04,548.4v1.6M358.94,548.4v1.6M354.41,548.4v1.6M373.27,548.4v1.6M380.17,548.4v1.6M367.43,548.4v1.6M353.97,548.4v1.6M375.52,548.4v1.6M361.86,548.4v1.6M376.50,548.4v1.6" stroke="#000" stroke-opacity="0.65" stroke-width="0.3" fill="none"/>
<path d="M417.08,548.4v1.6M395.21,548.4v1.6M443.51,548.4v1.6M401.25,548.4v1.6M388.72,548.4v1.6M420.64,548.4v1.6M426.83,548.4v1.6M462.42,548.4v1.6M416.75,548.4v1.6M457.31,548.4v1.6M387.03,548.4v1.6M401.67,548.4v1.6M385.76,548.4v1.6M465.18,548.4v1.6M404.21,548.4v1.6M419.30,548.4v1.6M421.96,548.4v1.6M388.08,548.4v1.6M397.21,548.4v1.6M438.54,548.4v1.6M447.59,548.4v1.6M433.56,548.4v1.6M463.59,548.4v1.6M404.47,548.4v1.6M461.05,548.4v1.6M432.84,548.4v1.6M462.13,548.4v1.6M450.70,548.4v1.6M471.75,548.4v1.6M387.03,548.4v1.6M453.64,548.4v1.6M405.17,548.4v1.6M470.49,548.4v1.6M441.32,548.4v1.6M466.93,548.4v1.6M395.65,548.4v1.6" stroke="#000" stroke-opacity="0.5" stroke-width="0.3" fill="none"/>
<text x="345.8" y="560.5" font-size="8.37" text-anchor="end" fill="#231815" stroke="#231815" stroke-width="0.18">SRP-dependent cotranslational protein targeting to membrane</text>
<text x="504.2" y="560.8" font-size="8.3" text-anchor="end" fill="#231815" stroke="#231815" stroke-width="0.18">-1.92</text>
<text x="519.1" y="560.8" font-size="8.3" fill="#231815" stroke="#231815" stroke-width="0.18">4.2e-06</text>
<text x="567.8" y="560.8" font-size="8.3" fill="#231815" stroke="#231815" stroke-width="0.18">8.5e-05</text>
<path d="M449.46,559.0v1.6M447.16,559.0v1.6M460.92,559.0v1.6M464.14,559.0v1.6M450.78,559.0v1.6M456.73,559.0v1.6M448.45,559.0v1.6M440.32,559.0v1.6M436.62,559.0v1.6M462.89,559.0v1.6M427.02,559.0v1.6M454.10,559.0v1.6M444.43,559.0v1.6M447.79,559.0v1.6M458.26,559.0v1.6M459.85,559.0v1.6M465.56,559.0v1.6M436.07,559.0v1.6M449.54,559.0v1.6M461.83,559.0v1.6M460.67,559.0v1.6M443.49,559.0v1.6M453.35,559.0v1.6M470.86,559.0v1.6M453.41,559.0v1.6M459.01,559.0v1.6M465.53,559.0v1.6M447.80,559.0v1.6M462.64,559.0v1.6M362.13,559.0v1.6M465.27,559.0v1.6M448.96,559.0v1.6M425.71,559.0v1.6M462.94,559.0v1.6M468.15,559.0v1.6M444.51,559.0v1.6M471.46,559.0v1.6M432.78,559.0v1.6M425.77,559.0v1.6M458.81,559.0v1.6M462.43,559.0v1.6M465.37,559.0v1.6M444.46,559.0v1.6M446.27,559.0v1.6M451.89,559.0v1.6M456.88,559.0v1.6M457.93,559.0v1.6M443.30,559.0v1.6M445.79,559.0v1.6M439.79,559.0v1.6M451.60,559.0v1.6M453.94,559.0v1.6M444.01,559.0v1.6M457.84,559.0v1.6M455.70,559.0v1.6M432.84,559.0v1.6M370.47,559.0v1.6M453.06,559.0v1.6M435.52,559.0v1.6M467.79,559.0v1.6M430.16,559.0v1.6M452.42,559.0v1.6M415.69,559.0v1.6M456.64,559.0v1.6M389.30,559.0v1.6M451.43,559.0v1.6M423.83,559.0v1.6M466.40,559.0v1.6M469.79,559.0v1.6M452.64,559.0v1.6M455.87,559.0v1.6M447.24,559.0v1.6M370.81,559.0v1.6M429.96,559.0v1.6M409.07,559.0v1.6M473.97,559.0v1.6M404.28,559.0v1.6M448.90,559.0v1.6M432.46,559.0v1.6M452.07,559.0v1.6M471.63,559.0v1.6M455.91,559.0v1.6M460.78,559.0v1.6M442.59,559.0v1.6M374.07,559.0v1.6M443.91,559.0v1.6M450.99,559.0v1.6M446.95,559.0v1.6M451.25,559.0v1.6M461.68,559.0v1.6M456.47,559.0v1.6M429.51,559.0v1.6M454.68,559.0v1.6M462.96,559.0v1.6M442.95,559.0v1.6M411.76,559.0v1.6M372.11,559.0v1.6M453.57,559.0v1.6M413.33,559.0v1.6M462.44,559.0v1.6" stroke="#000" stroke-opacity="0.55" stroke-width="0.3" fill="none"/>
<text x="345.8" y="569.9" font-size="8.37" text-anchor="end" fill="#231815" stroke="#231815" stroke-width="0.18">Response of EIF2AK4(GCN2) to amino acid deficiency</text>
<text x="504.2" y="570.4" font-size="8.3" text-anchor="end" fill="#231815" stroke="#231815" stroke-width="0.18">-2.00</text>
<text x="519.1" y="570.4" font-size="8.3" fill="#231815" stroke="#231815" stroke-width="0.18">3.4e-06</text>
<text x="567.8" y="570.4" font-size="8.3" fill="#231815" stroke="#231815" stroke-width="0.18">7.3e-05</text>
<path d="M461.02,568.6v1.6M401.15,568.6v1.6M431.70,568.6v1.6M444.32,568.6v1.6M469.17,568.6v1.6M442.98,568.6v1.6M471.74,568.6v1.6M435.60,568.6v1.6M445.27,568.6v1.6M450.23,568.6v1.6M454.89,568.6v1.6M449.05,568.6v1.6M462.34,568.6v1.6M403.93,568.6v1.6M372.87,568.6v1.6M445.99,568.6v1.6M454.77,568.6v1.6M460.12,568.6v1.6M439.90,568.6v1.6M450.91,568.6v1.6M462.99,568.6v1.6M400.76,568.6v1.6M405.99,568.6v1.6M435.71,568.6v1.6M450.59,568.6v1.6M444.85,568.6v1.6M461.58,568.6v1.6M456.74,568.6v1.6M459.14,568.6v1.6M445.36,568.6v1.6M455.97,568.6v1.6M458.56,568.6v1.6M457.03,568.6v1.6M473.32,568.6v1.6M435.25,568.6v1.6M443.65,568.6v1.6M452.81,568.6v1.6M417.13,568.6v1.6M467.61,568.6v1.6M434.78,568.6v1.6M448.47,568.6v1.6M402.28,568.6v1.6M446.61,568.6v1.6M415.68,568.6v1.6M454.75,568.6v1.6M429.17,568.6v1.6M381.47,568.6v1.6M457.40,568.6v1.6M457.55,568.6v1.6M360.73,568.6v1.6M451.51,568.6v1.6M457.55,568.6v1.6M452.49,568.6v1.6M423.70,568.6v1.6M454.42,568.6v1.6M466.25,568.6v1.6M465.40,568.6v1.6M460.64,568.6v1.6M461.44,568.6v1.6M452.66,568.6v1.6M423.22,568.6v1.6M417.78,568.6v1.6M473.69,568.6v1.6M474.90,568.6v1.6M447.27,568.6v1.6M462.10,568.6v1.6M447.32,568.6v1.6M447.08,568.6v1.6M458.00,568.6v1.6M433.16,568.6v1.6M439.20,568.6v1.6M474.78,568.6v1.6M452.69,568.6v1.6M466.64,568.6v1.6M459.91,568.6v1.6M462.92,568.6v1.6M428.58,568.6v1.6M455.64,568.6v1.6M443.21,568.6v1.6M462.00,568.6v1.6M458.21,568.6v1.6M419.89,568.6v1.6M448.55,568.6v1.6M468.93,568.6v1.6M471.67,568.6v1.6M451.58,568.6v1.6M455.72,568.6v1.6M446.98,568.6v1.6M462.91,568.6v1.6M456.06,568.6v1.6M362.55,568.6v1.6M443.44,568.6v1.6M461.76,568.6v1.6M443.21,568.6v1.6M429.10,568.6v1.6M454.79,568.6v1.6M444.28,568.6v1.6M416.74,568.6v1.6M453.47,568.6v1.6M473.66,568.6v1.6" stroke="#000" stroke-opacity="0.55" stroke-width="0.3" fill="none"/>
<text x="345.8" y="580.6" font-size="8.37" text-anchor="end" fill="#231815" stroke="#231815" stroke-width="0.18">Nonsense Mediated Decay (NMD) independent of the Exon Junction Complex (EJC)</text>
<text x="504.2" y="580.7" font-size="8.3" text-anchor="end" fill="#231815" stroke="#231815" stroke-width="0.18">-1.96</text>
<text x="519.1" y="580.7" font-size="8.3" fill="#231815" stroke="#231815" stroke-width="0.18">2.3e-06</text>
<text x="567.8" y="580.7" font-size="8.3" fill="#231815" stroke="#231815" stroke-width="0.18">5.3e-05</text>
<path d="M451.23,578.9v1.6M457.43,578.9v1.6M453.72,578.9v1.6M447.74,578.9v1.6M465.81,578.9v1.6M422.38,578.9v1.6M455.06,578.9v1.6M444.78,578.9v1.6M459.65,578.9v1.6M444.62,578.9v1.6M448.88,578.9v1.6M460.59,578.9v1.6M448.20,578.9v1.6M443.45,578.9v1.6M426.96,578.9v1.6M456.18,578.9v1.6M448.10,578.9v1.6M468.21,578.9v1.6M467.75,578.9v1.6M456.92,578.9v1.6M453.66,578.9v1.6M467.14,578.9v1.6M453.98,578.9v1.6M452.28,578.9v1.6M438.36,578.9v1.6M450.34,578.9v1.6M452.17,578.9v1.6M450.84,578.9v1.6M446.28,578.9v1.6M369.02,578.9v1.6M414.87,578.9v1.6M457.90,578.9v1.6M462.43,578.9v1.6M451.80,578.9v1.6M442.63,578.9v1.6M406.97,578.9v1.6M419.22,578.9v1.6M474.78,578.9v1.6M427.42,578.9v1.6M458.22,578.9v1.6M470.04,578.9v1.6M444.87,578.9v1.6M445.81,578.9v1.6M379.81,578.9v1.6M446.02,578.9v1.6M473.91,578.9v1.6M416.87,578.9v1.6M418.94,578.9v1.6M466.22,578.9v1.6M431.58,578.9v1.6M457.77,578.9v1.6M420.57,578.9v1.6M417.24,578.9v1.6M452.61,578.9v1.6M449.89,578.9v1.6M419.20,578.9v1.6M458.21,578.9v1.6M447.43,578.9v1.6M456.33,578.9v1.6M446.39,578.9v1.6M450.88,578.9v1.6M426.09,578.9v1.6M461.83,578.9v1.6M461.14,578.9v1.6M470.49,578.9v1.6M444.20,578.9v1.6M456.60,578.9v1.6M458.15,578.9v1.6M474.09,578.9v1.6M449.54,578.9v1.6M461.79,578.9v1.6M448.43,578.9v1.6M444.20,578.9v1.6M471.58,578.9v1.6M422.10,578.9v1.6M444.70,578.9v1.6M440.59,578.9v1.6M443.99,578.9v1.6M461.93,578.9v1.6M447.04,578.9v1.6M419.86,578.9v1.6M474.88,578.9v1.6M462.34,578.9v1.6M459.90,578.9v1.6M454.71,578.9v1.6M473.43,578.9v1.6M451.92,578.9v1.6M448.07,578.9v1.6M457.24,578.9v1.6M426.92,578.9v1.6M424.17,578.9v1.6M458.11,578.9v1.6M473.46,578.9v1.6M454.88,578.9v1.6M454.80,578.9v1.6M455.54,578.9v1.6M458.70,578.9v1.6M461.14,578.9v1.6M450.55,578.9v1.6M436.51,578.9v1.6" stroke="#000" stroke-opacity="0.55" stroke-width="0.3" fill="none"/>
<text x="345.8" y="589.8" font-size="8.37" text-anchor="end" fill="#231815" stroke="#231815" stroke-width="0.18">L13a-mediated translational silencing of Ceruloplasmin expression</text>
<text x="504.2" y="590.8" font-size="8.3" text-anchor="end" fill="#231815" stroke="#231815" stroke-width="0.18">-1.99</text>
<text x="519.1" y="590.8" font-size="8.3" fill="#231815" stroke="#231815" stroke-width="0.18">1.4e-06</text>
<text x="567.8" y="590.8" font-size="8.3" fill="#231815" stroke="#231815" stroke-width="0.18">3.6e-05</text>
<path d="M448.03,589.0v1.6M454.02,589.0v1.6M432.55,589.0v1.6M427.85,589.0v1.6M474.03,589.0v1.6M439.31,589.0v1.6M457.74,589.0v1.6M421.83,589.0v1.6M460.76,589.0v1.6M443.35,589.0v1.6M454.56,589.0v1.6M428.57,589.0v1.6M462.81,589.0v1.6M448.25,589.0v1.6M460.82,589.0v1.6M417.90,589.0v1.6M458.42,589.0v1.6M444.60,589.0v1.6M432.58,589.0v1.6M453.66,589.0v1.6M444.59,589.0v1.6M454.78,589.0v1.6M456.33,589.0v1.6M454.13,589.0v1.6M416.51,589.0v1.6M457.13,589.0v1.6M442.73,589.0v1.6M463.05,589.0v1.6M459.74,589.0v1.6M429.39,589.0v1.6M428.42,589.0v1.6M471.54,589.0v1.6M406.73,589.0v1.6M432.53,589.0v1.6M437.93,589.0v1.6M446.26,589.0v1.6M465.34,589.0v1.6M474.66,589.0v1.6M445.09,589.0v1.6M448.19,589.0v1.6M462.99,589.0v1.6M453.44,589.0v1.6M443.87,589.0v1.6M446.46,589.0v1.6M413.54,589.0v1.6M456.00,589.0v1.6M443.54,589.0v1.6M461.47,589.0v1.6M463.13,589.0v1.6M471.18,589.0v1.6M454.85,589.0v1.6M452.02,589.0v1.6M458.43,589.0v1.6M373.80,589.0v1.6M416.23,589.0v1.6M455.91,589.0v1.6M444.50,589.0v1.6M421.82,589.0v1.6M415.49,589.0v1.6M463.83,589.0v1.6M409.76,589.0v1.6M440.42,589.0v1.6M455.90,589.0v1.6M454.60,589.0v1.6M448.63,589.0v1.6M378.87,589.0v1.6M452.18,589.0v1.6M442.94,589.0v1.6M422.27,589.0v1.6M397.78,589.0v1.6M354.04,589.0v1.6M458.30,589.0v1.6M428.14,589.0v1.6M411.88,589.0v1.6M448.85,589.0v1.6M454.55,589.0v1.6M446.72,589.0v1.6M451.21,589.0v1.6M367.36,589.0v1.6M462.94,589.0v1.6M432.89,589.0v1.6M443.81,589.0v1.6M470.72,589.0v1.6M443.57,589.0v1.6M464.65,589.0v1.6M447.67,589.0v1.6M465.87,589.0v1.6M473.01,589.0v1.6M458.14,589.0v1.6M450.12,589.0v1.6M455.19,589.0v1.6M431.56,589.0v1.6M442.81,589.0v1.6M451.55,589.0v1.6M442.71,589.0v1.6M456.95,589.0v1.6M386.95,589.0v1.6M461.12,589.0v1.6M468.73,589.0v1.6M468.52,589.0v1.6" stroke="#000" stroke-opacity="0.55" stroke-width="0.3" fill="none"/>
<text x="345.8" y="599.3" font-size="8.37" text-anchor="end" fill="#231815" stroke="#231815" stroke-width="0.18">GTP hydrolysis and joining of the 60S ribosomal subunit</text>
<text x="504.2" y="600.3" font-size="8.3" text-anchor="end" fill="#231815" stroke="#231815" stroke-width="0.18">-1.97</text>
<text x="519.1" y="600.3" font-size="8.3" fill="#231815" stroke="#231815" stroke-width="0.18">1.3e-06</text>
<text x="567.8" y="600.3" font-size="8.3" fill="#231815" stroke="#231815" stroke-width="0.18">3.6e-05</text>
<path d="M445.35,598.5v1.6M463.81,598.5v1.6M444.77,598.5v1.6M459.59,598.5v1.6M470.06,598.5v1.6M443.15,598.5v1.6M435.76,598.5v1.6M467.48,598.5v1.6M438.35,598.5v1.6M445.37,598.5v1.6M451.11,598.5v1.6M418.03,598.5v1.6M420.17,598.5v1.6M427.88,598.5v1.6M442.76,598.5v1.6M449.02,598.5v1.6M456.05,598.5v1.6M444.35,598.5v1.6M457.97,598.5v1.6M453.65,598.5v1.6M455.04,598.5v1.6M469.05,598.5v1.6M451.76,598.5v1.6M428.01,598.5v1.6M424.44,598.5v1.6M458.12,598.5v1.6M464.68,598.5v1.6M459.12,598.5v1.6M471.20,598.5v1.6M444.35,598.5v1.6M456.23,598.5v1.6M465.85,598.5v1.6M433.67,598.5v1.6M442.69,598.5v1.6M461.38,598.5v1.6M460.38,598.5v1.6M461.96,598.5v1.6M461.62,598.5v1.6M463.88,598.5v1.6M447.59,598.5v1.6M460.26,598.5v1.6M457.28,598.5v1.6M455.38,598.5v1.6M458.69,598.5v1.6M454.84,598.5v1.6M467.11,598.5v1.6M452.91,598.5v1.6M444.75,598.5v1.6M451.11,598.5v1.6M377.79,598.5v1.6M451.07,598.5v1.6M456.25,598.5v1.6M447.66,598.5v1.6M456.33,598.5v1.6M415.99,598.5v1.6M473.95,598.5v1.6M441.69,598.5v1.6M466.61,598.5v1.6M450.47,598.5v1.6M360.55,598.5v1.6M458.74,598.5v1.6M458.53,598.5v1.6M452.39,598.5v1.6M449.01,598.5v1.6M467.87,598.5v1.6M466.03,598.5v1.6M432.23,598.5v1.6M419.54,598.5v1.6M430.01,598.5v1.6M450.21,598.5v1.6M462.77,598.5v1.6M445.14,598.5v1.6M469.58,598.5v1.6M466.77,598.5v1.6M418.71,598.5v1.6M460.65,598.5v1.6M443.18,598.5v1.6M468.92,598.5v1.6M444.23,598.5v1.6M444.35,598.5v1.6M459.48,598.5v1.6M444.51,598.5v1.6M436.24,598.5v1.6M457.76,598.5v1.6M449.28,598.5v1.6M448.05,598.5v1.6M467.90,598.5v1.6M468.51,598.5v1.6M459.12,598.5v1.6M454.44,598.5v1.6M449.55,598.5v1.6M449.23,598.5v1.6M459.62,598.5v1.6M461.41,598.5v1.6M459.97,598.5v1.6M468.71,598.5v1.6M452.30,598.5v1.6M447.89,598.5v1.6M443.12,598.5v1.6M445.62,598.5v1.6" stroke="#000" stroke-opacity="0.55" stroke-width="0.3" fill="none"/>
<text x="345.8" y="610.1" font-size="8.37" text-anchor="end" fill="#231815" stroke="#231815" stroke-width="0.18">Eukaryotic Translation Termination</text>
<text x="504.2" y="610.9" font-size="8.3" text-anchor="end" fill="#231815" stroke="#231815" stroke-width="0.18">-2.04</text>
<text x="519.1" y="610.9" font-size="8.3" fill="#231815" stroke="#231815" stroke-width="0.18">8.7e-07</text>
<text x="567.8" y="610.9" font-size="8.3" fill="#231815" stroke="#231815" stroke-width="0.18">2.7e-05</text>
<path d="M463.11,609.1v1.6M446.01,609.1v1.6M453.31,609.1v1.6M454.91,609.1v1.6M470.05,609.1v1.6M456.66,609.1v1.6M448.76,609.1v1.6M460.95,609.1v1.6M429.13,609.1v1.6M447.93,609.1v1.6M474.06,609.1v1.6M455.48,609.1v1.6M449.42,609.1v1.6M450.18,609.1v1.6M456.83,609.1v1.6M443.33,609.1v1.6M444.24,609.1v1.6M453.05,609.1v1.6M473.30,609.1v1.6M453.61,609.1v1.6M443.46,609.1v1.6M457.33,609.1v1.6M459.38,609.1v1.6M452.23,609.1v1.6M448.10,609.1v1.6M462.95,609.1v1.6M453.42,609.1v1.6M473.77,609.1v1.6M446.50,609.1v1.6M434.53,609.1v1.6M445.44,609.1v1.6M447.79,609.1v1.6M380.19,609.1v1.6M453.53,609.1v1.6M451.27,609.1v1.6M453.06,609.1v1.6M446.41,609.1v1.6M458.21,609.1v1.6M452.64,609.1v1.6M444.17,609.1v1.6M443.86,609.1v1.6M451.92,609.1v1.6M443.24,609.1v1.6M462.34,609.1v1.6M469.41,609.1v1.6M388.92,609.1v1.6M474.36,609.1v1.6M458.81,609.1v1.6M461.45,609.1v1.6M447.72,609.1v1.6M448.88,609.1v1.6M463.02,609.1v1.6M458.41,609.1v1.6M458.72,609.1v1.6M424.69,609.1v1.6M450.25,609.1v1.6M449.19,609.1v1.6M445.53,609.1v1.6M460.93,609.1v1.6M454.59,609.1v1.6M456.67,609.1v1.6M447.88,609.1v1.6M443.06,609.1v1.6M452.74,609.1v1.6M446.52,609.1v1.6M424.77,609.1v1.6M456.55,609.1v1.6M453.16,609.1v1.6M456.00,609.1v1.6M445.01,609.1v1.6M417.12,609.1v1.6M448.02,609.1v1.6M448.46,609.1v1.6M404.25,609.1v1.6M462.24,609.1v1.6M460.94,609.1v1.6M436.28,609.1v1.6M416.66,609.1v1.6M457.18,609.1v1.6M442.62,609.1v1.6M447.99,609.1v1.6M459.54,609.1v1.6M375.58,609.1v1.6M449.42,609.1v1.6M436.58,609.1v1.6M451.96,609.1v1.6M446.44,609.1v1.6M415.72,609.1v1.6M462.22,609.1v1.6M448.35,609.1v1.6M394.29,609.1v1.6M458.89,609.1v1.6M443.13,609.1v1.6M459.32,609.1v1.6M445.51,609.1v1.6" stroke="#000" stroke-opacity="0.55" stroke-width="0.3" fill="none"/>
<text x="345.8" y="621.0" font-size="8.37" text-anchor="end" fill="#231815" stroke="#231815" stroke-width="0.18">Viral mRNA Translation</text>
<text x="504.2" y="619.9" font-size="8.3" text-anchor="end" fill="#231815" stroke="#231815" stroke-width="0.18">-2.20</text>
<text x="519.1" y="619.9" font-size="8.3" fill="#231815" stroke="#231815" stroke-width="0.18">1.9e-08</text>
<text x="567.8" y="619.9" font-size="8.3" fill="#231815" stroke="#231815" stroke-width="0.18">9.7e-07</text>
<path d="M468.18,618.1v1.6M456.72,618.1v1.6M411.69,618.1v1.6M413.43,618.1v1.6M461.16,618.1v1.6M432.23,618.1v1.6M423.88,618.1v1.6M445.16,618.1v1.6M446.03,618.1v1.6M435.42,618.1v1.6M404.02,618.1v1.6M450.63,618.1v1.6M473.09,618.1v1.6M449.44,618.1v1.6M440.79,618.1v1.6M400.89,618.1v1.6M462.29,618.1v1.6M455.44,618.1v1.6M463.10,618.1v1.6M461.64,618.1v1.6M449.41,618.1v1.6M445.81,618.1v1.6M441.79,618.1v1.6M461.31,618.1v1.6M466.37,618.1v1.6M452.60,618.1v1.6M466.32,618.1v1.6M462.36,618.1v1.6M443.85,618.1v1.6M461.04,618.1v1.6M431.71,618.1v1.6M450.04,618.1v1.6M444.95,618.1v1.6M419.02,618.1v1.6M453.07,618.1v1.6M427.08,618.1v1.6M456.23,618.1v1.6M418.89,618.1v1.6M357.62,618.1v1.6M455.24,618.1v1.6M380.50,618.1v1.6M467.46,618.1v1.6M355.53,618.1v1.6M458.17,618.1v1.6M382.40,618.1v1.6M471.90,618.1v1.6M439.06,618.1v1.6M455.59,618.1v1.6M454.88,618.1v1.6M414.02,618.1v1.6M451.22,618.1v1.6M467.23,618.1v1.6M446.47,618.1v1.6M457.44,618.1v1.6M460.69,618.1v1.6M387.96,618.1v1.6M471.43,618.1v1.6M449.42,618.1v1.6M448.34,618.1v1.6M459.45,618.1v1.6M447.86,618.1v1.6M458.33,618.1v1.6M448.09,618.1v1.6M471.05,618.1v1.6M451.94,618.1v1.6M419.66,618.1v1.6M451.43,618.1v1.6M458.94,618.1v1.6M441.32,618.1v1.6M432.37,618.1v1.6M352.51,618.1v1.6M415.64,618.1v1.6M457.86,618.1v1.6M466.41,618.1v1.6M433.83,618.1v1.6M446.46,618.1v1.6M450.69,618.1v1.6M441.09,618.1v1.6M472.41,618.1v1.6M452.91,618.1v1.6M457.46,618.1v1.6M367.93,618.1v1.6M463.98,618.1v1.6M423.27,618.1v1.6M450.66,618.1v1.6M458.47,618.1v1.6M449.02,618.1v1.6M451.92,618.1v1.6M457.26,618.1v1.6M460.32,618.1v1.6M461.85,618.1v1.6M448.08,618.1v1.6M449.05,618.1v1.6M443.50,618.1v1.6M433.32,618.1v1.6" stroke="#000" stroke-opacity="0.55" stroke-width="0.3" fill="none"/>
<text x="345.8" y="629.4" font-size="8.37" text-anchor="end" fill="#231815" stroke="#231815" stroke-width="0.18">Eukaryotic Translation Elongation</text>
<text x="504.2" y="630.4" font-size="8.3" text-anchor="end" fill="#231815" stroke="#231815" stroke-width="0.18">-2.21</text>
<text x="519.1" y="630.4" font-size="8.3" fill="#231815" stroke="#231815" stroke-width="0.18">1.8e-08</text>
<text x="567.8" y="630.4" font-size="8.3" fill="#231815" stroke="#231815" stroke-width="0.18">9.7e-07</text>
<path d="M452.60,628.6v1.6M422.26,628.6v1.6M465.95,628.6v1.6M470.75,628.6v1.6M465.87,628.6v1.6M460.94,628.6v1.6M415.25,628.6v1.6M451.06,628.6v1.6M467.95,628.6v1.6M474.98,628.6v1.6M473.31,628.6v1.6M448.35,628.6v1.6M453.95,628.6v1.6M428.65,628.6v1.6M469.82,628.6v1.6M446.08,628.6v1.6M445.94,628.6v1.6M406.43,628.6v1.6M465.88,628.6v1.6M459.46,628.6v1.6M456.16,628.6v1.6M416.59,628.6v1.6M418.57,628.6v1.6M470.05,628.6v1.6M406.57,628.6v1.6M454.71,628.6v1.6M443.26,628.6v1.6M446.64,628.6v1.6M450.82,628.6v1.6M449.57,628.6v1.6M433.27,628.6v1.6M452.25,628.6v1.6M418.59,628.6v1.6M457.28,628.6v1.6M459.76,628.6v1.6M457.43,628.6v1.6M458.63,628.6v1.6M421.53,628.6v1.6M464.32,628.6v1.6M443.14,628.6v1.6M450.94,628.6v1.6M464.04,628.6v1.6M449.83,628.6v1.6M456.08,628.6v1.6M448.11,628.6v1.6M461.07,628.6v1.6M471.95,628.6v1.6M472.55,628.6v1.6M446.49,628.6v1.6M419.34,628.6v1.6M470.75,628.6v1.6M353.32,628.6v1.6M457.42,628.6v1.6M451.89,628.6v1.6M403.70,628.6v1.6M451.82,628.6v1.6M452.99,628.6v1.6M451.04,628.6v1.6M453.72,628.6v1.6M457.24,628.6v1.6M462.72,628.6v1.6M452.90,628.6v1.6M461.99,628.6v1.6M447.96,628.6v1.6M445.46,628.6v1.6M464.23,628.6v1.6M436.12,628.6v1.6M461.96,628.6v1.6M443.67,628.6v1.6M377.19,628.6v1.6M454.56,628.6v1.6M469.92,628.6v1.6M447.97,628.6v1.6M450.33,628.6v1.6M455.38,628.6v1.6M421.55,628.6v1.6M447.83,628.6v1.6M442.93,628.6v1.6M459.98,628.6v1.6M403.14,628.6v1.6M355.76,628.6v1.6M470.24,628.6v1.6M446.95,628.6v1.6M474.68,628.6v1.6M430.78,628.6v1.6M462.09,628.6v1.6M465.64,628.6v1.6M462.89,628.6v1.6M455.81,628.6v1.6M449.09,628.6v1.6M433.16,628.6v1.6M447.99,628.6v1.6M469.89,628.6v1.6M459.93,628.6v1.6M464.50,628.6v1.6" stroke="#000" stroke-opacity="0.55" stroke-width="0.3" fill="none"/>
<text x="345.8" y="640.8" font-size="8.37" text-anchor="end" fill="#231815" stroke="#231815" stroke-width="0.18">Peptide Chain Elongation</text>
<text x="504.2" y="640.8" font-size="8.3" text-anchor="end" fill="#231815" stroke="#231815" stroke-width="0.18">-2.21</text>
<text x="519.1" y="640.8" font-size="8.3" fill="#231815" stroke="#231815" stroke-width="0.18">1.5e-08</text>
<text x="567.8" y="640.8" font-size="8.3" fill="#231815" stroke="#231815" stroke-width="0.18">8.7e-07</text>
<path d="M449.92,639.0v1.6M434.24,639.0v1.6M418.57,639.0v1.6M470.53,639.0v1.6M454.12,639.0v1.6M455.16,639.0v1.6M470.34,639.0v1.6M453.79,639.0v1.6M456.08,639.0v1.6M443.27,639.0v1.6M448.53,639.0v1.6M462.47,639.0v1.6M460.49,639.0v1.6M444.29,639.0v1.6M473.88,639.0v1.6M459.85,639.0v1.6M452.10,639.0v1.6M435.21,639.0v1.6M455.36,639.0v1.6M433.82,639.0v1.6M439.17,639.0v1.6M449.09,639.0v1.6M395.02,639.0v1.6M450.12,639.0v1.6M436.80,639.0v1.6M444.83,639.0v1.6M359.03,639.0v1.6M457.88,639.0v1.6M435.74,639.0v1.6M448.80,639.0v1.6M421.83,639.0v1.6M456.84,639.0v1.6M445.87,639.0v1.6M466.57,639.0v1.6M447.13,639.0v1.6M433.72,639.0v1.6M456.00,639.0v1.6M455.27,639.0v1.6M447.67,639.0v1.6M418.59,639.0v1.6M398.90,639.0v1.6M459.46,639.0v1.6M461.27,639.0v1.6M391.00,639.0v1.6M457.42,639.0v1.6M358.21,639.0v1.6M454.80,639.0v1.6M462.33,639.0v1.6M374.55,639.0v1.6M450.92,639.0v1.6M426.46,639.0v1.6M431.12,639.0v1.6M441.20,639.0v1.6M443.61,639.0v1.6M450.84,639.0v1.6M431.24,639.0v1.6M451.90,639.0v1.6M395.06,639.0v1.6M439.59,639.0v1.6M461.27,639.0v1.6M453.60,639.0v1.6M406.23,639.0v1.6M467.44,639.0v1.6M449.89,639.0v1.6M473.84,639.0v1.6M453.44,639.0v1.6M384.44,639.0v1.6M460.34,639.0v1.6M448.07,639.0v1.6M471.19,639.0v1.6M452.51,639.0v1.6M454.90,639.0v1.6M447.21,639.0v1.6M434.70,639.0v1.6M446.72,639.0v1.6M454.90,639.0v1.6M444.75,639.0v1.6M465.29,639.0v1.6M462.43,639.0v1.6M438.13,639.0v1.6M435.83,639.0v1.6M449.13,639.0v1.6M473.25,639.0v1.6M447.92,639.0v1.6M443.75,639.0v1.6M467.41,639.0v1.6M451.18,639.0v1.6M462.60,639.0v1.6M444.45,639.0v1.6M460.66,639.0v1.6M474.28,639.0v1.6M425.27,639.0v1.6M461.07,639.0v1.6M464.63,639.0v1.6M453.07,639.0v1.6" stroke="#000" stroke-opacity="0.55" stroke-width="0.3" fill="none"/>
<text x="345.8" y="651.4" font-size="8.37" text-anchor="end" fill="#231815" stroke="#231815" stroke-width="0.18">Formation of a pool of free 40S subunits</text>
<text x="504.2" y="650.9" font-size="8.3" text-anchor="end" fill="#231815" stroke="#231815" stroke-width="0.18">-2.22</text>
<text x="519.1" y="650.9" font-size="8.3" fill="#231815" stroke="#231815" stroke-width="0.18">1.1e-08</text>
<text x="567.8" y="650.9" font-size="8.3" fill="#231815" stroke="#231815" stroke-width="0.18">6.6e-07</text>
<path d="M456.49,649.1v1.6M455.02,649.1v1.6M456.30,649.1v1.6M438.94,649.1v1.6M452.82,649.1v1.6M447.14,649.1v1.6M374.03,649.1v1.6M442.88,649.1v1.6M431.37,649.1v1.6M467.32,649.1v1.6M441.13,649.1v1.6M471.61,649.1v1.6M451.68,649.1v1.6M448.44,649.1v1.6M442.82,649.1v1.6M464.53,649.1v1.6M454.39,649.1v1.6M465.76,649.1v1.6M439.54,649.1v1.6M430.91,649.1v1.6M465.06,649.1v1.6M457.33,649.1v1.6M455.79,649.1v1.6M447.16,649.1v1.6M454.80,649.1v1.6M474.87,649.1v1.6M428.46,649.1v1.6M440.57,649.1v1.6M425.57,649.1v1.6M457.37,649.1v1.6M442.32,649.1v1.6M429.36,649.1v1.6M464.08,649.1v1.6M416.06,649.1v1.6M459.80,649.1v1.6M438.98,649.1v1.6M449.43,649.1v1.6M471.15,649.1v1.6M441.09,649.1v1.6M418.32,649.1v1.6M456.00,649.1v1.6M444.11,649.1v1.6M442.65,649.1v1.6M449.32,649.1v1.6M450.07,649.1v1.6M459.71,649.1v1.6M451.80,649.1v1.6M433.80,649.1v1.6M423.78,649.1v1.6M457.92,649.1v1.6M465.81,649.1v1.6M457.25,649.1v1.6M437.17,649.1v1.6M430.25,649.1v1.6M458.58,649.1v1.6M446.33,649.1v1.6M382.34,649.1v1.6M470.12,649.1v1.6M425.61,649.1v1.6M468.36,649.1v1.6M445.63,649.1v1.6M451.58,649.1v1.6M443.12,649.1v1.6M458.36,649.1v1.6M453.96,649.1v1.6M446.92,649.1v1.6M449.95,649.1v1.6M452.57,649.1v1.6M413.65,649.1v1.6M445.43,649.1v1.6M456.26,649.1v1.6M409.27,649.1v1.6M462.34,649.1v1.6M464.73,649.1v1.6M402.32,649.1v1.6M453.79,649.1v1.6M446.11,649.1v1.6M467.49,649.1v1.6M472.65,649.1v1.6M454.29,649.1v1.6M448.44,649.1v1.6M458.67,649.1v1.6M443.29,649.1v1.6M469.76,649.1v1.6M413.34,649.1v1.6M458.72,649.1v1.6M466.49,649.1v1.6M442.08,649.1v1.6M473.21,649.1v1.6M449.28,649.1v1.6M448.91,649.1v1.6M445.95,649.1v1.6M460.94,649.1v1.6M417.83,649.1v1.6M458.73,649.1v1.6M405.49,649.1v1.6M451.97,649.1v1.6M452.21,649.1v1.6M414.02,649.1v1.6M457.30,649.1v1.6" stroke="#000" stroke-opacity="0.55" stroke-width="0.3" fill="none"/>
<path d="M352.50,651.2v1M382.90,651.2v1M413.30,651.2v1M443.70,651.2v1M474.10,651.2v1" stroke="#444" stroke-width="0.6" fill="none"/>
<text x="350.3" y="667.0" font-size="9.6" text-anchor="middle" fill="#333" stroke="#333" stroke-width="0.18">0</text>
<text x="378.3" y="667.0" font-size="9.6" text-anchor="middle" fill="#333" stroke="#333" stroke-width="0.18">5000</text>
<text x="411.2" y="667.0" font-size="9.6" text-anchor="middle" fill="#333" stroke="#333" stroke-width="0.18">10000</text>
<text x="444.7" y="667.0" font-size="9.6" text-anchor="middle" fill="#333" stroke="#333" stroke-width="0.18">15000</text>
<text x="478.0" y="667.0" font-size="9.6" text-anchor="middle" fill="#333" stroke="#333" stroke-width="0.18">20000</text>
</svg></body></html>
